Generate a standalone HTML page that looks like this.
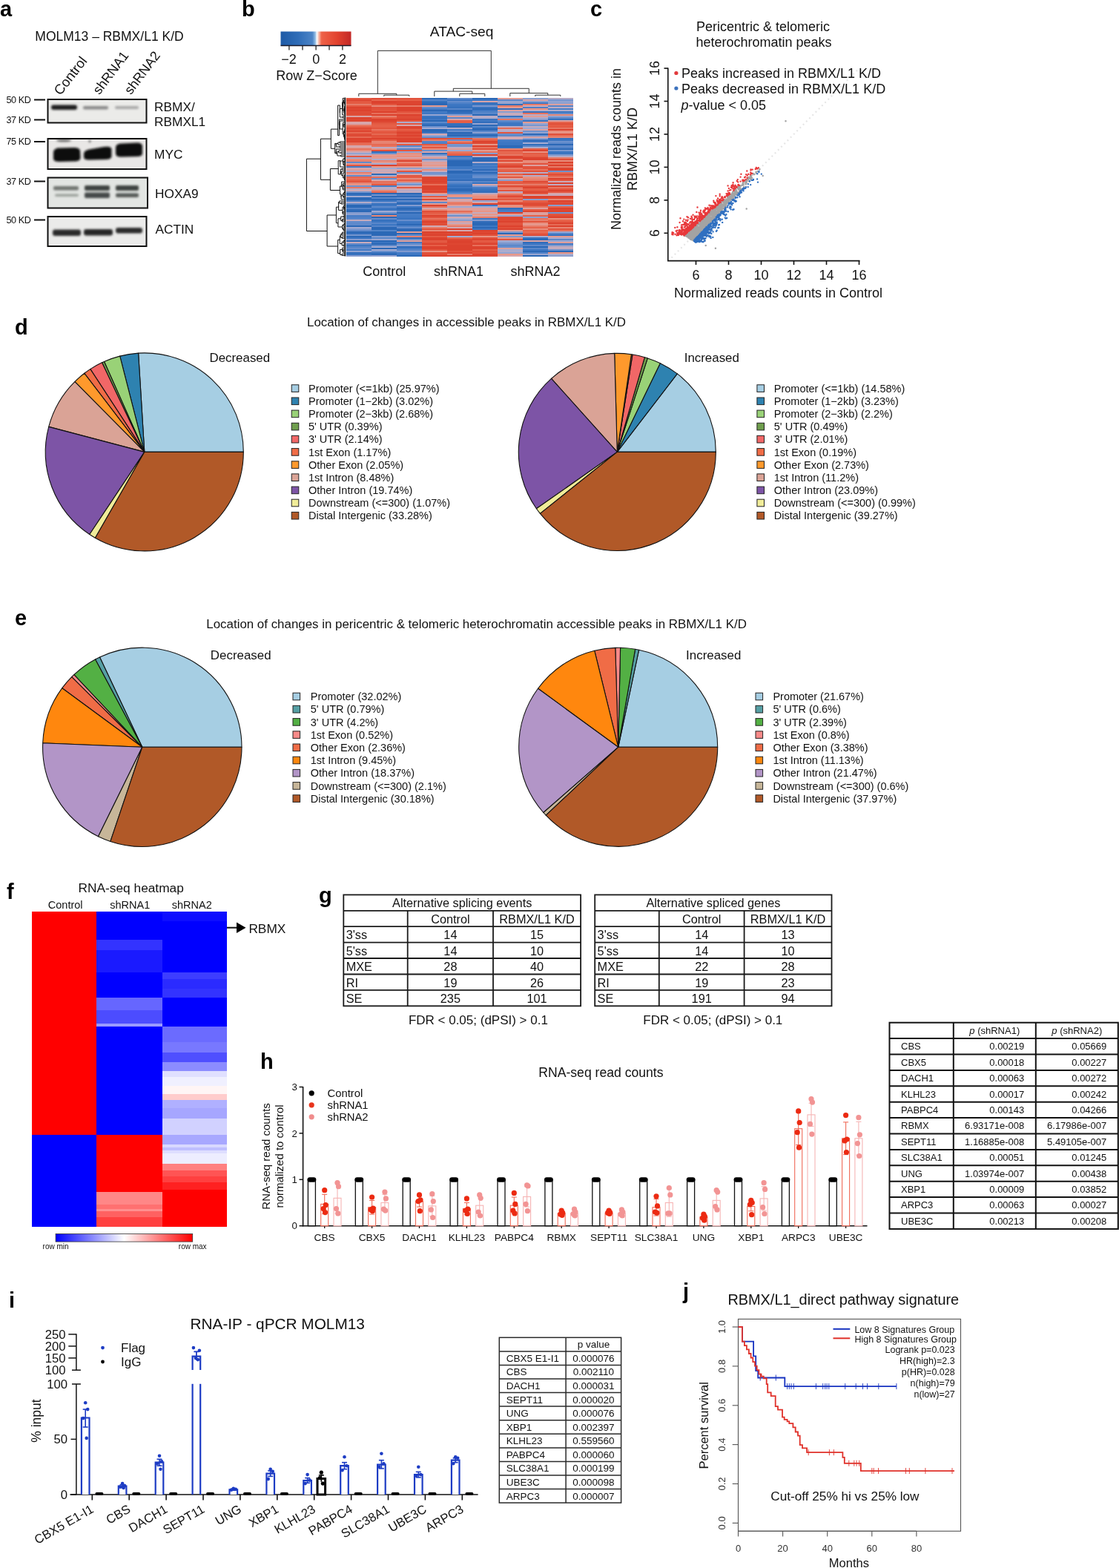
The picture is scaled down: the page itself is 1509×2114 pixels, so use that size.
<!DOCTYPE html>
<html><head><meta charset="utf-8"><title>Figure</title>
<style>
html,body{margin:0;padding:0;background:#fff;overflow:hidden;width:1509px;height:2114px;}
svg{display:block;font-family:"Liberation Sans",Arial,Helvetica,sans-serif;}
</style></head><body>
<svg width="1509" height="2114" viewBox="0 0 1509 2114">
<defs><filter id="blur1" x="-30%" y="-80%" width="160%" height="260%"><feGaussianBlur stdDeviation="1.6"/></filter>
<filter id="blur2" x="-30%" y="-80%" width="160%" height="260%"><feGaussianBlur stdDeviation="2.4"/></filter>
<filter id="blur3" x="-30%" y="-80%" width="160%" height="260%"><feGaussianBlur stdDeviation="1.0"/></filter>
<linearGradient id="zkey" x1="0" x2="1" y1="0" y2="0">
<stop offset="0" stop-color="#1d5aa6"/><stop offset="0.25" stop-color="#2f6db8"/>
<stop offset="0.45" stop-color="#4c84c6"/><stop offset="0.49" stop-color="#8ebbe4"/>
<stop offset="0.515" stop-color="#fbfbfb"/><stop offset="0.545" stop-color="#f8b4a2"/>
<stop offset="0.58" stop-color="#ee6248"/><stop offset="0.8" stop-color="#e2432f"/>
<stop offset="1" stop-color="#c22826"/></linearGradient>
<linearGradient id="fbar" x1="0" x2="1" y1="0" y2="0"><stop offset="0" stop-color="#0000ff"/><stop offset="0.5" stop-color="#ffffff"/><stop offset="1" stop-color="#ff0000"/></linearGradient></defs>
<rect x="0" y="0" width="1509" height="2114" fill="#fff"/>
<text x="0" y="22" font-size="29" font-weight="bold" fill="#000" >a</text>
<text x="147.5" y="54.5" font-size="17.5" text-anchor="middle" fill="#111" >MOLM13 – RBMX/L1 K/D</text>
<text transform="translate(81.5 129.5) rotate(-52)" font-size="18.5" fill="#111">Control</text>
<text transform="translate(134 128.5) rotate(-53)" font-size="18" fill="#111">shRNA1</text>
<text transform="translate(176.5 128.5) rotate(-53)" font-size="18" fill="#111">shRNA2</text>
<rect x="64.5" y="134" width="133" height="31.5" fill="#ebebe9"/>
<g clip-path="none" filter="url(#blur1)">
<rect x="69" y="141.5" width="35" height="6.5" rx="3" fill="#1a1a1a"/>
<rect x="112" y="143" width="34" height="4.5" rx="2" fill="#8a8a8a"/>
<rect x="155" y="143" width="32" height="4" rx="2" fill="#a8a8a8"/>
</g>
<rect x="64.5" y="134" width="133" height="31.5" fill="none" stroke="#111" stroke-width="2"/>
<rect x="64.5" y="187" width="133" height="41" fill="#e9e7e6"/>
<g filter="url(#blur1)" fill="#0e0e0e">
<path d="M72 205 Q73 199.5 80 199.5 L100 199 Q107 199 108 203 L108.5 213 Q108 217.5 100 217.5 L80 218 Q72 218 72 214 Z"/>
<path d="M113 207 Q113 203 120 201.5 L140 198 Q150 196.5 150.5 201 L150.5 211 Q150 215 142 215 L120 215.5 Q113 215.5 113 212 Z"/>
<path d="M156 199 Q156 194 163 193.5 L185 192.5 Q192 192.5 192 197 L192 207 Q192 211 185 211 L163 211.5 Q156 211.5 156 207 Z"/>
<ellipse cx="86" cy="189.5" rx="10" ry="1.8" fill="#6a6a6a"/>
<ellipse cx="121" cy="190.5" rx="1.5" ry="1.5" fill="#555"/>
</g>
<rect x="64.5" y="187" width="133" height="41" fill="none" stroke="#111" stroke-width="2"/>
<rect x="64.5" y="239.5" width="134.5" height="41" fill="#e2e5e2"/>
<g clip-path="none" filter="url(#blur1)">
<rect x="72" y="251" width="34" height="5.5" rx="2" fill="#707570"/>
<rect x="74" y="261.5" width="32" height="3.5" rx="2" fill="#9aa09a"/>
<rect x="114" y="250" width="34" height="7" rx="2" fill="#3e423f"/>
<rect x="114" y="259.5" width="34" height="7.5" rx="2" fill="#454a48"/>
<rect x="156" y="250" width="31" height="7" rx="2" fill="#3e423f"/>
<rect x="156" y="260.5" width="31" height="5.5" rx="2" fill="#555a57"/>
</g>
<rect x="64.5" y="239.5" width="134.5" height="41" fill="none" stroke="#111" stroke-width="2"/>
<rect x="64.5" y="292" width="133" height="40" fill="#ebebea"/>
<g clip-path="none" filter="url(#blur1)">
<rect x="71" y="309.5" width="38" height="8.5" rx="3" fill="#2a2a2a"/>
<rect x="113" y="309" width="39" height="8.5" rx="3" fill="#262626"/>
<rect x="156" y="307" width="36" height="7.5" rx="3" fill="#2a2a2a"/>
</g>
<rect x="64.5" y="292" width="133" height="40" fill="none" stroke="#111" stroke-width="2"/>
<text x="8.5" y="138.8" font-size="12.6" fill="#111" letter-spacing="-0.4">50 KD</text>
<line x1="46" y1="134.5" x2="61" y2="134.5" stroke="#111" stroke-width="2" />
<text x="8.5" y="165.8" font-size="12.6" fill="#111" letter-spacing="-0.4">37 KD</text>
<line x1="46" y1="161.5" x2="61" y2="161.5" stroke="#111" stroke-width="2" />
<text x="8.5" y="195.3" font-size="12.6" fill="#111" letter-spacing="-0.4">75 KD</text>
<line x1="46" y1="191" x2="61" y2="191" stroke="#111" stroke-width="2" />
<text x="8.5" y="248.8" font-size="12.6" fill="#111" letter-spacing="-0.4">37 KD</text>
<line x1="46" y1="244.5" x2="61" y2="244.5" stroke="#111" stroke-width="2" />
<text x="8.5" y="300.8" font-size="12.6" fill="#111" letter-spacing="-0.4">50 KD</text>
<line x1="46" y1="296.5" x2="61" y2="296.5" stroke="#111" stroke-width="2" />
<text x="208" y="150" font-size="17.3" fill="#111" >RBMX/</text>
<text x="208" y="170" font-size="17.3" fill="#111" >RBMXL1</text>
<text x="208" y="213.5" font-size="17.3" fill="#111" >MYC</text>
<text x="209" y="267" font-size="17.3" fill="#111" >HOXA9</text>
<text x="209.5" y="314.5" font-size="17.3" fill="#111" >ACTIN</text>
<text x="326" y="22" font-size="29" font-weight="bold" fill="#000" >b</text>
<text x="622.6" y="49.2" font-size="19.2" text-anchor="middle" fill="#111" >ATAC-seq</text>
<rect x="378.5" y="42.5" width="95" height="19" fill="url(#zkey)" />
<line x1="378.5" y1="61.5" x2="473.5" y2="61.5" stroke="#1a1a2a" stroke-width="1.5" />
<line x1="389.9" y1="61.5" x2="389.9" y2="67.5" stroke="#222" stroke-width="1.3" />
<line x1="408" y1="61.5" x2="408" y2="67.5" stroke="#222" stroke-width="1.3" />
<line x1="426.1" y1="61.5" x2="426.1" y2="67.5" stroke="#222" stroke-width="1.3" />
<line x1="444" y1="61.5" x2="444" y2="67.5" stroke="#222" stroke-width="1.3" />
<line x1="461.9" y1="61.5" x2="461.9" y2="67.5" stroke="#222" stroke-width="1.3" />
<text x="389.5" y="85.5" font-size="18" text-anchor="middle" fill="#111" >−2</text>
<text x="426.3" y="85.5" font-size="18" text-anchor="middle" fill="#111" >0</text>
<text x="462" y="85.5" font-size="18" text-anchor="middle" fill="#111" >2</text>
<text x="427" y="108" font-size="18" text-anchor="middle" fill="#111" >Row Z−Score</text>
<g shape-rendering="crispEdges">
<rect x="466.8" y="131.5" width="34.3" height="2.3" fill="#e45942"/>
<rect x="466.8" y="133.5" width="34.3" height="2.3" fill="#dd4631"/>
<rect x="466.8" y="135.5" width="34.3" height="2.3" fill="#e35841"/>
<rect x="466.8" y="137.5" width="34.3" height="2.3" fill="#e45b43"/>
<rect x="466.8" y="139.5" width="34.3" height="2.3" fill="#e77c68"/>
<rect x="466.8" y="141.5" width="34.3" height="2.3" fill="#e35841"/>
<rect x="466.8" y="143.5" width="34.3" height="2.3" fill="#dc422e"/>
<rect x="466.8" y="145.5" width="34.3" height="2.3" fill="#de4833"/>
<rect x="466.8" y="147.5" width="34.3" height="2.3" fill="#dc422e"/>
<rect x="466.8" y="149.5" width="34.3" height="2.3" fill="#df4c37"/>
<rect x="466.8" y="151.5" width="34.3" height="2.3" fill="#de4934"/>
<rect x="466.8" y="153.5" width="34.3" height="2.3" fill="#e04e38"/>
<rect x="466.8" y="155.5" width="34.3" height="2.3" fill="#d9a3a5"/>
<rect x="466.8" y="157.5" width="34.3" height="2.3" fill="#dc422e"/>
<rect x="466.8" y="159.5" width="34.3" height="4.3" fill="#dd4631"/>
<rect x="466.8" y="163.5" width="34.3" height="2.3" fill="#d8a4a7"/>
<rect x="466.8" y="165.5" width="34.3" height="2.3" fill="#d6a6ac"/>
<rect x="466.8" y="167.5" width="34.3" height="2.3" fill="#e77965"/>
<rect x="466.8" y="169.5" width="34.3" height="2.3" fill="#e65f47"/>
<rect x="466.8" y="171.5" width="34.3" height="2.3" fill="#df4b36"/>
<rect x="466.8" y="173.5" width="34.3" height="2.3" fill="#e2543d"/>
<rect x="466.8" y="175.5" width="34.3" height="2.3" fill="#dd4531"/>
<rect x="466.8" y="177.5" width="34.3" height="2.3" fill="#e66851"/>
<rect x="466.8" y="179.5" width="34.3" height="2.3" fill="#df4b36"/>
<rect x="466.8" y="181.5" width="34.3" height="2.3" fill="#de4934"/>
<rect x="466.8" y="183.5" width="34.3" height="2.3" fill="#e66953"/>
<rect x="466.8" y="185.5" width="34.3" height="2.3" fill="#dc422e"/>
<rect x="466.8" y="187.5" width="34.3" height="2.3" fill="#dd4530"/>
<rect x="466.8" y="189.5" width="34.3" height="2.3" fill="#dc422e"/>
<rect x="466.8" y="191.5" width="34.3" height="2.3" fill="#e66650"/>
<rect x="466.8" y="193.5" width="34.3" height="2.3" fill="#e76f59"/>
<rect x="466.8" y="195.5" width="34.3" height="2.3" fill="#d4a8b0"/>
<rect x="466.8" y="197.5" width="34.3" height="2.3" fill="#de9f9b"/>
<rect x="466.8" y="199.5" width="34.3" height="2.3" fill="#e7745f"/>
<rect x="466.8" y="201.5" width="34.3" height="2.3" fill="#e88e7e"/>
<rect x="466.8" y="203.5" width="34.3" height="2.3" fill="#ccaab8"/>
<rect x="466.8" y="205.5" width="34.3" height="2.3" fill="#94a4d1"/>
<rect x="466.8" y="207.5" width="34.3" height="2.3" fill="#c4abbe"/>
<rect x="466.8" y="209.5" width="34.3" height="2.3" fill="#e35841"/>
<rect x="466.8" y="211.5" width="34.3" height="2.3" fill="#a3abd2"/>
<rect x="466.8" y="213.5" width="34.3" height="2.3" fill="#e88e7e"/>
<rect x="466.8" y="215.5" width="34.3" height="2.3" fill="#e7826f"/>
<rect x="466.8" y="217.5" width="34.3" height="2.3" fill="#638ccc"/>
<rect x="466.8" y="219.5" width="34.3" height="2.3" fill="#e5998e"/>
<rect x="466.8" y="221.5" width="34.3" height="2.3" fill="#e35640"/>
<rect x="466.8" y="223.5" width="34.3" height="2.3" fill="#447bc5"/>
<rect x="466.8" y="225.5" width="34.3" height="2.3" fill="#d5a7ae"/>
<rect x="466.8" y="227.5" width="34.3" height="2.3" fill="#de9f9b"/>
<rect x="466.8" y="229.5" width="34.3" height="2.3" fill="#a2abd2"/>
<rect x="466.8" y="231.5" width="34.3" height="2.3" fill="#e77d6a"/>
<rect x="466.8" y="233.5" width="34.3" height="2.3" fill="#e09d98"/>
<rect x="466.8" y="235.5" width="34.3" height="2.3" fill="#658dcc"/>
<rect x="466.8" y="237.5" width="34.3" height="2.3" fill="#e6664f"/>
<rect x="466.8" y="239.5" width="34.3" height="2.3" fill="#e7715c"/>
<rect x="466.8" y="241.5" width="34.3" height="2.3" fill="#e65f47"/>
<rect x="466.8" y="243.5" width="34.3" height="2.3" fill="#e2533d"/>
<rect x="466.8" y="245.5" width="34.3" height="2.3" fill="#e78675"/>
<rect x="466.8" y="247.5" width="34.3" height="2.3" fill="#e79688"/>
<rect x="466.8" y="249.5" width="34.3" height="2.3" fill="#7093ce"/>
<rect x="466.8" y="251.5" width="34.3" height="2.3" fill="#e77560"/>
<rect x="466.8" y="253.5" width="34.3" height="2.3" fill="#b9abc4"/>
<rect x="466.8" y="255.5" width="34.3" height="2.3" fill="#cbaab8"/>
<rect x="466.8" y="257.5" width="34.3" height="2.3" fill="#7395ce"/>
<rect x="466.8" y="259.5" width="34.3" height="2.3" fill="#2d69b7"/>
<rect x="466.8" y="261.5" width="34.3" height="2.3" fill="#3470bd"/>
<rect x="466.8" y="263.5" width="34.3" height="2.3" fill="#a2abd2"/>
<rect x="466.8" y="265.5" width="34.3" height="4.3" fill="#2b68b6"/>
<rect x="466.8" y="269.5" width="34.3" height="2.3" fill="#4d80c7"/>
<rect x="466.8" y="271.5" width="34.3" height="2.3" fill="#b4abc8"/>
<rect x="466.8" y="273.5" width="34.3" height="2.3" fill="#618bcb"/>
<rect x="466.8" y="275.5" width="34.3" height="4.3" fill="#2b68b6"/>
<rect x="466.8" y="279.5" width="34.3" height="2.3" fill="#5484c9"/>
<rect x="466.8" y="281.5" width="34.3" height="2.3" fill="#316dba"/>
<rect x="466.8" y="283.5" width="34.3" height="2.3" fill="#2b68b6"/>
<rect x="466.8" y="285.5" width="34.3" height="2.3" fill="#829bcf"/>
<rect x="466.8" y="287.5" width="34.3" height="2.3" fill="#8fa1d0"/>
<rect x="466.8" y="289.5" width="34.3" height="2.3" fill="#487dc6"/>
<rect x="466.8" y="291.5" width="34.3" height="2.3" fill="#4d80c7"/>
<rect x="466.8" y="293.5" width="34.3" height="2.3" fill="#5886ca"/>
<rect x="466.8" y="295.5" width="34.3" height="2.3" fill="#c5abbd"/>
<rect x="466.8" y="297.5" width="34.3" height="2.3" fill="#648ccc"/>
<rect x="466.8" y="299.5" width="34.3" height="2.3" fill="#5e89cb"/>
<rect x="466.8" y="301.5" width="34.3" height="2.3" fill="#5f8acb"/>
<rect x="466.8" y="303.5" width="34.3" height="2.3" fill="#2b68b6"/>
<rect x="466.8" y="305.5" width="34.3" height="2.3" fill="#a1aad2"/>
<rect x="466.8" y="307.5" width="34.3" height="2.3" fill="#7f9acf"/>
<rect x="466.8" y="309.5" width="34.3" height="2.3" fill="#5e89cb"/>
<rect x="466.8" y="311.5" width="34.3" height="2.3" fill="#2b68b6"/>
<rect x="466.8" y="313.5" width="34.3" height="2.3" fill="#336ebc"/>
<rect x="466.8" y="315.5" width="34.3" height="2.3" fill="#7495ce"/>
<rect x="466.8" y="317.5" width="34.3" height="2.3" fill="#2b68b6"/>
<rect x="466.8" y="319.5" width="34.3" height="2.3" fill="#3b75c2"/>
<rect x="466.8" y="321.5" width="34.3" height="2.3" fill="#869dd0"/>
<rect x="466.8" y="323.5" width="34.3" height="2.3" fill="#2b68b6"/>
<rect x="466.8" y="325.5" width="34.3" height="2.3" fill="#c7abbc"/>
<rect x="466.8" y="327.5" width="34.3" height="2.3" fill="#608acb"/>
<rect x="466.8" y="329.5" width="34.3" height="2.3" fill="#3b76c2"/>
<rect x="466.8" y="331.5" width="34.3" height="2.3" fill="#5283c8"/>
<rect x="466.8" y="333.5" width="34.3" height="2.3" fill="#668dcc"/>
<rect x="466.8" y="335.5" width="34.3" height="2.3" fill="#457cc6"/>
<rect x="466.8" y="337.5" width="34.3" height="2.3" fill="#93a4d1"/>
<rect x="466.8" y="339.5" width="34.3" height="2.3" fill="#326ebb"/>
<rect x="466.8" y="341.5" width="34.3" height="2.3" fill="#3772be"/>
<rect x="466.8" y="343.5" width="34.3" height="2.3" fill="#889ed0"/>
<rect x="500.8" y="131.5" width="34.3" height="2.3" fill="#df4b36"/>
<rect x="500.8" y="133.5" width="34.3" height="2.3" fill="#e6664f"/>
<rect x="500.8" y="135.5" width="34.3" height="4.3" fill="#dc422e"/>
<rect x="500.8" y="139.5" width="34.3" height="2.3" fill="#e35740"/>
<rect x="500.8" y="141.5" width="34.3" height="2.3" fill="#e78877"/>
<rect x="500.8" y="143.5" width="34.3" height="2.3" fill="#e04f3a"/>
<rect x="500.8" y="145.5" width="34.3" height="2.3" fill="#e1503a"/>
<rect x="500.8" y="147.5" width="34.3" height="2.3" fill="#e2543d"/>
<rect x="500.8" y="149.5" width="34.3" height="2.3" fill="#dc422e"/>
<rect x="500.8" y="151.5" width="34.3" height="2.3" fill="#e7705b"/>
<rect x="500.8" y="153.5" width="34.3" height="2.3" fill="#dc422e"/>
<rect x="500.8" y="155.5" width="34.3" height="2.3" fill="#e7816e"/>
<rect x="500.8" y="157.5" width="34.3" height="2.3" fill="#e66048"/>
<rect x="500.8" y="159.5" width="34.3" height="4.3" fill="#dc422e"/>
<rect x="500.8" y="163.5" width="34.3" height="2.3" fill="#e04e38"/>
<rect x="500.8" y="165.5" width="34.3" height="2.3" fill="#e45b43"/>
<rect x="500.8" y="167.5" width="34.3" height="2.3" fill="#e66048"/>
<rect x="500.8" y="169.5" width="34.3" height="2.3" fill="#e65f48"/>
<rect x="500.8" y="171.5" width="34.3" height="2.3" fill="#e2553e"/>
<rect x="500.8" y="173.5" width="34.3" height="2.3" fill="#e77561"/>
<rect x="500.8" y="175.5" width="34.3" height="2.3" fill="#e55c45"/>
<rect x="500.8" y="177.5" width="34.3" height="2.3" fill="#e2553e"/>
<rect x="500.8" y="179.5" width="34.3" height="2.3" fill="#e66952"/>
<rect x="500.8" y="181.5" width="34.3" height="2.3" fill="#e1503a"/>
<rect x="500.8" y="183.5" width="34.3" height="2.3" fill="#e2553e"/>
<rect x="500.8" y="185.5" width="34.3" height="2.3" fill="#dc422e"/>
<rect x="500.8" y="187.5" width="34.3" height="2.3" fill="#e45b44"/>
<rect x="500.8" y="189.5" width="34.3" height="2.3" fill="#e78675"/>
<rect x="500.8" y="191.5" width="34.3" height="2.3" fill="#e78270"/>
<rect x="500.8" y="193.5" width="34.3" height="2.3" fill="#e66a54"/>
<rect x="500.8" y="195.5" width="34.3" height="2.3" fill="#e7725d"/>
<rect x="500.8" y="197.5" width="34.3" height="2.3" fill="#bbabc4"/>
<rect x="500.8" y="199.5" width="34.3" height="2.3" fill="#e89688"/>
<rect x="500.8" y="201.5" width="34.3" height="2.3" fill="#e04f3a"/>
<rect x="500.8" y="203.5" width="34.3" height="2.3" fill="#316dba"/>
<rect x="500.8" y="205.5" width="34.3" height="2.3" fill="#6a90cd"/>
<rect x="500.8" y="207.5" width="34.3" height="2.3" fill="#e29c94"/>
<rect x="500.8" y="209.5" width="34.3" height="2.3" fill="#e89687"/>
<rect x="500.8" y="211.5" width="34.3" height="2.3" fill="#e19c94"/>
<rect x="500.8" y="213.5" width="34.3" height="2.3" fill="#b0accb"/>
<rect x="500.8" y="215.5" width="34.3" height="2.3" fill="#e78472"/>
<rect x="500.8" y="217.5" width="34.3" height="2.3" fill="#e39a91"/>
<rect x="500.8" y="219.5" width="34.3" height="2.3" fill="#a5acd2"/>
<rect x="500.8" y="221.5" width="34.3" height="2.3" fill="#dc422e"/>
<rect x="500.8" y="223.5" width="34.3" height="2.3" fill="#e6988a"/>
<rect x="500.8" y="225.5" width="34.3" height="2.3" fill="#a2abd2"/>
<rect x="500.8" y="227.5" width="34.3" height="2.3" fill="#d3a9b1"/>
<rect x="500.8" y="229.5" width="34.3" height="2.3" fill="#c7aabb"/>
<rect x="500.8" y="231.5" width="34.3" height="2.3" fill="#d5a7ae"/>
<rect x="500.8" y="233.5" width="34.3" height="2.3" fill="#2e6bb8"/>
<rect x="500.8" y="235.5" width="34.3" height="2.3" fill="#a9accf"/>
<rect x="500.8" y="237.5" width="34.3" height="2.3" fill="#e66c56"/>
<rect x="500.8" y="239.5" width="34.3" height="2.3" fill="#678ecd"/>
<rect x="500.8" y="241.5" width="34.3" height="2.3" fill="#d5a8ae"/>
<rect x="500.8" y="243.5" width="34.3" height="2.3" fill="#e7705a"/>
<rect x="500.8" y="245.5" width="34.3" height="2.3" fill="#e77662"/>
<rect x="500.8" y="247.5" width="34.3" height="2.3" fill="#e35841"/>
<rect x="500.8" y="249.5" width="34.3" height="2.3" fill="#477dc6"/>
<rect x="500.8" y="251.5" width="34.3" height="2.3" fill="#b9abc5"/>
<rect x="500.8" y="253.5" width="34.3" height="2.3" fill="#baabc4"/>
<rect x="500.8" y="255.5" width="34.3" height="2.3" fill="#e78675"/>
<rect x="500.8" y="257.5" width="34.3" height="2.3" fill="#e6664f"/>
<rect x="500.8" y="259.5" width="34.3" height="2.3" fill="#2b68b6"/>
<rect x="500.8" y="261.5" width="34.3" height="2.3" fill="#7294ce"/>
<rect x="500.8" y="263.5" width="34.3" height="2.3" fill="#2b68b6"/>
<rect x="500.8" y="265.5" width="34.3" height="2.3" fill="#5886c9"/>
<rect x="500.8" y="267.5" width="34.3" height="2.3" fill="#2b68b6"/>
<rect x="500.8" y="269.5" width="34.3" height="2.3" fill="#3c77c3"/>
<rect x="500.8" y="271.5" width="34.3" height="2.3" fill="#7d99cf"/>
<rect x="500.8" y="273.5" width="34.3" height="2.3" fill="#3772bf"/>
<rect x="500.8" y="275.5" width="34.3" height="2.3" fill="#3d77c3"/>
<rect x="500.8" y="277.5" width="34.3" height="2.3" fill="#5e8acb"/>
<rect x="500.8" y="279.5" width="34.3" height="2.3" fill="#3c76c2"/>
<rect x="500.8" y="281.5" width="34.3" height="2.3" fill="#3873bf"/>
<rect x="500.8" y="283.5" width="34.3" height="2.3" fill="#a0aad2"/>
<rect x="500.8" y="285.5" width="34.3" height="2.3" fill="#6e92ce"/>
<rect x="500.8" y="287.5" width="34.3" height="2.3" fill="#3470bd"/>
<rect x="500.8" y="289.5" width="34.3" height="2.3" fill="#e78573"/>
<rect x="500.8" y="291.5" width="34.3" height="2.3" fill="#2b68b6"/>
<rect x="500.8" y="293.5" width="34.3" height="2.3" fill="#668dcc"/>
<rect x="500.8" y="295.5" width="34.3" height="2.3" fill="#3470bd"/>
<rect x="500.8" y="297.5" width="34.3" height="2.3" fill="#3c76c2"/>
<rect x="500.8" y="299.5" width="34.3" height="2.3" fill="#5987ca"/>
<rect x="500.8" y="301.5" width="34.3" height="2.3" fill="#3d77c3"/>
<rect x="500.8" y="303.5" width="34.3" height="2.3" fill="#5584c9"/>
<rect x="500.8" y="305.5" width="34.3" height="4.3" fill="#2b68b6"/>
<rect x="500.8" y="309.5" width="34.3" height="2.3" fill="#5384c8"/>
<rect x="500.8" y="311.5" width="34.3" height="6.3" fill="#2b68b6"/>
<rect x="500.8" y="317.5" width="34.3" height="2.3" fill="#849dd0"/>
<rect x="500.8" y="319.5" width="34.3" height="2.3" fill="#5b88ca"/>
<rect x="500.8" y="321.5" width="34.3" height="2.3" fill="#9aa7d1"/>
<rect x="500.8" y="323.5" width="34.3" height="2.3" fill="#2b68b6"/>
<rect x="500.8" y="325.5" width="34.3" height="2.3" fill="#3974c1"/>
<rect x="500.8" y="327.5" width="34.3" height="2.3" fill="#2b68b6"/>
<rect x="500.8" y="329.5" width="34.3" height="2.3" fill="#5d89ca"/>
<rect x="500.8" y="331.5" width="34.3" height="2.3" fill="#a6acd1"/>
<rect x="500.8" y="333.5" width="34.3" height="2.3" fill="#2b68b6"/>
<rect x="500.8" y="335.5" width="34.3" height="2.3" fill="#a3abd2"/>
<rect x="500.8" y="337.5" width="34.3" height="2.3" fill="#6a90cd"/>
<rect x="500.8" y="339.5" width="34.3" height="2.3" fill="#3671be"/>
<rect x="500.8" y="341.5" width="34.3" height="2.3" fill="#2b68b6"/>
<rect x="500.8" y="343.5" width="34.3" height="2.3" fill="#93a3d1"/>
<rect x="534.8" y="131.5" width="34.3" height="2.3" fill="#e1523c"/>
<rect x="534.8" y="133.5" width="34.3" height="2.3" fill="#e65f47"/>
<rect x="534.8" y="135.5" width="34.3" height="4.3" fill="#dd4531"/>
<rect x="534.8" y="139.5" width="34.3" height="2.3" fill="#dc422e"/>
<rect x="534.8" y="141.5" width="34.3" height="2.3" fill="#e77965"/>
<rect x="534.8" y="143.5" width="34.3" height="6.3" fill="#dc422e"/>
<rect x="534.8" y="149.5" width="34.3" height="2.3" fill="#e2543e"/>
<rect x="534.8" y="151.5" width="34.3" height="2.3" fill="#e6664f"/>
<rect x="534.8" y="153.5" width="34.3" height="2.3" fill="#dc422e"/>
<rect x="534.8" y="155.5" width="34.3" height="4.3" fill="#df4c37"/>
<rect x="534.8" y="159.5" width="34.3" height="2.3" fill="#dc422e"/>
<rect x="534.8" y="161.5" width="34.3" height="2.3" fill="#e3563f"/>
<rect x="534.8" y="163.5" width="34.3" height="2.3" fill="#adaccd"/>
<rect x="534.8" y="165.5" width="34.3" height="2.3" fill="#e45942"/>
<rect x="534.8" y="167.5" width="34.3" height="2.3" fill="#d7a5aa"/>
<rect x="534.8" y="169.5" width="34.3" height="2.3" fill="#dc422e"/>
<rect x="534.8" y="171.5" width="34.3" height="2.3" fill="#de4733"/>
<rect x="534.8" y="173.5" width="34.3" height="2.3" fill="#e65f47"/>
<rect x="534.8" y="175.5" width="34.3" height="2.3" fill="#e1503a"/>
<rect x="534.8" y="177.5" width="34.3" height="2.3" fill="#dc422e"/>
<rect x="534.8" y="179.5" width="34.3" height="2.3" fill="#e04d38"/>
<rect x="534.8" y="181.5" width="34.3" height="2.3" fill="#dc422e"/>
<rect x="534.8" y="183.5" width="34.3" height="2.3" fill="#e1513b"/>
<rect x="534.8" y="185.5" width="34.3" height="6.3" fill="#dc422e"/>
<rect x="534.8" y="191.5" width="34.3" height="2.3" fill="#d0aab5"/>
<rect x="534.8" y="193.5" width="34.3" height="2.3" fill="#e45a43"/>
<rect x="534.8" y="195.5" width="34.3" height="2.3" fill="#5c88ca"/>
<rect x="534.8" y="197.5" width="34.3" height="2.3" fill="#a2aad2"/>
<rect x="534.8" y="199.5" width="34.3" height="2.3" fill="#5785c9"/>
<rect x="534.8" y="201.5" width="34.3" height="2.3" fill="#e3563f"/>
<rect x="534.8" y="203.5" width="34.3" height="2.3" fill="#92a3d1"/>
<rect x="534.8" y="205.5" width="34.3" height="2.3" fill="#e88e7e"/>
<rect x="534.8" y="207.5" width="34.3" height="2.3" fill="#e5988c"/>
<rect x="534.8" y="209.5" width="34.3" height="2.3" fill="#e88f7f"/>
<rect x="534.8" y="211.5" width="34.3" height="2.3" fill="#d5a7ae"/>
<rect x="534.8" y="213.5" width="34.3" height="2.3" fill="#e77d6a"/>
<rect x="534.8" y="215.5" width="34.3" height="2.3" fill="#dc432f"/>
<rect x="534.8" y="217.5" width="34.3" height="2.3" fill="#e88a79"/>
<rect x="534.8" y="219.5" width="34.3" height="2.3" fill="#e66952"/>
<rect x="534.8" y="221.5" width="34.3" height="2.3" fill="#e35740"/>
<rect x="534.8" y="223.5" width="34.3" height="2.3" fill="#e5998d"/>
<rect x="534.8" y="225.5" width="34.3" height="2.3" fill="#8fa2d0"/>
<rect x="534.8" y="227.5" width="34.3" height="2.3" fill="#d6a6ab"/>
<rect x="534.8" y="229.5" width="34.3" height="2.3" fill="#e2553f"/>
<rect x="534.8" y="231.5" width="34.3" height="2.3" fill="#6a90cd"/>
<rect x="534.8" y="233.5" width="34.3" height="2.3" fill="#d5a8af"/>
<rect x="534.8" y="235.5" width="34.3" height="2.3" fill="#e35740"/>
<rect x="534.8" y="237.5" width="34.3" height="2.3" fill="#e55d45"/>
<rect x="534.8" y="239.5" width="34.3" height="2.3" fill="#e88c7c"/>
<rect x="534.8" y="241.5" width="34.3" height="2.3" fill="#e55c45"/>
<rect x="534.8" y="243.5" width="34.3" height="2.3" fill="#e7826f"/>
<rect x="534.8" y="245.5" width="34.3" height="2.3" fill="#98a6d1"/>
<rect x="534.8" y="247.5" width="34.3" height="2.3" fill="#7093ce"/>
<rect x="534.8" y="249.5" width="34.3" height="2.3" fill="#d3a9b2"/>
<rect x="534.8" y="251.5" width="34.3" height="2.3" fill="#e45942"/>
<rect x="534.8" y="253.5" width="34.3" height="2.3" fill="#d6a6ac"/>
<rect x="534.8" y="255.5" width="34.3" height="2.3" fill="#b6abc7"/>
<rect x="534.8" y="257.5" width="34.3" height="2.3" fill="#c5abbd"/>
<rect x="534.8" y="259.5" width="34.3" height="2.3" fill="#2b68b6"/>
<rect x="534.8" y="261.5" width="34.3" height="2.3" fill="#477dc6"/>
<rect x="534.8" y="263.5" width="34.3" height="2.3" fill="#2d6ab8"/>
<rect x="534.8" y="265.5" width="34.3" height="2.3" fill="#648dcc"/>
<rect x="534.8" y="267.5" width="34.3" height="2.3" fill="#2b68b6"/>
<rect x="534.8" y="269.5" width="34.3" height="2.3" fill="#628bcb"/>
<rect x="534.8" y="271.5" width="34.3" height="2.3" fill="#3772bf"/>
<rect x="534.8" y="273.5" width="34.3" height="2.3" fill="#2b68b6"/>
<rect x="534.8" y="275.5" width="34.3" height="2.3" fill="#839cd0"/>
<rect x="534.8" y="277.5" width="34.3" height="2.3" fill="#3e78c4"/>
<rect x="534.8" y="279.5" width="34.3" height="2.3" fill="#2b68b6"/>
<rect x="534.8" y="281.5" width="34.3" height="2.3" fill="#336fbc"/>
<rect x="534.8" y="283.5" width="34.3" height="2.3" fill="#608acb"/>
<rect x="534.8" y="285.5" width="34.3" height="2.3" fill="#2b68b6"/>
<rect x="534.8" y="287.5" width="34.3" height="2.3" fill="#457cc6"/>
<rect x="534.8" y="289.5" width="34.3" height="2.3" fill="#437bc5"/>
<rect x="534.8" y="291.5" width="34.3" height="2.3" fill="#3f78c4"/>
<rect x="534.8" y="293.5" width="34.3" height="2.3" fill="#3873c0"/>
<rect x="534.8" y="295.5" width="34.3" height="2.3" fill="#678ecd"/>
<rect x="534.8" y="297.5" width="34.3" height="2.3" fill="#3e78c4"/>
<rect x="534.8" y="299.5" width="34.3" height="2.3" fill="#3a75c1"/>
<rect x="534.8" y="301.5" width="34.3" height="2.3" fill="#2b68b6"/>
<rect x="534.8" y="303.5" width="34.3" height="2.3" fill="#4d80c7"/>
<rect x="534.8" y="305.5" width="34.3" height="2.3" fill="#668dcc"/>
<rect x="534.8" y="307.5" width="34.3" height="2.3" fill="#2d69b7"/>
<rect x="534.8" y="309.5" width="34.3" height="2.3" fill="#2b68b6"/>
<rect x="534.8" y="311.5" width="34.3" height="2.3" fill="#e19c95"/>
<rect x="534.8" y="313.5" width="34.3" height="2.3" fill="#2b68b6"/>
<rect x="534.8" y="315.5" width="34.3" height="2.3" fill="#638ccc"/>
<rect x="534.8" y="317.5" width="34.3" height="2.3" fill="#e7806e"/>
<rect x="534.8" y="319.5" width="34.3" height="2.3" fill="#306cb9"/>
<rect x="534.8" y="321.5" width="34.3" height="2.3" fill="#7194ce"/>
<rect x="534.8" y="323.5" width="34.3" height="2.3" fill="#df9e9a"/>
<rect x="534.8" y="325.5" width="34.3" height="2.3" fill="#3f78c4"/>
<rect x="534.8" y="327.5" width="34.3" height="2.3" fill="#688fcd"/>
<rect x="534.8" y="329.5" width="34.3" height="2.3" fill="#889ed0"/>
<rect x="534.8" y="331.5" width="34.3" height="2.3" fill="#306cba"/>
<rect x="534.8" y="333.5" width="34.3" height="2.3" fill="#4179c5"/>
<rect x="534.8" y="335.5" width="34.3" height="2.3" fill="#5886c9"/>
<rect x="534.8" y="337.5" width="34.3" height="2.3" fill="#809acf"/>
<rect x="534.8" y="339.5" width="34.3" height="2.3" fill="#447bc5"/>
<rect x="534.8" y="341.5" width="34.3" height="2.3" fill="#3d77c3"/>
<rect x="534.8" y="343.5" width="34.3" height="2.3" fill="#2e6bb8"/>
<rect x="568.8" y="131.5" width="34.3" height="2.3" fill="#2e6bb8"/>
<rect x="568.8" y="133.5" width="34.3" height="2.3" fill="#5484c9"/>
<rect x="568.8" y="135.5" width="34.3" height="2.3" fill="#3672be"/>
<rect x="568.8" y="137.5" width="34.3" height="4.3" fill="#2b68b6"/>
<rect x="568.8" y="141.5" width="34.3" height="2.3" fill="#e49a8f"/>
<rect x="568.8" y="143.5" width="34.3" height="2.3" fill="#638ccc"/>
<rect x="568.8" y="145.5" width="34.3" height="2.3" fill="#457cc5"/>
<rect x="568.8" y="147.5" width="34.3" height="2.3" fill="#2b68b6"/>
<rect x="568.8" y="149.5" width="34.3" height="2.3" fill="#447bc5"/>
<rect x="568.8" y="151.5" width="34.3" height="2.3" fill="#3d77c3"/>
<rect x="568.8" y="153.5" width="34.3" height="2.3" fill="#94a4d1"/>
<rect x="568.8" y="155.5" width="34.3" height="2.3" fill="#3c77c3"/>
<rect x="568.8" y="157.5" width="34.3" height="2.3" fill="#336fbc"/>
<rect x="568.8" y="159.5" width="34.3" height="2.3" fill="#3e78c4"/>
<rect x="568.8" y="161.5" width="34.3" height="2.3" fill="#2b68b6"/>
<rect x="568.8" y="163.5" width="34.3" height="2.3" fill="#5d89ca"/>
<rect x="568.8" y="165.5" width="34.3" height="2.3" fill="#3a75c1"/>
<rect x="568.8" y="167.5" width="34.3" height="2.3" fill="#2b68b6"/>
<rect x="568.8" y="169.5" width="34.3" height="2.3" fill="#6f92ce"/>
<rect x="568.8" y="171.5" width="34.3" height="2.3" fill="#a2aad2"/>
<rect x="568.8" y="173.5" width="34.3" height="4.3" fill="#2b68b6"/>
<rect x="568.8" y="177.5" width="34.3" height="2.3" fill="#3a74c1"/>
<rect x="568.8" y="179.5" width="34.3" height="2.3" fill="#d4a8b0"/>
<rect x="568.8" y="181.5" width="34.3" height="2.3" fill="#97a5d1"/>
<rect x="568.8" y="183.5" width="34.3" height="2.3" fill="#638ccc"/>
<rect x="568.8" y="185.5" width="34.3" height="2.3" fill="#e04f39"/>
<rect x="568.8" y="187.5" width="34.3" height="2.3" fill="#e77c69"/>
<rect x="568.8" y="189.5" width="34.3" height="2.3" fill="#5585c9"/>
<rect x="568.8" y="191.5" width="34.3" height="2.3" fill="#4c80c7"/>
<rect x="568.8" y="193.5" width="34.3" height="2.3" fill="#e45a42"/>
<rect x="568.8" y="195.5" width="34.3" height="2.3" fill="#e77f6d"/>
<rect x="568.8" y="197.5" width="34.3" height="2.3" fill="#e35740"/>
<rect x="568.8" y="199.5" width="34.3" height="2.3" fill="#e88c7b"/>
<rect x="568.8" y="201.5" width="34.3" height="2.3" fill="#698fcd"/>
<rect x="568.8" y="203.5" width="34.3" height="2.3" fill="#d7a5a9"/>
<rect x="568.8" y="205.5" width="34.3" height="2.3" fill="#346fbc"/>
<rect x="568.8" y="207.5" width="34.3" height="2.3" fill="#7294ce"/>
<rect x="568.8" y="209.5" width="34.3" height="2.3" fill="#bcabc2"/>
<rect x="568.8" y="211.5" width="34.3" height="2.3" fill="#e29b93"/>
<rect x="568.8" y="213.5" width="34.3" height="2.3" fill="#7495ce"/>
<rect x="568.8" y="215.5" width="34.3" height="2.3" fill="#b5abc7"/>
<rect x="568.8" y="217.5" width="34.3" height="2.3" fill="#e09e98"/>
<rect x="568.8" y="219.5" width="34.3" height="2.3" fill="#dca19f"/>
<rect x="568.8" y="221.5" width="34.3" height="2.3" fill="#e79789"/>
<rect x="568.8" y="223.5" width="34.3" height="2.3" fill="#d5a7ad"/>
<rect x="568.8" y="225.5" width="34.3" height="2.3" fill="#9fa9d2"/>
<rect x="568.8" y="227.5" width="34.3" height="2.3" fill="#e88d7d"/>
<rect x="568.8" y="229.5" width="34.3" height="2.3" fill="#c9aaba"/>
<rect x="568.8" y="231.5" width="34.3" height="2.3" fill="#6c91ce"/>
<rect x="568.8" y="233.5" width="34.3" height="2.3" fill="#7f9acf"/>
<rect x="568.8" y="235.5" width="34.3" height="2.3" fill="#c3abbe"/>
<rect x="568.8" y="237.5" width="34.3" height="2.3" fill="#de4833"/>
<rect x="568.8" y="239.5" width="34.3" height="2.3" fill="#dc422e"/>
<rect x="568.8" y="241.5" width="34.3" height="2.3" fill="#dd4531"/>
<rect x="568.8" y="243.5" width="34.3" height="2.3" fill="#dc422e"/>
<rect x="568.8" y="245.5" width="34.3" height="2.3" fill="#de4934"/>
<rect x="568.8" y="247.5" width="34.3" height="2.3" fill="#e76e58"/>
<rect x="568.8" y="249.5" width="34.3" height="6.3" fill="#dc422e"/>
<rect x="568.8" y="255.5" width="34.3" height="2.3" fill="#df4a35"/>
<rect x="568.8" y="257.5" width="34.3" height="2.3" fill="#dc422e"/>
<rect x="568.8" y="259.5" width="34.3" height="2.3" fill="#e6988b"/>
<rect x="568.8" y="261.5" width="34.3" height="2.3" fill="#9fa9d2"/>
<rect x="568.8" y="263.5" width="34.3" height="2.3" fill="#e45b44"/>
<rect x="568.8" y="265.5" width="34.3" height="2.3" fill="#e89688"/>
<rect x="568.8" y="267.5" width="34.3" height="2.3" fill="#df4a35"/>
<rect x="568.8" y="269.5" width="34.3" height="2.3" fill="#e19c95"/>
<rect x="568.8" y="271.5" width="34.3" height="2.3" fill="#5e89cb"/>
<rect x="568.8" y="273.5" width="34.3" height="2.3" fill="#e39b91"/>
<rect x="568.8" y="275.5" width="34.3" height="2.3" fill="#dc422e"/>
<rect x="568.8" y="277.5" width="34.3" height="2.3" fill="#e7715c"/>
<rect x="568.8" y="279.5" width="34.3" height="2.3" fill="#d5a7ad"/>
<rect x="568.8" y="281.5" width="34.3" height="2.3" fill="#e88b7a"/>
<rect x="568.8" y="283.5" width="34.3" height="2.3" fill="#e04f3a"/>
<rect x="568.8" y="285.5" width="34.3" height="2.3" fill="#e45a43"/>
<rect x="568.8" y="287.5" width="34.3" height="2.3" fill="#e6664f"/>
<rect x="568.8" y="289.5" width="34.3" height="2.3" fill="#dc422e"/>
<rect x="568.8" y="291.5" width="34.3" height="2.3" fill="#e2553e"/>
<rect x="568.8" y="293.5" width="34.3" height="2.3" fill="#e7735f"/>
<rect x="568.8" y="295.5" width="34.3" height="2.3" fill="#e35841"/>
<rect x="568.8" y="297.5" width="34.3" height="2.3" fill="#dc422e"/>
<rect x="568.8" y="299.5" width="34.3" height="2.3" fill="#e04e38"/>
<rect x="568.8" y="301.5" width="34.3" height="2.3" fill="#e04d37"/>
<rect x="568.8" y="303.5" width="34.3" height="2.3" fill="#cfaab6"/>
<rect x="568.8" y="305.5" width="34.3" height="2.3" fill="#e77c69"/>
<rect x="568.8" y="307.5" width="34.3" height="2.3" fill="#e2543e"/>
<rect x="568.8" y="309.5" width="34.3" height="2.3" fill="#e78675"/>
<rect x="568.8" y="311.5" width="34.3" height="2.3" fill="#dc422e"/>
<rect x="568.8" y="313.5" width="34.3" height="2.3" fill="#de4732"/>
<rect x="568.8" y="315.5" width="34.3" height="2.3" fill="#dc422e"/>
<rect x="568.8" y="317.5" width="34.3" height="2.3" fill="#e45b44"/>
<rect x="568.8" y="319.5" width="34.3" height="4.3" fill="#dc422e"/>
<rect x="568.8" y="323.5" width="34.3" height="2.3" fill="#e45b44"/>
<rect x="568.8" y="325.5" width="34.3" height="2.3" fill="#e2543d"/>
<rect x="568.8" y="327.5" width="34.3" height="2.3" fill="#dc422e"/>
<rect x="568.8" y="329.5" width="34.3" height="2.3" fill="#e65f47"/>
<rect x="568.8" y="331.5" width="34.3" height="4.3" fill="#dc422e"/>
<rect x="568.8" y="335.5" width="34.3" height="2.3" fill="#e3563f"/>
<rect x="568.8" y="337.5" width="34.3" height="2.3" fill="#e89586"/>
<rect x="568.8" y="339.5" width="34.3" height="2.3" fill="#e1513b"/>
<rect x="568.8" y="341.5" width="34.3" height="2.3" fill="#e04d37"/>
<rect x="568.8" y="343.5" width="34.3" height="2.3" fill="#dc422e"/>
<rect x="602.8" y="131.5" width="34.3" height="2.3" fill="#5e89cb"/>
<rect x="602.8" y="133.5" width="34.3" height="2.3" fill="#3a74c1"/>
<rect x="602.8" y="135.5" width="34.3" height="2.3" fill="#628bcb"/>
<rect x="602.8" y="137.5" width="34.3" height="2.3" fill="#4f81c8"/>
<rect x="602.8" y="139.5" width="34.3" height="2.3" fill="#3d77c3"/>
<rect x="602.8" y="141.5" width="34.3" height="2.3" fill="#3a75c1"/>
<rect x="602.8" y="143.5" width="34.3" height="2.3" fill="#3570bd"/>
<rect x="602.8" y="145.5" width="34.3" height="2.3" fill="#5886c9"/>
<rect x="602.8" y="147.5" width="34.3" height="2.3" fill="#2b68b6"/>
<rect x="602.8" y="149.5" width="34.3" height="2.3" fill="#2e6ab8"/>
<rect x="602.8" y="151.5" width="34.3" height="2.3" fill="#3974c1"/>
<rect x="602.8" y="153.5" width="34.3" height="2.3" fill="#889ed0"/>
<rect x="602.8" y="155.5" width="34.3" height="2.3" fill="#e19d96"/>
<rect x="602.8" y="157.5" width="34.3" height="2.3" fill="#5c88ca"/>
<rect x="602.8" y="159.5" width="34.3" height="2.3" fill="#d6a6ab"/>
<rect x="602.8" y="161.5" width="34.3" height="4.3" fill="#e65f47"/>
<rect x="602.8" y="165.5" width="34.3" height="2.3" fill="#3671be"/>
<rect x="602.8" y="167.5" width="34.3" height="2.3" fill="#336ebc"/>
<rect x="602.8" y="169.5" width="34.3" height="2.3" fill="#2b68b6"/>
<rect x="602.8" y="171.5" width="34.3" height="2.3" fill="#b2abc9"/>
<rect x="602.8" y="173.5" width="34.3" height="2.3" fill="#457cc6"/>
<rect x="602.8" y="175.5" width="34.3" height="2.3" fill="#688fcd"/>
<rect x="602.8" y="177.5" width="34.3" height="2.3" fill="#2b68b6"/>
<rect x="602.8" y="179.5" width="34.3" height="2.3" fill="#346fbc"/>
<rect x="602.8" y="181.5" width="34.3" height="2.3" fill="#2b68b6"/>
<rect x="602.8" y="183.5" width="34.3" height="2.3" fill="#5585c9"/>
<rect x="602.8" y="185.5" width="34.3" height="2.3" fill="#e1523c"/>
<rect x="602.8" y="187.5" width="34.3" height="2.3" fill="#6b90cd"/>
<rect x="602.8" y="189.5" width="34.3" height="2.3" fill="#e77f6c"/>
<rect x="602.8" y="191.5" width="34.3" height="2.3" fill="#e45a43"/>
<rect x="602.8" y="193.5" width="34.3" height="2.3" fill="#7696cf"/>
<rect x="602.8" y="195.5" width="34.3" height="2.3" fill="#7093ce"/>
<rect x="602.8" y="197.5" width="34.3" height="2.3" fill="#c2abbf"/>
<rect x="602.8" y="199.5" width="34.3" height="2.3" fill="#de9f9b"/>
<rect x="602.8" y="201.5" width="34.3" height="2.3" fill="#9ca8d1"/>
<rect x="602.8" y="203.5" width="34.3" height="2.3" fill="#e77965"/>
<rect x="602.8" y="205.5" width="34.3" height="2.3" fill="#e66a54"/>
<rect x="602.8" y="207.5" width="34.3" height="2.3" fill="#e45a43"/>
<rect x="602.8" y="209.5" width="34.3" height="2.3" fill="#3873bf"/>
<rect x="602.8" y="211.5" width="34.3" height="2.3" fill="#5987ca"/>
<rect x="602.8" y="213.5" width="34.3" height="2.3" fill="#457cc5"/>
<rect x="602.8" y="215.5" width="34.3" height="8.3" fill="#2b68b6"/>
<rect x="602.8" y="223.5" width="34.3" height="2.3" fill="#3d77c3"/>
<rect x="602.8" y="225.5" width="34.3" height="2.3" fill="#3e78c4"/>
<rect x="602.8" y="227.5" width="34.3" height="2.3" fill="#5c88ca"/>
<rect x="602.8" y="229.5" width="34.3" height="4.3" fill="#2b68b6"/>
<rect x="602.8" y="233.5" width="34.3" height="2.3" fill="#3e78c4"/>
<rect x="602.8" y="235.5" width="34.3" height="2.3" fill="#3a75c1"/>
<rect x="602.8" y="237.5" width="34.3" height="2.3" fill="#3873c0"/>
<rect x="602.8" y="239.5" width="34.3" height="2.3" fill="#3d77c3"/>
<rect x="602.8" y="241.5" width="34.3" height="2.3" fill="#306cba"/>
<rect x="602.8" y="243.5" width="34.3" height="2.3" fill="#698fcd"/>
<rect x="602.8" y="245.5" width="34.3" height="2.3" fill="#5484c8"/>
<rect x="602.8" y="247.5" width="34.3" height="2.3" fill="#3c77c3"/>
<rect x="602.8" y="249.5" width="34.3" height="2.3" fill="#326ebb"/>
<rect x="602.8" y="251.5" width="34.3" height="2.3" fill="#3b75c2"/>
<rect x="602.8" y="253.5" width="34.3" height="2.3" fill="#2b68b6"/>
<rect x="602.8" y="255.5" width="34.3" height="2.3" fill="#2c69b7"/>
<rect x="602.8" y="257.5" width="34.3" height="2.3" fill="#4079c4"/>
<rect x="602.8" y="259.5" width="34.3" height="2.3" fill="#638ccc"/>
<rect x="602.8" y="261.5" width="34.3" height="2.3" fill="#e89182"/>
<rect x="602.8" y="263.5" width="34.3" height="2.3" fill="#e89586"/>
<rect x="602.8" y="265.5" width="34.3" height="2.3" fill="#6a90cd"/>
<rect x="602.8" y="267.5" width="34.3" height="2.3" fill="#d8a5a8"/>
<rect x="602.8" y="269.5" width="34.3" height="2.3" fill="#d5a7ad"/>
<rect x="602.8" y="271.5" width="34.3" height="2.3" fill="#e7806d"/>
<rect x="602.8" y="273.5" width="34.3" height="2.3" fill="#e77561"/>
<rect x="602.8" y="275.5" width="34.3" height="2.3" fill="#e19c95"/>
<rect x="602.8" y="277.5" width="34.3" height="2.3" fill="#9fa9d2"/>
<rect x="602.8" y="279.5" width="34.3" height="2.3" fill="#dca09f"/>
<rect x="602.8" y="281.5" width="34.3" height="2.3" fill="#e09d98"/>
<rect x="602.8" y="283.5" width="34.3" height="2.3" fill="#e66d57"/>
<rect x="602.8" y="285.5" width="34.3" height="2.3" fill="#e88b7a"/>
<rect x="602.8" y="287.5" width="34.3" height="2.3" fill="#adaccd"/>
<rect x="602.8" y="289.5" width="34.3" height="2.3" fill="#6c91ce"/>
<rect x="602.8" y="291.5" width="34.3" height="2.3" fill="#d3a9b2"/>
<rect x="602.8" y="293.5" width="34.3" height="2.3" fill="#abacce"/>
<rect x="602.8" y="295.5" width="34.3" height="2.3" fill="#839cd0"/>
<rect x="602.8" y="297.5" width="34.3" height="2.3" fill="#de9f9c"/>
<rect x="602.8" y="299.5" width="34.3" height="2.3" fill="#c7aabb"/>
<rect x="602.8" y="301.5" width="34.3" height="2.3" fill="#e79789"/>
<rect x="602.8" y="303.5" width="34.3" height="2.3" fill="#e77b68"/>
<rect x="602.8" y="305.5" width="34.3" height="2.3" fill="#d0aab5"/>
<rect x="602.8" y="307.5" width="34.3" height="2.3" fill="#dc422e"/>
<rect x="602.8" y="309.5" width="34.3" height="2.3" fill="#d5a7ae"/>
<rect x="602.8" y="311.5" width="34.3" height="2.3" fill="#dc422e"/>
<rect x="602.8" y="313.5" width="34.3" height="2.3" fill="#df4c37"/>
<rect x="602.8" y="315.5" width="34.3" height="2.3" fill="#dc422e"/>
<rect x="602.8" y="317.5" width="34.3" height="2.3" fill="#a4acd2"/>
<rect x="602.8" y="319.5" width="34.3" height="2.3" fill="#e6664f"/>
<rect x="602.8" y="321.5" width="34.3" height="2.3" fill="#de4934"/>
<rect x="602.8" y="323.5" width="34.3" height="4.3" fill="#dc422e"/>
<rect x="602.8" y="327.5" width="34.3" height="2.3" fill="#de4732"/>
<rect x="602.8" y="329.5" width="34.3" height="8.3" fill="#dc422e"/>
<rect x="602.8" y="337.5" width="34.3" height="2.3" fill="#e2533d"/>
<rect x="602.8" y="339.5" width="34.3" height="2.3" fill="#dc422e"/>
<rect x="602.8" y="341.5" width="34.3" height="2.3" fill="#e77d6a"/>
<rect x="602.8" y="343.5" width="34.3" height="2.3" fill="#dc422e"/>
<rect x="636.8" y="131.5" width="34.3" height="2.3" fill="#2b68b6"/>
<rect x="636.8" y="133.5" width="34.3" height="2.3" fill="#3e78c4"/>
<rect x="636.8" y="135.5" width="34.3" height="2.3" fill="#d8a4a7"/>
<rect x="636.8" y="137.5" width="34.3" height="2.3" fill="#3571be"/>
<rect x="636.8" y="139.5" width="34.3" height="2.3" fill="#3a74c1"/>
<rect x="636.8" y="141.5" width="34.3" height="2.3" fill="#7a97cf"/>
<rect x="636.8" y="143.5" width="34.3" height="2.3" fill="#3a74c1"/>
<rect x="636.8" y="145.5" width="34.3" height="2.3" fill="#2b68b6"/>
<rect x="636.8" y="147.5" width="34.3" height="2.3" fill="#3e78c4"/>
<rect x="636.8" y="149.5" width="34.3" height="2.3" fill="#5183c8"/>
<rect x="636.8" y="151.5" width="34.3" height="2.3" fill="#5987ca"/>
<rect x="636.8" y="153.5" width="34.3" height="2.3" fill="#2b68b6"/>
<rect x="636.8" y="155.5" width="34.3" height="2.3" fill="#b9abc5"/>
<rect x="636.8" y="157.5" width="34.3" height="2.3" fill="#afaccb"/>
<rect x="636.8" y="159.5" width="34.3" height="2.3" fill="#3a74c1"/>
<rect x="636.8" y="161.5" width="34.3" height="2.3" fill="#3e78c4"/>
<rect x="636.8" y="163.5" width="34.3" height="2.3" fill="#326dbb"/>
<rect x="636.8" y="165.5" width="34.3" height="2.3" fill="#94a4d1"/>
<rect x="636.8" y="167.5" width="34.3" height="2.3" fill="#2d69b7"/>
<rect x="636.8" y="169.5" width="34.3" height="2.3" fill="#5786c9"/>
<rect x="636.8" y="171.5" width="34.3" height="2.3" fill="#316dba"/>
<rect x="636.8" y="173.5" width="34.3" height="2.3" fill="#2d69b7"/>
<rect x="636.8" y="175.5" width="34.3" height="2.3" fill="#5a87ca"/>
<rect x="636.8" y="177.5" width="34.3" height="2.3" fill="#8ba0d0"/>
<rect x="636.8" y="179.5" width="34.3" height="2.3" fill="#3974c0"/>
<rect x="636.8" y="181.5" width="34.3" height="2.3" fill="#2d6ab7"/>
<rect x="636.8" y="183.5" width="34.3" height="2.3" fill="#5f8acb"/>
<rect x="636.8" y="185.5" width="34.3" height="2.3" fill="#e77561"/>
<rect x="636.8" y="187.5" width="34.3" height="2.3" fill="#e65f47"/>
<rect x="636.8" y="189.5" width="34.3" height="2.3" fill="#dc422e"/>
<rect x="636.8" y="191.5" width="34.3" height="2.3" fill="#df4a35"/>
<rect x="636.8" y="193.5" width="34.3" height="2.3" fill="#e89686"/>
<rect x="636.8" y="195.5" width="34.3" height="2.3" fill="#dc422e"/>
<rect x="636.8" y="197.5" width="34.3" height="2.3" fill="#e7725d"/>
<rect x="636.8" y="199.5" width="34.3" height="2.3" fill="#e2533d"/>
<rect x="636.8" y="201.5" width="34.3" height="2.3" fill="#e39b91"/>
<rect x="636.8" y="203.5" width="34.3" height="2.3" fill="#e77561"/>
<rect x="636.8" y="205.5" width="34.3" height="2.3" fill="#859dd0"/>
<rect x="636.8" y="207.5" width="34.3" height="2.3" fill="#dc422e"/>
<rect x="636.8" y="209.5" width="34.3" height="2.3" fill="#c9aaba"/>
<rect x="636.8" y="211.5" width="34.3" height="2.3" fill="#2d6ab7"/>
<rect x="636.8" y="213.5" width="34.3" height="4.3" fill="#2b68b6"/>
<rect x="636.8" y="217.5" width="34.3" height="2.3" fill="#b3abc9"/>
<rect x="636.8" y="219.5" width="34.3" height="2.3" fill="#3a75c1"/>
<rect x="636.8" y="221.5" width="34.3" height="2.3" fill="#4a7fc7"/>
<rect x="636.8" y="223.5" width="34.3" height="2.3" fill="#3d77c3"/>
<rect x="636.8" y="225.5" width="34.3" height="2.3" fill="#477dc6"/>
<rect x="636.8" y="227.5" width="34.3" height="2.3" fill="#2f6bb9"/>
<rect x="636.8" y="229.5" width="34.3" height="2.3" fill="#4f81c8"/>
<rect x="636.8" y="231.5" width="34.3" height="2.3" fill="#2b68b6"/>
<rect x="636.8" y="233.5" width="34.3" height="2.3" fill="#4a7ec6"/>
<rect x="636.8" y="235.5" width="34.3" height="2.3" fill="#618bcb"/>
<rect x="636.8" y="237.5" width="34.3" height="2.3" fill="#6a90cd"/>
<rect x="636.8" y="239.5" width="34.3" height="2.3" fill="#4079c4"/>
<rect x="636.8" y="241.5" width="34.3" height="2.3" fill="#326ebb"/>
<rect x="636.8" y="243.5" width="34.3" height="2.3" fill="#5886c9"/>
<rect x="636.8" y="245.5" width="34.3" height="2.3" fill="#3a75c1"/>
<rect x="636.8" y="247.5" width="34.3" height="2.3" fill="#d7a5aa"/>
<rect x="636.8" y="249.5" width="34.3" height="2.3" fill="#879ed0"/>
<rect x="636.8" y="251.5" width="34.3" height="2.3" fill="#477dc6"/>
<rect x="636.8" y="253.5" width="34.3" height="2.3" fill="#3a75c1"/>
<rect x="636.8" y="255.5" width="34.3" height="2.3" fill="#3671be"/>
<rect x="636.8" y="257.5" width="34.3" height="2.3" fill="#326ebb"/>
<rect x="636.8" y="259.5" width="34.3" height="2.3" fill="#b9abc5"/>
<rect x="636.8" y="261.5" width="34.3" height="2.3" fill="#e49a90"/>
<rect x="636.8" y="263.5" width="34.3" height="2.3" fill="#e88e7d"/>
<rect x="636.8" y="265.5" width="34.3" height="2.3" fill="#e88a79"/>
<rect x="636.8" y="267.5" width="34.3" height="2.3" fill="#de4934"/>
<rect x="636.8" y="269.5" width="34.3" height="2.3" fill="#92a3d1"/>
<rect x="636.8" y="271.5" width="34.3" height="2.3" fill="#d8a5a8"/>
<rect x="636.8" y="273.5" width="34.3" height="2.3" fill="#dc422e"/>
<rect x="636.8" y="275.5" width="34.3" height="2.3" fill="#3e78c4"/>
<rect x="636.8" y="277.5" width="34.3" height="2.3" fill="#a6acd2"/>
<rect x="636.8" y="279.5" width="34.3" height="2.3" fill="#df9f9a"/>
<rect x="636.8" y="281.5" width="34.3" height="2.3" fill="#de9f9c"/>
<rect x="636.8" y="283.5" width="34.3" height="2.3" fill="#e89586"/>
<rect x="636.8" y="285.5" width="34.3" height="2.3" fill="#c6abbc"/>
<rect x="636.8" y="287.5" width="34.3" height="2.3" fill="#e79789"/>
<rect x="636.8" y="289.5" width="34.3" height="2.3" fill="#daa3a4"/>
<rect x="636.8" y="291.5" width="34.3" height="2.3" fill="#e77c69"/>
<rect x="636.8" y="293.5" width="34.3" height="2.3" fill="#3d77c3"/>
<rect x="636.8" y="295.5" width="34.3" height="2.3" fill="#809acf"/>
<rect x="636.8" y="297.5" width="34.3" height="2.3" fill="#326ebb"/>
<rect x="636.8" y="299.5" width="34.3" height="4.3" fill="#2b68b6"/>
<rect x="636.8" y="303.5" width="34.3" height="2.3" fill="#3d78c4"/>
<rect x="636.8" y="305.5" width="34.3" height="2.3" fill="#2b68b6"/>
<rect x="636.8" y="307.5" width="34.3" height="2.3" fill="#3e78c4"/>
<rect x="636.8" y="309.5" width="34.3" height="2.3" fill="#dc422e"/>
<rect x="636.8" y="311.5" width="34.3" height="2.3" fill="#de4833"/>
<rect x="636.8" y="313.5" width="34.3" height="2.3" fill="#dc422e"/>
<rect x="636.8" y="315.5" width="34.3" height="2.3" fill="#e1523c"/>
<rect x="636.8" y="317.5" width="34.3" height="2.3" fill="#e89384"/>
<rect x="636.8" y="319.5" width="34.3" height="2.3" fill="#e1503a"/>
<rect x="636.8" y="321.5" width="34.3" height="2.3" fill="#dd4430"/>
<rect x="636.8" y="323.5" width="34.3" height="2.3" fill="#e55d45"/>
<rect x="636.8" y="325.5" width="34.3" height="2.3" fill="#e1523c"/>
<rect x="636.8" y="327.5" width="34.3" height="2.3" fill="#dc422e"/>
<rect x="636.8" y="329.5" width="34.3" height="2.3" fill="#e76f5a"/>
<rect x="636.8" y="331.5" width="34.3" height="4.3" fill="#dc422e"/>
<rect x="636.8" y="335.5" width="34.3" height="2.3" fill="#e55d46"/>
<rect x="636.8" y="337.5" width="34.3" height="2.3" fill="#df4c36"/>
<rect x="636.8" y="339.5" width="34.3" height="2.3" fill="#e2533d"/>
<rect x="636.8" y="341.5" width="34.3" height="2.3" fill="#dc422e"/>
<rect x="636.8" y="343.5" width="34.3" height="2.3" fill="#de4733"/>
<rect x="670.8" y="131.5" width="34.3" height="2.3" fill="#e29c94"/>
<rect x="670.8" y="133.5" width="34.3" height="2.3" fill="#5c88ca"/>
<rect x="670.8" y="135.5" width="34.3" height="4.3" fill="#96a5d1"/>
<rect x="670.8" y="139.5" width="34.3" height="2.3" fill="#336fbc"/>
<rect x="670.8" y="141.5" width="34.3" height="2.3" fill="#e77b68"/>
<rect x="670.8" y="143.5" width="34.3" height="2.3" fill="#e29c94"/>
<rect x="670.8" y="145.5" width="34.3" height="2.3" fill="#346fbc"/>
<rect x="670.8" y="147.5" width="34.3" height="2.3" fill="#dba2a1"/>
<rect x="670.8" y="149.5" width="34.3" height="2.3" fill="#8a9fd0"/>
<rect x="670.8" y="151.5" width="34.3" height="2.3" fill="#c9aaba"/>
<rect x="670.8" y="153.5" width="34.3" height="2.3" fill="#c0abc0"/>
<rect x="670.8" y="155.5" width="34.3" height="2.3" fill="#3873c0"/>
<rect x="670.8" y="157.5" width="34.3" height="2.3" fill="#819bcf"/>
<rect x="670.8" y="159.5" width="34.3" height="2.3" fill="#e77864"/>
<rect x="670.8" y="161.5" width="34.3" height="2.3" fill="#638ccc"/>
<rect x="670.8" y="163.5" width="34.3" height="2.3" fill="#487dc6"/>
<rect x="670.8" y="165.5" width="34.3" height="2.3" fill="#3b75c2"/>
<rect x="670.8" y="167.5" width="34.3" height="2.3" fill="#3d77c4"/>
<rect x="670.8" y="169.5" width="34.3" height="2.3" fill="#bcabc3"/>
<rect x="670.8" y="171.5" width="34.3" height="2.3" fill="#e66a54"/>
<rect x="670.8" y="173.5" width="34.3" height="2.3" fill="#c7aabb"/>
<rect x="670.8" y="175.5" width="34.3" height="2.3" fill="#b2abc9"/>
<rect x="670.8" y="177.5" width="34.3" height="2.3" fill="#e3563f"/>
<rect x="670.8" y="179.5" width="34.3" height="2.3" fill="#668ecc"/>
<rect x="670.8" y="181.5" width="34.3" height="2.3" fill="#5d89ca"/>
<rect x="670.8" y="183.5" width="34.3" height="2.3" fill="#d2aab4"/>
<rect x="670.8" y="185.5" width="34.3" height="2.3" fill="#d3a9b2"/>
<rect x="670.8" y="187.5" width="34.3" height="2.3" fill="#487ec6"/>
<rect x="670.8" y="189.5" width="34.3" height="2.3" fill="#3f78c4"/>
<rect x="670.8" y="191.5" width="34.3" height="2.3" fill="#3c76c3"/>
<rect x="670.8" y="193.5" width="34.3" height="2.3" fill="#3b76c2"/>
<rect x="670.8" y="195.5" width="34.3" height="2.3" fill="#2b68b6"/>
<rect x="670.8" y="197.5" width="34.3" height="2.3" fill="#336fbc"/>
<rect x="670.8" y="199.5" width="34.3" height="2.3" fill="#e78573"/>
<rect x="670.8" y="201.5" width="34.3" height="2.3" fill="#e2543e"/>
<rect x="670.8" y="203.5" width="34.3" height="2.3" fill="#e66851"/>
<rect x="670.8" y="205.5" width="34.3" height="2.3" fill="#e6664f"/>
<rect x="670.8" y="207.5" width="34.3" height="2.3" fill="#e77864"/>
<rect x="670.8" y="209.5" width="34.3" height="2.3" fill="#dd4531"/>
<rect x="670.8" y="211.5" width="34.3" height="2.3" fill="#dc422e"/>
<rect x="670.8" y="213.5" width="34.3" height="2.3" fill="#e77965"/>
<rect x="670.8" y="215.5" width="34.3" height="2.3" fill="#df4b35"/>
<rect x="670.8" y="217.5" width="34.3" height="2.3" fill="#e89484"/>
<rect x="670.8" y="219.5" width="34.3" height="2.3" fill="#e55e46"/>
<rect x="670.8" y="221.5" width="34.3" height="2.3" fill="#e04d38"/>
<rect x="670.8" y="223.5" width="34.3" height="2.3" fill="#dc422e"/>
<rect x="670.8" y="225.5" width="34.3" height="2.3" fill="#e77a67"/>
<rect x="670.8" y="227.5" width="34.3" height="2.3" fill="#e6654e"/>
<rect x="670.8" y="229.5" width="34.3" height="2.3" fill="#e45b44"/>
<rect x="670.8" y="231.5" width="34.3" height="2.3" fill="#bdabc2"/>
<rect x="670.8" y="233.5" width="34.3" height="2.3" fill="#e66048"/>
<rect x="670.8" y="235.5" width="34.3" height="2.3" fill="#e88e7e"/>
<rect x="670.8" y="237.5" width="34.3" height="2.3" fill="#e35740"/>
<rect x="670.8" y="239.5" width="34.3" height="2.3" fill="#daa3a4"/>
<rect x="670.8" y="241.5" width="34.3" height="2.3" fill="#899fd0"/>
<rect x="670.8" y="243.5" width="34.3" height="2.3" fill="#e65f47"/>
<rect x="670.8" y="245.5" width="34.3" height="2.3" fill="#e45942"/>
<rect x="670.8" y="247.5" width="34.3" height="2.3" fill="#e78674"/>
<rect x="670.8" y="249.5" width="34.3" height="2.3" fill="#de4934"/>
<rect x="670.8" y="251.5" width="34.3" height="2.3" fill="#e7735e"/>
<rect x="670.8" y="253.5" width="34.3" height="2.3" fill="#e88978"/>
<rect x="670.8" y="255.5" width="34.3" height="2.3" fill="#e2543e"/>
<rect x="670.8" y="257.5" width="34.3" height="2.3" fill="#b5abc7"/>
<rect x="670.8" y="259.5" width="34.3" height="2.3" fill="#e88e7e"/>
<rect x="670.8" y="261.5" width="34.3" height="2.3" fill="#e6614a"/>
<rect x="670.8" y="263.5" width="34.3" height="2.3" fill="#df4a35"/>
<rect x="670.8" y="265.5" width="34.3" height="2.3" fill="#e66b55"/>
<rect x="670.8" y="267.5" width="34.3" height="2.3" fill="#e35841"/>
<rect x="670.8" y="269.5" width="34.3" height="2.3" fill="#e88d7c"/>
<rect x="670.8" y="271.5" width="34.3" height="2.3" fill="#e35841"/>
<rect x="670.8" y="273.5" width="34.3" height="2.3" fill="#dc422e"/>
<rect x="670.8" y="275.5" width="34.3" height="2.3" fill="#e88f7f"/>
<rect x="670.8" y="277.5" width="34.3" height="2.3" fill="#e88d7d"/>
<rect x="670.8" y="279.5" width="34.3" height="2.3" fill="#326ebb"/>
<rect x="670.8" y="281.5" width="34.3" height="2.3" fill="#3f79c4"/>
<rect x="670.8" y="283.5" width="34.3" height="2.3" fill="#497ec6"/>
<rect x="670.8" y="285.5" width="34.3" height="2.3" fill="#dc422e"/>
<rect x="670.8" y="287.5" width="34.3" height="2.3" fill="#e09d97"/>
<rect x="670.8" y="289.5" width="34.3" height="2.3" fill="#98a6d1"/>
<rect x="670.8" y="291.5" width="34.3" height="2.3" fill="#df4a35"/>
<rect x="670.8" y="293.5" width="34.3" height="2.3" fill="#dd4531"/>
<rect x="670.8" y="295.5" width="34.3" height="2.3" fill="#df4a35"/>
<rect x="670.8" y="297.5" width="34.3" height="2.3" fill="#dc422e"/>
<rect x="670.8" y="299.5" width="34.3" height="2.3" fill="#e2543e"/>
<rect x="670.8" y="301.5" width="34.3" height="2.3" fill="#e2533d"/>
<rect x="670.8" y="303.5" width="34.3" height="2.3" fill="#dc422e"/>
<rect x="670.8" y="305.5" width="34.3" height="2.3" fill="#e1503a"/>
<rect x="670.8" y="307.5" width="34.3" height="2.3" fill="#dc422e"/>
<rect x="670.8" y="309.5" width="34.3" height="2.3" fill="#e09d97"/>
<rect x="670.8" y="311.5" width="34.3" height="2.3" fill="#7e99cf"/>
<rect x="670.8" y="313.5" width="34.3" height="2.3" fill="#2b68b6"/>
<rect x="670.8" y="315.5" width="34.3" height="2.3" fill="#e39a90"/>
<rect x="670.8" y="317.5" width="34.3" height="2.3" fill="#7e9acf"/>
<rect x="670.8" y="319.5" width="34.3" height="2.3" fill="#e89687"/>
<rect x="670.8" y="321.5" width="34.3" height="2.3" fill="#e2553e"/>
<rect x="670.8" y="323.5" width="34.3" height="2.3" fill="#a4acd2"/>
<rect x="670.8" y="325.5" width="34.3" height="2.3" fill="#8a9fd0"/>
<rect x="670.8" y="327.5" width="34.3" height="2.3" fill="#7193ce"/>
<rect x="670.8" y="329.5" width="34.3" height="2.3" fill="#5b88ca"/>
<rect x="670.8" y="331.5" width="34.3" height="2.3" fill="#688fcd"/>
<rect x="670.8" y="333.5" width="34.3" height="2.3" fill="#dca19f"/>
<rect x="670.8" y="335.5" width="34.3" height="2.3" fill="#a9accf"/>
<rect x="670.8" y="337.5" width="34.3" height="2.3" fill="#adaccd"/>
<rect x="670.8" y="339.5" width="34.3" height="2.3" fill="#93a3d1"/>
<rect x="670.8" y="341.5" width="34.3" height="2.3" fill="#e89688"/>
<rect x="670.8" y="343.5" width="34.3" height="2.3" fill="#d6a6ac"/>
<rect x="704.8" y="131.5" width="34.3" height="2.3" fill="#889ed0"/>
<rect x="704.8" y="133.5" width="34.3" height="2.3" fill="#d8a5a8"/>
<rect x="704.8" y="135.5" width="34.3" height="2.3" fill="#879ed0"/>
<rect x="704.8" y="137.5" width="34.3" height="2.3" fill="#4079c4"/>
<rect x="704.8" y="139.5" width="34.3" height="2.3" fill="#e77a67"/>
<rect x="704.8" y="141.5" width="34.3" height="2.3" fill="#cbaab9"/>
<rect x="704.8" y="143.5" width="34.3" height="2.3" fill="#4c7fc7"/>
<rect x="704.8" y="145.5" width="34.3" height="2.3" fill="#e89485"/>
<rect x="704.8" y="147.5" width="34.3" height="2.3" fill="#bdabc2"/>
<rect x="704.8" y="149.5" width="34.3" height="2.3" fill="#3772bf"/>
<rect x="704.8" y="151.5" width="34.3" height="2.3" fill="#e7705b"/>
<rect x="704.8" y="153.5" width="34.3" height="2.3" fill="#bcabc3"/>
<rect x="704.8" y="155.5" width="34.3" height="2.3" fill="#e19c95"/>
<rect x="704.8" y="157.5" width="34.3" height="2.3" fill="#adaccd"/>
<rect x="704.8" y="159.5" width="34.3" height="2.3" fill="#889ed0"/>
<rect x="704.8" y="161.5" width="34.3" height="2.3" fill="#3772bf"/>
<rect x="704.8" y="163.5" width="34.3" height="2.3" fill="#e5998e"/>
<rect x="704.8" y="165.5" width="34.3" height="2.3" fill="#9aa7d1"/>
<rect x="704.8" y="167.5" width="34.3" height="2.3" fill="#7997cf"/>
<rect x="704.8" y="169.5" width="34.3" height="2.3" fill="#beabc1"/>
<rect x="704.8" y="171.5" width="34.3" height="2.3" fill="#9fa9d2"/>
<rect x="704.8" y="173.5" width="34.3" height="2.3" fill="#d8a4a7"/>
<rect x="704.8" y="175.5" width="34.3" height="2.3" fill="#7093ce"/>
<rect x="704.8" y="177.5" width="34.3" height="2.3" fill="#93a4d1"/>
<rect x="704.8" y="179.5" width="34.3" height="2.3" fill="#2d69b7"/>
<rect x="704.8" y="181.5" width="34.3" height="2.3" fill="#6c91ce"/>
<rect x="704.8" y="183.5" width="34.3" height="2.3" fill="#d8a4a7"/>
<rect x="704.8" y="185.5" width="34.3" height="2.3" fill="#8ca0d0"/>
<rect x="704.8" y="187.5" width="34.3" height="2.3" fill="#336ebc"/>
<rect x="704.8" y="189.5" width="34.3" height="2.3" fill="#3772bf"/>
<rect x="704.8" y="191.5" width="34.3" height="2.3" fill="#a6acd2"/>
<rect x="704.8" y="193.5" width="34.3" height="2.3" fill="#336fbc"/>
<rect x="704.8" y="195.5" width="34.3" height="2.3" fill="#5b88ca"/>
<rect x="704.8" y="197.5" width="34.3" height="2.3" fill="#b0abca"/>
<rect x="704.8" y="199.5" width="34.3" height="2.3" fill="#e65f47"/>
<rect x="704.8" y="201.5" width="34.3" height="2.3" fill="#dc422e"/>
<rect x="704.8" y="203.5" width="34.3" height="2.3" fill="#e89181"/>
<rect x="704.8" y="205.5" width="34.3" height="2.3" fill="#e45b43"/>
<rect x="704.8" y="207.5" width="34.3" height="2.3" fill="#e6654e"/>
<rect x="704.8" y="209.5" width="34.3" height="2.3" fill="#e55d45"/>
<rect x="704.8" y="211.5" width="34.3" height="2.3" fill="#dc432f"/>
<rect x="704.8" y="213.5" width="34.3" height="2.3" fill="#dc422e"/>
<rect x="704.8" y="215.5" width="34.3" height="2.3" fill="#e88e7d"/>
<rect x="704.8" y="217.5" width="34.3" height="2.3" fill="#e78776"/>
<rect x="704.8" y="219.5" width="34.3" height="2.3" fill="#e2533d"/>
<rect x="704.8" y="221.5" width="34.3" height="2.3" fill="#dda09e"/>
<rect x="704.8" y="223.5" width="34.3" height="2.3" fill="#e2533d"/>
<rect x="704.8" y="225.5" width="34.3" height="2.3" fill="#e1523b"/>
<rect x="704.8" y="227.5" width="34.3" height="2.3" fill="#e7735e"/>
<rect x="704.8" y="229.5" width="34.3" height="2.3" fill="#e2533c"/>
<rect x="704.8" y="231.5" width="34.3" height="2.3" fill="#b7abc6"/>
<rect x="704.8" y="233.5" width="34.3" height="2.3" fill="#e04d37"/>
<rect x="704.8" y="235.5" width="34.3" height="2.3" fill="#b8abc5"/>
<rect x="704.8" y="237.5" width="34.3" height="2.3" fill="#e89080"/>
<rect x="704.8" y="239.5" width="34.3" height="2.3" fill="#e78674"/>
<rect x="704.8" y="241.5" width="34.3" height="2.3" fill="#e77b68"/>
<rect x="704.8" y="243.5" width="34.3" height="2.3" fill="#df4a35"/>
<rect x="704.8" y="245.5" width="34.3" height="2.3" fill="#e55e46"/>
<rect x="704.8" y="247.5" width="34.3" height="2.3" fill="#e77b68"/>
<rect x="704.8" y="249.5" width="34.3" height="2.3" fill="#e1523c"/>
<rect x="704.8" y="251.5" width="34.3" height="2.3" fill="#dc422e"/>
<rect x="704.8" y="253.5" width="34.3" height="2.3" fill="#e66048"/>
<rect x="704.8" y="255.5" width="34.3" height="2.3" fill="#e35740"/>
<rect x="704.8" y="257.5" width="34.3" height="2.3" fill="#dc422e"/>
<rect x="704.8" y="259.5" width="34.3" height="2.3" fill="#e45942"/>
<rect x="704.8" y="261.5" width="34.3" height="2.3" fill="#d3a9b1"/>
<rect x="704.8" y="263.5" width="34.3" height="4.3" fill="#dc422e"/>
<rect x="704.8" y="267.5" width="34.3" height="2.3" fill="#889ed0"/>
<rect x="704.8" y="269.5" width="34.3" height="2.3" fill="#e6634b"/>
<rect x="704.8" y="271.5" width="34.3" height="2.3" fill="#e2553f"/>
<rect x="704.8" y="273.5" width="34.3" height="2.3" fill="#de4833"/>
<rect x="704.8" y="275.5" width="34.3" height="2.3" fill="#e04f39"/>
<rect x="704.8" y="277.5" width="34.3" height="2.3" fill="#e7735e"/>
<rect x="704.8" y="279.5" width="34.3" height="2.3" fill="#dda09e"/>
<rect x="704.8" y="281.5" width="34.3" height="2.3" fill="#e55d46"/>
<rect x="704.8" y="283.5" width="34.3" height="2.3" fill="#dd4631"/>
<rect x="704.8" y="285.5" width="34.3" height="2.3" fill="#dba1a1"/>
<rect x="704.8" y="287.5" width="34.3" height="2.3" fill="#de9f9b"/>
<rect x="704.8" y="289.5" width="34.3" height="2.3" fill="#e6624a"/>
<rect x="704.8" y="291.5" width="34.3" height="2.3" fill="#8da1d0"/>
<rect x="704.8" y="293.5" width="34.3" height="2.3" fill="#e7725d"/>
<rect x="704.8" y="295.5" width="34.3" height="2.3" fill="#e77e6b"/>
<rect x="704.8" y="297.5" width="34.3" height="2.3" fill="#e2553e"/>
<rect x="704.8" y="299.5" width="34.3" height="2.3" fill="#e89080"/>
<rect x="704.8" y="301.5" width="34.3" height="2.3" fill="#e49a8f"/>
<rect x="704.8" y="303.5" width="34.3" height="2.3" fill="#e77b67"/>
<rect x="704.8" y="305.5" width="34.3" height="2.3" fill="#e6634c"/>
<rect x="704.8" y="307.5" width="34.3" height="2.3" fill="#e88d7d"/>
<rect x="704.8" y="309.5" width="34.3" height="2.3" fill="#e66048"/>
<rect x="704.8" y="311.5" width="34.3" height="2.3" fill="#e66c56"/>
<rect x="704.8" y="313.5" width="34.3" height="2.3" fill="#e45942"/>
<rect x="704.8" y="315.5" width="34.3" height="2.3" fill="#df4c37"/>
<rect x="704.8" y="317.5" width="34.3" height="2.3" fill="#a6acd2"/>
<rect x="704.8" y="319.5" width="34.3" height="2.3" fill="#3672be"/>
<rect x="704.8" y="321.5" width="34.3" height="2.3" fill="#2b68b6"/>
<rect x="704.8" y="323.5" width="34.3" height="2.3" fill="#daa3a4"/>
<rect x="704.8" y="325.5" width="34.3" height="2.3" fill="#316dba"/>
<rect x="704.8" y="327.5" width="34.3" height="2.3" fill="#3d77c4"/>
<rect x="704.8" y="329.5" width="34.3" height="2.3" fill="#5e89cb"/>
<rect x="704.8" y="331.5" width="34.3" height="2.3" fill="#2b68b6"/>
<rect x="704.8" y="333.5" width="34.3" height="2.3" fill="#5a87ca"/>
<rect x="704.8" y="335.5" width="34.3" height="2.3" fill="#3e78c4"/>
<rect x="704.8" y="337.5" width="34.3" height="2.3" fill="#2b68b6"/>
<rect x="704.8" y="339.5" width="34.3" height="2.3" fill="#5082c8"/>
<rect x="704.8" y="341.5" width="34.3" height="2.3" fill="#98a6d1"/>
<rect x="704.8" y="343.5" width="34.3" height="2.3" fill="#2b68b6"/>
<rect x="738.8" y="131.5" width="34.3" height="2.3" fill="#b6abc7"/>
<rect x="738.8" y="133.5" width="34.3" height="2.3" fill="#7696cf"/>
<rect x="738.8" y="135.5" width="34.3" height="2.3" fill="#92a3d1"/>
<rect x="738.8" y="137.5" width="34.3" height="2.3" fill="#8ea1d0"/>
<rect x="738.8" y="139.5" width="34.3" height="2.3" fill="#dda09f"/>
<rect x="738.8" y="141.5" width="34.3" height="2.3" fill="#5886ca"/>
<rect x="738.8" y="143.5" width="34.3" height="2.3" fill="#beabc2"/>
<rect x="738.8" y="145.5" width="34.3" height="2.3" fill="#4d80c7"/>
<rect x="738.8" y="147.5" width="34.3" height="2.3" fill="#adaccd"/>
<rect x="738.8" y="149.5" width="34.3" height="2.3" fill="#3b76c2"/>
<rect x="738.8" y="151.5" width="34.3" height="2.3" fill="#5f8acb"/>
<rect x="738.8" y="153.5" width="34.3" height="2.3" fill="#e88c7b"/>
<rect x="738.8" y="155.5" width="34.3" height="2.3" fill="#8fa2d0"/>
<rect x="738.8" y="157.5" width="34.3" height="2.3" fill="#5c88ca"/>
<rect x="738.8" y="159.5" width="34.3" height="2.3" fill="#3571be"/>
<rect x="738.8" y="161.5" width="34.3" height="2.3" fill="#dda09e"/>
<rect x="738.8" y="163.5" width="34.3" height="2.3" fill="#e6654e"/>
<rect x="738.8" y="165.5" width="34.3" height="2.3" fill="#e04f39"/>
<rect x="738.8" y="167.5" width="34.3" height="2.3" fill="#e55c44"/>
<rect x="738.8" y="169.5" width="34.3" height="2.3" fill="#e45942"/>
<rect x="738.8" y="171.5" width="34.3" height="2.3" fill="#e77560"/>
<rect x="738.8" y="173.5" width="34.3" height="2.3" fill="#dd4430"/>
<rect x="738.8" y="175.5" width="34.3" height="2.3" fill="#e88d7c"/>
<rect x="738.8" y="177.5" width="34.3" height="2.3" fill="#e79789"/>
<rect x="738.8" y="179.5" width="34.3" height="2.3" fill="#e1503a"/>
<rect x="738.8" y="181.5" width="34.3" height="2.3" fill="#e76e58"/>
<rect x="738.8" y="183.5" width="34.3" height="2.3" fill="#e78573"/>
<rect x="738.8" y="185.5" width="34.3" height="2.3" fill="#3671be"/>
<rect x="738.8" y="187.5" width="34.3" height="2.3" fill="#3c76c2"/>
<rect x="738.8" y="189.5" width="34.3" height="2.3" fill="#6c91ce"/>
<rect x="738.8" y="191.5" width="34.3" height="2.3" fill="#5c88ca"/>
<rect x="738.8" y="193.5" width="34.3" height="2.3" fill="#2b68b6"/>
<rect x="738.8" y="195.5" width="34.3" height="2.3" fill="#608acb"/>
<rect x="738.8" y="197.5" width="34.3" height="2.3" fill="#5182c8"/>
<rect x="738.8" y="199.5" width="34.3" height="2.3" fill="#2e6bb8"/>
<rect x="738.8" y="201.5" width="34.3" height="2.3" fill="#7a98cf"/>
<rect x="738.8" y="203.5" width="34.3" height="2.3" fill="#3b76c2"/>
<rect x="738.8" y="205.5" width="34.3" height="2.3" fill="#3a75c1"/>
<rect x="738.8" y="207.5" width="34.3" height="2.3" fill="#7c99cf"/>
<rect x="738.8" y="209.5" width="34.3" height="2.3" fill="#b5abc8"/>
<rect x="738.8" y="211.5" width="34.3" height="2.3" fill="#e77d6a"/>
<rect x="738.8" y="213.5" width="34.3" height="2.3" fill="#e04e39"/>
<rect x="738.8" y="215.5" width="34.3" height="2.3" fill="#e88a79"/>
<rect x="738.8" y="217.5" width="34.3" height="2.3" fill="#dc422e"/>
<rect x="738.8" y="219.5" width="34.3" height="2.3" fill="#e7705a"/>
<rect x="738.8" y="221.5" width="34.3" height="2.3" fill="#dc422e"/>
<rect x="738.8" y="223.5" width="34.3" height="2.3" fill="#e77a67"/>
<rect x="738.8" y="225.5" width="34.3" height="2.3" fill="#dd4530"/>
<rect x="738.8" y="227.5" width="34.3" height="2.3" fill="#dc422e"/>
<rect x="738.8" y="229.5" width="34.3" height="2.3" fill="#6c91cd"/>
<rect x="738.8" y="231.5" width="34.3" height="2.3" fill="#e66c56"/>
<rect x="738.8" y="233.5" width="34.3" height="2.3" fill="#e04d37"/>
<rect x="738.8" y="235.5" width="34.3" height="2.3" fill="#e55c44"/>
<rect x="738.8" y="237.5" width="34.3" height="2.3" fill="#e77c68"/>
<rect x="738.8" y="239.5" width="34.3" height="2.3" fill="#dc422e"/>
<rect x="738.8" y="241.5" width="34.3" height="2.3" fill="#e35740"/>
<rect x="738.8" y="243.5" width="34.3" height="2.3" fill="#cbaab9"/>
<rect x="738.8" y="245.5" width="34.3" height="2.3" fill="#dd442f"/>
<rect x="738.8" y="247.5" width="34.3" height="2.3" fill="#c2abbf"/>
<rect x="738.8" y="249.5" width="34.3" height="2.3" fill="#dc422e"/>
<rect x="738.8" y="251.5" width="34.3" height="2.3" fill="#e77661"/>
<rect x="738.8" y="253.5" width="34.3" height="2.3" fill="#e3563f"/>
<rect x="738.8" y="255.5" width="34.3" height="2.3" fill="#dc422e"/>
<rect x="738.8" y="257.5" width="34.3" height="2.3" fill="#e35640"/>
<rect x="738.8" y="259.5" width="34.3" height="2.3" fill="#daa3a4"/>
<rect x="738.8" y="261.5" width="34.3" height="2.3" fill="#c5abbd"/>
<rect x="738.8" y="263.5" width="34.3" height="2.3" fill="#dc422e"/>
<rect x="738.8" y="265.5" width="34.3" height="2.3" fill="#de4732"/>
<rect x="738.8" y="267.5" width="34.3" height="2.3" fill="#e78674"/>
<rect x="738.8" y="269.5" width="34.3" height="2.3" fill="#dd442f"/>
<rect x="738.8" y="271.5" width="34.3" height="2.3" fill="#e04d37"/>
<rect x="738.8" y="273.5" width="34.3" height="2.3" fill="#de4934"/>
<rect x="738.8" y="275.5" width="34.3" height="2.3" fill="#879ed0"/>
<rect x="738.8" y="277.5" width="34.3" height="2.3" fill="#e6634b"/>
<rect x="738.8" y="279.5" width="34.3" height="2.3" fill="#dc432e"/>
<rect x="738.8" y="281.5" width="34.3" height="2.3" fill="#de4732"/>
<rect x="738.8" y="283.5" width="34.3" height="2.3" fill="#dc432f"/>
<rect x="738.8" y="285.5" width="34.3" height="2.3" fill="#7294ce"/>
<rect x="738.8" y="287.5" width="34.3" height="2.3" fill="#e2553f"/>
<rect x="738.8" y="289.5" width="34.3" height="2.3" fill="#e04d37"/>
<rect x="738.8" y="291.5" width="34.3" height="2.3" fill="#dc422e"/>
<rect x="738.8" y="293.5" width="34.3" height="2.3" fill="#e88f7f"/>
<rect x="738.8" y="295.5" width="34.3" height="2.3" fill="#e6654d"/>
<rect x="738.8" y="297.5" width="34.3" height="2.3" fill="#e35841"/>
<rect x="738.8" y="299.5" width="34.3" height="2.3" fill="#dc432f"/>
<rect x="738.8" y="301.5" width="34.3" height="2.3" fill="#e66c56"/>
<rect x="738.8" y="303.5" width="34.3" height="2.3" fill="#dc422e"/>
<rect x="738.8" y="305.5" width="34.3" height="2.3" fill="#e78472"/>
<rect x="738.8" y="307.5" width="34.3" height="2.3" fill="#e2533c"/>
<rect x="738.8" y="309.5" width="34.3" height="2.3" fill="#e7725d"/>
<rect x="738.8" y="311.5" width="34.3" height="2.3" fill="#9aa7d1"/>
<rect x="738.8" y="313.5" width="34.3" height="2.3" fill="#5484c9"/>
<rect x="738.8" y="315.5" width="34.3" height="2.3" fill="#3470bd"/>
<rect x="738.8" y="317.5" width="34.3" height="2.3" fill="#e4998f"/>
<rect x="738.8" y="319.5" width="34.3" height="2.3" fill="#aaaccf"/>
<rect x="738.8" y="321.5" width="34.3" height="2.3" fill="#5c88ca"/>
<rect x="738.8" y="323.5" width="34.3" height="2.3" fill="#9ea9d2"/>
<rect x="738.8" y="325.5" width="34.3" height="2.3" fill="#e09d98"/>
<rect x="738.8" y="327.5" width="34.3" height="2.3" fill="#437ac5"/>
<rect x="738.8" y="329.5" width="34.3" height="2.3" fill="#7e9acf"/>
<rect x="738.8" y="331.5" width="34.3" height="2.3" fill="#c4abbd"/>
<rect x="738.8" y="333.5" width="34.3" height="2.3" fill="#c3abbe"/>
<rect x="738.8" y="335.5" width="34.3" height="2.3" fill="#6a90cd"/>
<rect x="738.8" y="337.5" width="34.3" height="2.3" fill="#2b68b6"/>
<rect x="738.8" y="339.5" width="34.3" height="2.3" fill="#e89282"/>
<rect x="738.8" y="341.5" width="34.3" height="2.3" fill="#acaccd"/>
<rect x="738.8" y="343.5" width="34.3" height="2.3" fill="#8ba0d0"/>
</g>
<path d="M517.8 130 V128.2 H551.8 V130" fill="none" stroke="#333" stroke-width="1"/>
<path d="M483.8 130 V126.3 H534.8 V128.2" fill="none" stroke="#333" stroke-width="1"/>
<path d="M619.8 130 V126.3 H653.8 V130" fill="none" stroke="#333" stroke-width="1"/>
<path d="M585.8 130 V123.1 H636.8 V126.3" fill="none" stroke="#333" stroke-width="1"/>
<path d="M721.8 130 V128.2 H755.8 V130" fill="none" stroke="#333" stroke-width="1"/>
<path d="M687.8 130 V125.6 H738.8 V128.2" fill="none" stroke="#333" stroke-width="1"/>
<path d="M611.3 123.1 V119.3 H713.3 V125.6" fill="none" stroke="#333" stroke-width="1"/>
<path d="M509.3 126.3 V68.4 H662.3 V119.3" fill="none" stroke="#333" stroke-width="1"/>
<path d="M441.1 311.5 H413.4 V214.2 H432.4 M432.4 187.2 V242.3 M432.4 187.2 H446.3 M432.4 242.3 H445.4 M446.3 174.1 V200.3 M446.3 174.1 H455.6 M446.3 200.3 H451.7 M445.4 227.5 V256.5 M445.4 227.5 H456.2 M445.4 256.5 H458.5 M441.1 290 V332 M441.1 290 H453.4 M441.1 332 H455.6 M455.6 142 V182.7 M451.7 193.4 V206.5 M456.2 216.7 V234.9 M458.5 251 V262 M453.4 279.2 V300.7 M455.6 323.4 V341.6 M465.6 136.6 H464.9 V138.6 H465.6 M464.9 137.6 H464.8 V140.7 H465.6 M465.6 134.6 H463.6 V139.1 H464.8 M465.6 142.7 H465.1 V144.7 H465.6 M465.6 146.8 H465.3 V148.8 H465.6 M465.3 147.8 H464.9 V150.8 H465.6 M465.1 143.7 H464.7 V149.3 H464.9 M464.7 146.5 H463.8 V152.9 H465.6 M463.6 136.8 H462.8 V149.7 H463.8 M465.6 132.5 H462.2 V143.3 H462.8 M462.2 137.9 H461.6 V154.9 H465.6 M465.6 156.9 H462.5 V159 H465.6 M461.6 146.4 H458.3 V158 H462.5 M455.6 142 H458.3 V152.2 M465.6 167 H464.3 V169 H465.6 M464.3 168 H463.1 V171 H465.6 M465.6 165 H462.6 V169.5 H463.1 M465.6 173 H465.4 V175 H465.6 M465.4 174 H465.1 V177 H465.6 M465.1 175.5 H464.6 V179 H465.6 M465.6 181 H465 V183 H465.6 M465.6 187 H465.2 V189 H465.6 M465.6 185 H464.9 V188 H465.2 M465 182 H464.3 V186.5 H464.9 M464.6 177.2 H463.4 V184.2 H464.3 M462.6 167.2 H462.2 V180.8 H463.4 M465.6 163 H458.3 V174 H462.2 M465.6 161 H457.4 V168.5 H458.3 M455.6 182.7 H457.4 V164.8 M465.6 191 H458.4 V193 H465.6 M458.4 192 H455.8 V195 H465.6 M465.6 197 H458.1 V199 H465.6 M455.8 193.5 H453.3 V198 H458.1 M451.7 193.4 H453.3 V195.8 M465.6 205 H459.9 V207 H465.6 M465.6 203 H456.9 V206 H459.9 M465.6 209 H459.7 V211 H465.6 M456.9 204.5 H454.9 V210 H459.7 M465.6 201 H453.3 V207.2 H454.9 M451.7 206.5 H453.3 V204.1 M465.6 213 H464.3 V215 H465.6 M465.6 217 H464.1 V219 H465.6 M465.6 221 H463.3 V223 H465.6 M464.1 218 H462.9 V222 H463.3 M464.3 214 H462.5 V220 H462.9 M462.5 217 H458.6 V225 H465.6 M456.2 216.7 H458.6 V221 M465.6 227 H461.3 V229 H465.6 M465.6 235 H465 V237 H465.6 M465 236 H464.4 V239 H465.6 M465.6 241 H464.9 V243 H465.6 M464.4 237.5 H464.2 V242 H464.9 M465.6 233 H462.5 V239.8 H464.2 M465.6 231 H460.4 V236.4 H462.5 M461.3 228 H459.3 V233.7 H460.4 M456.2 234.9 H459.3 V230.8 M465.6 249.4 H463.3 V251.6 H465.6 M465.6 247.2 H462.5 V250.5 H463.3 M465.6 253.8 H462.5 V255.9 H465.6 M462.5 248.9 H462.1 V254.8 H462.5 M465.6 245.1 H460.6 V251.9 H462.1 M458.5 251 H460.6 V248.5 M465.6 258.1 H464.8 V260.2 H465.6 M464.8 259.2 H463.8 V262.4 H465.6 M465.6 264.6 H463.2 V266.8 H465.6 M463.8 260.8 H462.6 V265.7 H463.2 M462.6 263.2 H460.1 V268.9 H465.6 M458.5 262 H460.1 V266.1 M465.6 273 H460 V275 H465.6 M465.6 271 H457.6 V274 H460 M465.6 279 H464.9 V281 H465.6 M464.9 280 H463.9 V283 H465.6 M465.6 277 H463.6 V281.5 H463.9 M465.6 285 H462.7 V287 H465.6 M462.7 286 H462.3 V289 H465.6 M463.6 279.2 H461.9 V287.5 H462.3 M457.6 272.5 H456.6 V283.4 H461.9 M453.4 279.2 H456.6 V277.9 M465.6 291 H463.2 V293 H465.6 M465.6 295 H462.2 V297 H465.6 M462.2 296 H461.5 V299 H465.6 M463.2 292 H459.7 V297.5 H461.5 M465.6 301 H464.7 V303 H465.6 M464.7 302 H463.1 V305 H465.6 M465.6 309 H463.4 V311 H465.6 M465.6 307 H462.8 V310 H463.4 M463.1 303.5 H461.7 V308.5 H462.8 M459.7 294.8 H455.9 V306 H461.7 M453.4 300.7 H455.9 V300.4 M465.6 313.1 H461.6 V315.1 H465.6 M461.6 314.1 H461 V317.2 H465.6 M465.6 319.4 H461.4 V321.4 H465.6 M461 315.7 H459.6 V320.4 H461.4 M465.6 323.6 H464.2 V325.6 H465.6 M464.2 324.6 H463.2 V327.8 H465.6 M465.6 329.9 H463.2 V331.9 H465.6 M463.2 326.2 H461.1 V330.9 H463.2 M459.6 318 H458.2 V328.5 H461.1 M455.6 323.4 H458.2 V323.3 M465.6 336.1 H462.8 V338.2 H465.6 M462.8 337.2 H462.4 V340.3 H465.6 M465.6 334 H461.8 V338.7 H462.4 M465.6 342.4 H461.1 V344.5 H465.6 M461.8 336.4 H458.6 V343.4 H461.1 M455.6 341.6 H458.6 V339.9" fill="none" stroke="#111" stroke-width="1"/>
<rect x="464.6" y="131.5" width="1.6" height="214" fill="#111" />
<text x="518.3" y="372" font-size="18" text-anchor="middle" fill="#111" >Control</text>
<text x="618.5" y="372" font-size="18" text-anchor="middle" fill="#111" >shRNA1</text>
<text x="722" y="372" font-size="18" text-anchor="middle" fill="#111" >shRNA2</text>
<text x="796" y="22" font-size="29" font-weight="bold" fill="#000" >c</text>
<text x="1029" y="42.3" font-size="18" text-anchor="middle" fill="#111" >Pericentric &amp; telomeric</text>
<text x="1030" y="63.2" font-size="18" text-anchor="middle" fill="#111" >heterochromatin peaks</text>
<line x1="905.5" y1="347.6" x2="1158.5" y2="92.1" stroke="#e6e6e6" stroke-width="2.2" stroke-dasharray="2 4"/>
<path d="M945.7 304.1h0M966.4 288.1h0M1012.6 241.1h0M937.9 310.8h0M968.5 280.5h0M969 278.7h0M967.9 277.3h0M932.8 318.2h0M960.6 290.7h0M956 290.9h0M931.6 312.1h0M949.4 306.1h0M940.2 317.1h0M927.2 319.3h0M982.3 268.3h0M958.8 285h0M977 277.2h0M947.9 309.4h0M977.7 274h0M950.7 297.8h0M988.6 262h0M973.2 282.2h0M964.7 291.4h0M960 292.4h0M948.4 305.3h0M936.2 307.3h0M999.2 250.4h0M938.5 313.3h0M927.2 318.7h0M990 260.8h0M928.4 314.3h0M933.4 307.9h0M987.6 261.6h0M934.9 313.1h0M941.5 314.6h0M938.1 306.2h0M933.1 317.2h0M987.6 260.8h0M988.3 262h0M929.6 312.9h0M946.8 311.9h0M949.9 293.3h0M937.7 307.7h0M945.4 304.1h0M968 286.3h0M961.1 294.5h0M945.9 308.5h0M935.9 315.9h0M975.8 280.3h0M967 290.1h0M955 292.9h0M942.5 316h0M942.4 308.5h0M936.3 321.6h0M938.6 315.5h0M928.2 313.5h0M928.3 320.4h0M960.8 296.3h0M962.6 284.1h0M954.1 299.7h0M949 306h0M950.5 297.5h0M934 308.8h0M951 300.8h0M955.4 290.8h0M938.8 315.6h0M935.2 316.1h0M956.7 291.4h0M939.1 318.2h0M946.4 308.6h0M925.6 317h0M984.6 269.4h0M955.2 296.2h0M954.8 293.9h0M973.3 280.1h0M958.5 286.1h0M954.1 293.6h0M957.7 295.4h0M935.6 319.7h0M969.2 276.4h0M929 316.4h0M938 320.8h0M960 295.1h0M949.4 303.6h0M971.9 277.7h0M931.6 315.2h0M941.6 311.7h0M969.3 284.1h0M931.8 310.4h0M947 296.2h0M965.1 280.6h0M933 320.2h0M949.3 301.9h0M928.8 319.9h0M952 302.8h0M929.1 314h0M961.2 294.1h0M961.4 288.6h0M927.4 314.5h0M968.7 285.7h0M942.8 312.3h0M945.4 304.2h0M949.9 297.2h0M934.1 322.8h0M983 266.8h0M942.6 310.5h0M927.3 317.9h0M958.6 287.3h0M935.7 320.6h0M986.1 264.4h0M969.8 286.9h0M997.5 256.3h0M938.1 320.1h0M974.3 271.8h0M926.6 318.9h0M962.7 292.7h0M949.7 298.2h0M939.3 314.2h0M980 268.5h0M932.4 311.4h0M934.4 317.4h0M993.7 260.6h0M931.2 319.9h0M1002.3 248.4h0M963.4 291.4h0M936.1 312.3h0M951.8 294.2h0M948.3 295.9h0M931.9 319h0M955.4 302.5h0M938.8 311.4h0M946.4 307.4h0M973.5 280.1h0M998.8 250.5h0M960.6 286.8h0M943.6 302.5h0M948.7 304.2h0M974.7 271.4h0M948 309.6h0M932.7 319.9h0M942.7 313.8h0M993.8 259.6h0M954.6 299.1h0M983.1 264.9h0M977.8 271.1h0M950.6 307.2h0M949.8 295.2h0M938.1 317h0M929.4 315.9h0M942.3 311.9h0M962.8 285.7h0M965.1 288.1h0M969.1 288.4h0M934.2 318.2h0M933.4 318.8h0M970.8 277h0M945.1 300.1h0M948.7 296.6h0M948.4 298.9h0M976.6 277.3h0M930.7 315h0M944.9 313h0M950 301.2h0M935 313.7h0M930.9 319.2h0M946.3 299.1h0M943 302.3h0M938.1 312.5h0M942.3 305.8h0M929.8 319.5h0M1001.3 248.4h0M927.7 319.6h0M935.8 310.9h0M960.9 291.2h0M985.5 265.2h0M988.3 258.6h0M929.4 316.7h0M930.2 321.6h0M955.6 291.7h0M963.1 290.2h0M925.9 316.1h0M956.6 291.7h0M976 276.7h0M996.4 252.7h0M1005.8 247.4h0M934.8 318.4h0M938.3 314.6h0M961.1 294.1h0M933.4 322.1h0M977.3 276.7h0M946 308.6h0M934.3 315.5h0M953.3 301h0M983.3 271.9h0M925.6 315.8h0M948.6 300.5h0M952.3 299h0M932.8 318.5h0M947.9 307.3h0M965.6 286.9h0M940.5 308.7h0M935.9 320.5h0M1010.4 240.4h0M955 295.1h0M937.2 308.7h0M946.8 303.2h0M929.9 313.5h0M927.8 319.1h0M935.1 320.8h0M930 312.2h0M945.8 310h0M969.6 284.5h0M943.3 299.8h0M987.1 263.1h0M934.8 316.1h0M976.8 275.8h0M949.6 300.9h0M927.9 317.7h0M927.9 314.1h0M954.6 301.9h0M958.2 299.1h0M934 321.1h0M963.3 292h0M942.1 313.1h0M983.2 269.6h0M956.9 298.5h0M941.2 311.2h0M948 300.7h0M950.2 299.7h0M927.7 316.8h0M938.3 306.6h0M972 277.2h0M951.1 300.5h0M940.8 306.2h0M929.2 313.6h0M939.2 316.5h0M978.9 276.5h0M944 307.6h0M985.2 262.6h0M991.1 256.2h0M1003.3 251.9h0M995 253.9h0M926 315.7h0M938.1 310.1h0M991.7 262.5h0M959.7 293.6h0M954.7 294.4h0M934.4 310.4h0M982.1 272.9h0M987.9 259.9h0M970.9 280.5h0M941.6 312.3h0M949 307h0M944.8 297.5h0M949.5 305.4h0M1006.4 247h0M953.7 290h0M936.7 315.3h0M934.7 306.7h0M937.2 308.6h0M939.3 304.1h0M1001.7 247.4h0M965.5 285.6h0M929.3 314.2h0M957.3 298.3h0M977.6 276.6h0M954.7 293.8h0M944.2 308.7h0M928.9 315.8h0M938.1 320.1h0M932.1 322.5h0M928.5 320h0M942.4 310.7h0M932.9 319.8h0M956.3 295.5h0M953.7 299.9h0M1011.8 241.1h0M932.1 321.2h0M938.1 308.1h0M950 297.4h0M925.5 317.3h0M944.7 312.5h0M938.5 308.4h0M928.2 316.6h0M939.6 307.9h0M945 299.6h0M1005.4 247.3h0M953.9 297.9h0M990.8 263.4h0M951.8 295.6h0M982.7 268.2h0M979 275.7h0M929.9 316.7h0M938.5 310h0M929.5 320.8h0M985 262.3h0M956.1 293.7h0M973.2 283h0M939.6 313.8h0M980.6 273.1h0M937.7 308h0M932.8 320.5h0M948.1 295h0M971.4 283.8h0M937.6 316h0M963.4 287.5h0M938.6 316.5h0M957.6 299.9h0M947.9 310.8h0M972.6 283.1h0M948.4 304.4h0M971.5 284.8h0M949.9 305.6h0M931.1 312.3h0M1010.1 244.4h0M949.6 305h0M938.6 307.4h0M931.6 315.1h0M972.3 273.4h0M973.1 282.9h0M944.3 306.1h0M962.3 291.4h0M985.2 264.7h0M944.2 312.1h0M962.2 292.6h0M997.4 252.9h0M965.7 288.4h0M931.7 310.2h0M942.7 316h0M956.5 291.7h0M932.9 323.2h0M981.9 270.4h0M939.9 317.5h0M934.6 324.1h0M932.2 322.9h0M934.7 315.6h0M926.3 318.4h0M961.1 282.7h0M931.9 317.2h0M935.1 310.1h0M960.4 283.7h0M932.7 317.7h0M949.3 296.6h0M990.6 263.4h0M944 308.3h0M935 314h0M942.4 314.6h0M984 262.3h0M950.3 304.6h0M933.5 314.4h0M939.4 304.8h0M953.8 292.3h0M953.7 291.7h0M939.2 304h0M930.2 314.8h0M954.5 298.3h0M987.2 261.6h0M945.9 309.9h0M950.2 302.3h0M972.2 281h0M934.7 313.8h0M950 306.2h0M1001.7 247.2h0M939.6 318.6h0M931.6 312.9h0M969.2 278.7h0M940.1 313.8h0M969.6 286.6h0M960.2 292.4h0M931.3 309.8h0M953.9 297h0M986.9 261.4h0M935.9 312.3h0M955 300.7h0M937.8 320.1h0M949.3 309.3h0M971.5 279.8h0M937.7 313.6h0M971.1 278.4h0M926 316h0M968.6 278h0M964.8 281.3h0M963.3 286.1h0M934 308.4h0M952.8 291.8h0M933.6 316.4h0M940.4 301.7h0M943.2 301.2h0M997.4 251.9h0M936.2 321.3h0M958.1 299.6h0M965.9 287.4h0M955.7 295.9h0M934.8 313.3h0M978.5 269.5h0M942.8 307.5h0M963.5 292.1h0M938.9 311h0M993.6 258.4h0M924.7 317.6h0M940.6 313.5h0M931.2 312.7h0M933 309.5h0M944.5 304.4h0M937.2 306.6h0M944 308.2h0M930.5 320.1h0M946.2 305.7h0M935.5 321.2h0M926 315h0M929.1 315h0M945.8 306.1h0M947.8 310.8h0M954.9 291h0M956.2 289h0M952.5 298.8h0M955.8 288.3h0M954.9 295.5h0M963.7 292.5h0M937.6 313.6h0M951.9 291.1h0M952.9 293.1h0M955.9 288.9h0M947.6 309.9h0M939.9 312.2h0M942.8 314.3h0M966.4 282.6h0M940.5 308.9h0M961.8 290h0M938.4 315.7h0M937.8 310.4h0M977.5 279.2h0M955.2 292.3h0M935.8 323.3h0M930.7 315.7h0M965.8 291.6h0M948.5 301.2h0M1006.8 245.6h0M994.8 252.2h0M934.5 311.2h0M954.7 299.4h0M929.3 321.1h0M959.9 296.4h0M941 314.5h0M931.9 318.8h0M967.6 289.4h0M1006.5 246.5h0M934.4 310.1h0M990.2 258.4h0M950.1 297h0M924.1 317.9h0M952 301.2h0M936.5 323h0M931.4 312.9h0M1024.4 228.2h0M936.6 308.7h0M932.4 314.2h0M958.8 292.4h0M947.5 299.1h0M936.2 307.7h0M969.2 278.7h0M932.4 311.1h0M931 316.8h0M947.3 307.8h0M932.3 315.5h0M933.8 320.2h0M933.4 322.4h0M1007.8 241.8h0M971.3 277.8h0M941.7 300.7h0M975.8 273.5h0M1012.1 238.6h0M977.3 270.7h0M930.7 320h0M947.9 310.9h0M951.8 300h0M997.4 254.1h0M950.4 294.6h0M931.4 313.2h0M963.2 282.2h0M955.7 298.3h0M981.4 264.4h0M927.5 319.3h0M949.7 299.2h0M933.9 322.6h0M945.4 299.2h0M935.4 319.2h0M1002 245.7h0M948.3 309.1h0M951.1 298.2h0M977.2 269.4h0M957.1 288.7h0M941.3 301h0M930.4 310.7h0M992.3 261.1h0M926.9 315h0M930.8 314h0M927.1 317.6h0M947 296.3h0M976.1 280.8h0M961.2 293.6h0M942.6 307.9h0M938.4 310.8h0M948.2 302.3h0M984.9 265.8h0M988 262.9h0M941.6 316.4h0M959.4 285h0M934.3 323.4h0M985.9 267h0M1004.7 245h0M960 295.3h0M936.7 312h0M941.7 306.6h0M1011.8 240.5h0M987.6 265.4h0M944.3 309.5h0M975.2 275.9h0M927.6 313.8h0M948.1 297.9h0M933 321.2h0M952.2 296.2h0M943 313.8h0M969.5 276.9h0M932.9 317.5h0M960.1 285.1h0M943.1 312.1h0M957.7 297.9h0M1015.7 234h0M991.8 254.8h0M951.8 298.3h0M958.6 295.5h0M962.4 286.7h0M957.6 295.1h0M938.4 314h0M935.2 317.7h0M961.4 285.7h0M968.5 284h0M939.3 307.6h0M931.5 318.6h0M972.3 277.5h0M937.3 310.2h0M974.8 271.3h0M931.8 319.7h0M972.5 277.6h0M926.7 314.3h0M937.1 308.4h0M950.6 301.3h0M937.7 313.3h0M939.5 309.2h0M942.6 308.7h0M998.7 256.8h0M947.5 308.8h0M960.3 284.7h0M936.3 319.4h0M954.5 298.5h0M949.6 305.3h0M936.5 319h0M979.4 275.3h0M933.2 311.6h0M931.9 320.4h0M927.3 315.1h0M931.1 317.9h0M933.6 312h0M996 251h0M942.9 312.5h0M942.2 312.4h0M955.1 300.4h0M980.3 270.6h0M940.9 310.1h0M949 303.1h0M930.5 313.2h0M932.5 321.8h0M956.8 298.6h0M949.4 302h0M954.5 296.7h0M980.3 273.7h0M949.9 301.4h0M977.4 278.3h0M923.5 317.3h0M962.7 293.3h0M941.2 313.4h0M942.9 313.8h0M951.6 292.1h0M936.4 318.6h0M966.2 289.1h0M947.1 296.9h0M936.7 311.2h0M930.6 311.2h0M925.8 318.4h0M942.6 308.4h0M935.3 318.2h0M945.1 301.7h0M964.3 281.7h0M967 289.8h0M936.5 318.9h0M963 294h0M987.5 260.3h0M930.7 317.9h0M930.7 317.5h0M953.9 295.6h0M944.9 300.3h0M949.4 309.2h0M937.6 310.2h0M964.9 287.5h0M964 283.3h0M933 318.6h0M945.4 308.6h0M929 316.5h0M937.8 307h0M988.9 267.1h0M945.6 306.2h0M936.9 311.3h0M974.1 282.4h0M933.2 308.1h0M993.7 261.5h0M939.7 315.1h0M964.8 289.2h0M970.6 281.7h0M967.9 284.4h0M947.6 299.5h0M930 313.8h0M943.7 303.6h0M945.4 300.4h0M947.9 306.9h0M988 260.9h0M936.9 315.4h0M937.9 313.4h0M935.3 317.1h0M977.3 278.1h0M971.1 275.2h0M942.8 306.4h0M994.4 260h0M1012.3 236.6h0M957.6 289.6h0M939.7 311.8h0M945.5 301.5h0M945.6 306.8h0M935.1 315.9h0M963.6 287.2h0M950.2 297.4h0M958.7 287.6h0M955.1 290.3h0M935.1 321.2h0M959.5 287.5h0M963.5 286.1h0M940.9 309.9h0M940.7 310.7h0M1009.6 239.6h0M929.8 318.9h0M938.9 310.5h0M983.3 272.9h0M930.4 317.4h0M953.9 291.7h0M942.1 312h0M936.3 321.4h0M942.3 302h0M944.1 303.9h0M943.1 314.3h0M935.4 318.7h0M976.6 272.1h0M947.6 305.5h0M942.7 311.3h0M939.1 311.3h0M959.6 288.9h0M928.1 319.6h0M938.7 318.1h0M924.1 317.2h0M928.9 314.8h0M945.3 313.3h0M933.8 318.2h0M1002.6 249.2h0M953.9 303.2h0M952.8 293h0M1014.1 240h0M963.3 283.4h0M935 312.9h0M978.5 277.7h0M948.3 302.1h0M939.6 317.5h0M938.6 319.9h0M936.4 307.1h0M935.4 315.4h0M945 301.7h0M957.3 297.8h0M973.1 272.1h0M943 311.4h0M934.1 323.7h0M964.7 280.9h0M945.3 306.5h0M947.1 307.2h0M963.5 292.2h0M963.7 287.9h0M990.6 257.2h0M972.8 277.8h0M977.9 271.3h0M954.3 289.8h0M931.3 309.9h0M936.7 319.7h0M992.3 258h0M951.5 304.4h0M970.3 279.5h0M974.6 281.3h0M937.5 320.3h0M931.3 310.2h0M936.8 321.8h0M934.3 319.1h0M968.3 283.3h0M950.3 307.8h0M936.7 312.7h0M929 320.7h0M968.3 279.9h0M941.7 309h0M981.9 270h0M978.2 277.5h0M954.2 303.6h0M960.9 294h0M935.7 322.4h0M958.8 288.1h0M957.2 290h0M941.5 313.8h0M931.3 318.6h0M931.8 317h0M934.1 316.4h0M944.1 313h0M959.5 298h0M933.6 314.4h0M958.7 289.7h0M932.7 313.1h0M966.2 278h0M940.9 307h0M960.5 292.8h0M968.8 281.7h0M949 301.2h0M957.5 299.9h0M970.9 281.5h0M935.3 316.4h0M946.4 312.6h0M944.7 314.2h0M948.3 308.8h0M964.8 282h0M955.9 299.2h0M931.6 319.1h0M978 275.5h0M951.9 293.7h0M950.6 296h0M934.9 321.4h0M938.1 312.5h0M938.2 314.9h0M930.9 320.4h0M949.7 295.7h0M934.5 311.4h0M972.4 283.5h0M988.7 264.9h0M936.4 318.8h0M926.5 317.7h0M953.3 294.9h0M991.8 257.4h0M961.2 284h0M939.7 303.8h0M999.4 256.2h0M934 322.4h0M950.8 292.8h0M976.9 273.3h0M929.2 321h0M942.7 307h0M935.1 322.8h0M992.8 259.4h0M960.6 288.4h0M947.4 300.5h0M946.1 300.8h0M951.8 292.4h0M951.5 304.5h0M950 300.5h0M932.9 322.6h0M973.8 279.9h0M926.2 316.4h0M932.2 316.5h0M950.4 298.1h0M946 302.3h0M927.8 313.9h0M968 282.2h0M929 318.6h0M956.9 295.1h0M937.6 320.3h0M934.2 314h0M925.6 315h0M929.8 311.5h0M924.4 316.5h0M936.5 319.3h0M962.7 287.7h0M936 308.5h0M984.9 269.6h0M926.2 319.1h0M1002.6 246.8h0M945.2 304.8h0M931.8 318.6h0M961.6 291.2h0M951.8 301.6h0M951 294.8h0M946.8 302.4h0M936.7 309.5h0M929.4 315.9h0M930.2 319.3h0M929.4 312.7h0M994.6 260.4h0M944.7 313.4h0M938.3 307.4h0M968.4 286.8h0M977 274.5h0M938.3 310h0M930.6 319.6h0M931.7 320.2h0M1013.4 236.7h0M986.5 266.9h0M954.2 298.9h0M971.6 279.8h0M951.6 300.8h0M958.7 292.4h0M965.1 288.9h0M972 278.6h0M945.8 304.7h0M1009.2 242.1h0M934.7 313.5h0M984.1 267.2h0M935.7 316.4h0M929.3 313.9h0M948.5 294.8h0M996 259.7h0M1006.1 246.3h0M939.9 315.4h0M933.9 315.5h0M952.6 292.4h0M929.6 318.2h0M967.7 285.1h0M955.3 296.1h0M959.6 295.5h0M952.1 293.6h0M943.1 306.8h0M961.7 290.2h0M926 317.3h0M965.4 280.8h0M930 316.9h0M977.6 271.5h0M986 267.3h0M935.7 320.9h0M982.6 264.9h0M992.9 257.2h0M928.6 319.1h0M974.5 280.6h0M948.1 296.1h0M963.2 288.6h0M946.7 305.6h0M957.4 286.1h0M949 295h0M937.2 312.8h0M990.6 260.6h0M933.4 316.7h0M940 318.7h0M944.1 298.1h0M972.8 274.4h0M942.1 315.4h0M945 307.9h0M930.5 314.8h0M950.8 294h0M946.3 299.3h0M942.3 305.8h0M932.4 315.4h0M930.2 316.5h0M962.4 295.5h0M956.6 290.9h0M953.1 297.6h0M973.4 271.8h0M937.7 313.3h0M942.8 310.4h0M934.8 308.5h0M960.1 292.7h0M936.3 305.2h0M955.3 295.7h0M971.1 284.3h0M945.6 308.1h0M946.6 301.5h0M933.8 320.7h0M945.8 303.7h0M935.6 315.2h0M958.2 295.7h0M975.9 281h0M943.1 303h0M934.7 321.9h0M939.1 318.5h0M925 316h0M960.9 294h0M961.9 289.6h0M931.3 314.2h0M928.1 318.2h0M931.5 309.8h0M937.6 314.4h0M941.5 306.2h0M949.7 298.6h0M973.9 276.7h0M1007.4 243.6h0M936 306.2h0M964.2 286.3h0M977 271.6h0M924.3 316.6h0M952.8 296.9h0M971.7 284.4h0M955.8 288.1h0M972.1 279.4h0M937.7 319.5h0M929.6 319.1h0M934.9 313.2h0M935.5 313.8h0M935.7 313.3h0M932 322.3h0M957.4 287.4h0M963 292.3h0M944.6 313.4h0M929.3 316.7h0M948.9 304.1h0M948.4 294.8h0M926.9 316.4h0M956.9 287.2h0M941.2 314.4h0M934.6 310.4h0M952.6 293.2h0M982.4 264.6h0M947 309.5h0M941.6 311.2h0M957.8 286.8h0M938.2 311.8h0M945.1 304.9h0M935.9 306h0M996.1 259.5h0M960.8 292.9h0M940.5 303.7h0M935 322.8h0M934.7 315.3h0M971.2 276.7h0M931.8 320.2h0M994.2 261.1h0M930.6 315.3h0M943.6 314h0M936 323.1h0M956.4 288.8h0M950.9 296h0M976.6 269.4h0M932.2 312.8h0M942.3 302.8h0M959.8 296.8h0M994.4 253.1h0M941 307.9h0M957 301.1h0M949.3 295h0M947.1 299.7h0M944.9 304.5h0M975.5 272.2h0M931 322.6h0M935.1 319.7h0M952.2 295h0M961.8 288.7h0M925 316.6h0M954.1 299.5h0M952.6 303.9h0M974 282.2h0M962 286.5h0M947.3 303.3h0M958.2 287.8h0M983 267h0M935.4 311.1h0M934.7 314.4h0M929.3 317h0M933.9 307.7h0M968.9 281.2h0M935.1 319.8h0M937.7 309.8h0M934.9 312.8h0M963.6 287.2h0M937.5 305.1h0M1008 240.8h0M932.9 320h0M1001.1 249.7h0M940.2 303.1h0M995.9 255.2h0M957.3 289.4h0M932 313.7h0M1009.6 239h0M989.9 261.4h0M980.9 265.6h0M936.4 305.8h0M947.8 311.1h0M950.6 301.9h0M946.7 299.1h0M953 300.4h0M987.9 264.1h0M936 310.9h0M993.7 260.3h0M948.2 307.4h0M965.6 285h0M957.8 298.9h0M944.7 310.1h0M929.8 316.7h0M939.1 312.3h0M1024.1 228.5h0M934.4 313.5h0M952.5 291.7h0M944.2 308.5h0M933.5 310.7h0M953.7 293.1h0M964.6 283.5h0M941.7 302.5h0M979 274.6h0M960.8 290.9h0M928.2 313.9h0M972 277.1h0M927.8 315.1h0M1005.3 245.5h0M940.6 306.1h0M931.7 321.2h0M943.4 302.2h0M955 294.2h0M943.7 313.8h0M957.6 297.5h0M939.9 314h0M967.3 286.1h0M923 317.6h0M938.2 312.9h0M981.1 273.6h0M945.3 310.5h0M937 317h0M964 289.3h0M962.1 286.9h0M932.3 321.4h0M945 299.4h0M992.6 255.7h0M935.9 315.9h0M938.3 314h0M962 289.4h0M980.7 268.2h0M990.9 258.8h0M982.8 264.3h0M936.3 317.3h0M939.6 308.2h0M1019.8 233.6h0M964.1 280.1h0M958.2 289.3h0M969.5 275.7h0M938.8 307.1h0M937.6 312.8h0M977.7 278.4h0M942.3 312.6h0M976.6 279.9h0M949.1 304.4h0M926 318.7h0M989.8 260.8h0M934.7 312.5h0M934.9 320.8h0M946.7 311.3h0M977.1 279.9h0M990 264.6h0M935.8 319.1h0M962 288.8h0M962.1 289h0M944.1 302.2h0M932.2 320.4h0M965.6 281.7h0M1015.7 234.6h0M945.7 305.8h0M937 307.8h0M965.7 279.9h0M947.2 303h0M932.3 322.5h0M948.7 297.2h0M943.3 311.2h0M954.3 291h0M948.7 299.9h0M931 312.2h0M1006 243.4h0M933.1 318.9h0M925.4 318.1h0M974.2 278h0M981.2 266.1h0M943.1 301.2h0M977.3 276h0M938.4 319.4h0M979.9 272.3h0M947.2 311.2h0M958.7 294.3h0M929.1 320.5h0M960 288.8h0M940.7 317.6h0M939.5 317.2h0M1012.9 238.1h0M976.8 276.1h0M946.3 306.4h0M981.9 264.7h0M946.8 298.5h0M937.8 310h0M933 317.5h0M965.9 280.7h0M952.5 293.2h0M961.1 296.3h0M931.2 318.2h0M968.6 281.7h0M936.1 305.8h0M957.5 292.5h0M936.8 321.4h0M947.1 310.4h0M966.3 287.9h0M938.5 318.4h0M947.2 310.9h0M938.3 313.3h0M990.2 263.1h0M935.7 313h0M976.6 276.3h0M977.1 272.3h0M935.3 323.1h0M983.9 268.5h0M997.4 258h0M933.3 319.1h0M964.5 285.5h0M972.8 279.3h0M942.4 302.4h0M933.6 311.7h0M932.7 309.6h0M958.5 289.7h0M960.9 287.3h0M943.8 310h0M931.5 317.1h0M956.3 292.5h0M982.3 272.4h0M930.9 317.9h0M952.4 294.7h0M929.3 319.8h0M956.5 294.7h0M984.7 265.6h0M947.5 302.4h0M927.5 315.7h0M998.2 254h0M940.6 312.3h0M929.6 318.6h0M937.6 320h0M945.7 309h0M992.5 255.9h0M934.7 318.9h0M964 292.5h0M931.4 310.3h0M957.1 297.1h0M970.6 280h0M946 308.5h0M940.2 319.1h0M982.3 268.5h0M967.1 287.8h0M964.1 286h0M959.5 296.1h0M951.4 295h0M929.4 317.5h0M940.5 307.5h0M930.4 320.9h0M939 313.1h0M935.2 324.4h0M941 313.7h0M933 317h0M931.5 313.4h0M946.2 297.2h0M942.7 306.2h0M934.4 322.4h0M934 319.8h0M931.2 319.5h0M946.5 297.3h0M962.4 290.2h0M938.9 308.6h0M939.1 306h0M1011.9 238.1h0M947.4 305.7h0M935.9 319.2h0M953.4 298.1h0M944.4 310h0M942.3 300.4h0M955.7 295.1h0M971.1 274.2h0M925.8 316h0M970.1 279.6h0M938.9 305.9h0M977.5 275.4h0M946.8 310h0M967.1 278.3h0M951.9 297.1h0M962.4 285.5h0M985.8 266.6h0M931 312.8h0M954.5 300.7h0M940.9 317.9h0M965.2 291.5h0M928.1 319.6h0M934.1 310.6h0M945.6 311.4h0M970 285.5h0M936.4 314.2h0M928.8 319.7h0M975.6 272.7h0M953 295.3h0M962.8 286.4h0M984.6 269.8h0M995.7 254.2h0M985.5 269.4h0M929.1 320.3h0M930.2 316.8h0M967.5 276.9h0M926.7 314.5h0M974.2 280.5h0M1000.5 254.9h0M969.7 283.2h0M946.5 309.8h0M954.6 300.1h0M967.8 282.5h0M951.3 305.8h0M930.2 320h0M952.5 300.4h0M1010.3 239.6h0M936.7 313.2h0M946.9 301.9h0M942.8 315.2h0M967.8 280.4h0M985.3 268h0M1021.7 230.9h0M948.1 296.3h0M960.3 286.6h0M951.2 297h0M943.7 308.4h0M1019.4 231.9h0M932.4 320.1h0M954.6 299.3h0M939.7 303.8h0M944.6 302.4h0M958 297.5h0M966.6 288.5h0M928.4 312.7h0M949 304.2h0M963.9 291.8h0M941 313.9h0M951.3 293.5h0M1005.8 248.4h0M955.3 300.3h0M936.2 313.5h0M937.1 319.3h0M943.4 298.8h0M931.8 317.2h0M963.9 280.5h0M940.2 314.6h0M961.4 296.3h0M936.7 317.4h0M1017.3 235.1h0M938.9 310.4h0M947.2 304.7h0M950.1 301.3h0M950 304.6h0M959 298.5h0M932.8 318.7h0M945.4 309.9h0M952.6 293.4h0M951.9 300.9h0M938.7 312.1h0M973.4 274.4h0M948.3 300.3h0M953.7 294.3h0M941 312.8h0M929.6 319.8h0M958.6 298.5h0M955.2 294.4h0M935.6 318.5h0M936.2 308.3h0M972.5 281.7h0M937.5 309.4h0M926 317.4h0M928.6 319h0M935.4 316h0M946.7 302.4h0M944.1 311.6h0M980.8 269.5h0M954.5 301.5h0M952.4 300.6h0M933.6 313.8h0M986 269.3h0M963.2 292.5h0M955.4 295.7h0M997.6 252.5h0M977.2 277.7h0M936.5 318.2h0M969.3 285.4h0M967.4 290.2h0M978.7 271.6h0M971.7 282.4h0M953.8 294.9h0M955.1 294.7h0M979.9 273.4h0M944.9 307.8h0M968.7 276.5h0M978.2 274.1h0M930.8 314.9h0M966.8 278.2h0M962.1 284.2h0M970.1 284.7h0M948.8 304.8h0M933.4 316.8h0M959.7 287.2h0M946.6 296.3h0M959.9 297.8h0M972.6 276.2h0M972.1 283.7h0M995 252.2h0M936.7 321.5h0M965.4 288.2h0M944 301.8h0M962.1 290.3h0M930.8 321.7h0M952.1 302.3h0M937.2 321.1h0M942 309h0M947.3 309.9h0M959.4 295.7h0M953.1 292.6h0M932.1 320.2h0M939 305.8h0M935.2 308.8h0M986.9 267.7h0M947.3 304.7h0M952.7 304.4h0M931.7 315.7h0M933 311.2h0M925.2 315.6h0M982.1 267.1h0M937.5 309.9h0M965.1 283.3h0M986.3 262.7h0M950.9 307.4h0M961.2 288.3h0M934.7 319.9h0M933.8 323.4h0M961.2 288.6h0M1012.4 242h0M932 311.6h0M928.7 317.8h0M938.1 318.3h0M979.3 277h0M947.6 309.5h0M967.9 286h0M933.5 316.8h0M931.2 318.8h0M932.4 318.8h0M941.9 313.5h0M965.7 285.4h0M976.4 278.1h0M981.4 269.3h0M957.7 294h0M1059.5 163.2h0M1028.7 237h0M1006.7 281.6h0M964.9 334.7h0M951.7 331h0" stroke="#a3a3a3" stroke-width="2.5" stroke-linecap="round" fill="none"/>
<path d="M913.8 315.5h0M913.1 314.2h0M920.5 315.6h0M925.4 313.3h0M918.8 307.2h0M951 287.6h0M984.1 261.7h0M969.9 269.3h0M927.6 309.9h0M1001.8 244h0M982.7 259.9h0M917.5 294.3h0M915.4 316h0M923.7 302h0M919 303.4h0M930.3 305.9h0M960.1 278h0M933.8 305.3h0M961.3 277.1h0M906.6 313.1h0M915 317h0M951.1 283h0M996.9 249.9h0M933 295.4h0M913.4 306.3h0M980.8 262.7h0M915.4 313.3h0M988.6 246.2h0M934.5 306.1h0M929 308.8h0M922.8 315.9h0M927.8 306.9h0M937.2 300.3h0M968.1 267.4h0M939.2 298.6h0M929.1 308.9h0M990 251.8h0M932.5 307.7h0M945.8 291.4h0M940.9 297.5h0M930.9 299.2h0M927.8 309.8h0M917.7 313.3h0M933.6 302.5h0M918.9 305.9h0M964.6 275h0M928.8 311.5h0M987.9 251.3h0M977.7 264.9h0M1019.8 225.9h0M977.9 266.2h0M933.4 307.6h0M933.7 307.4h0M974.4 267.4h0M964 277.5h0M934.2 299.6h0M932.4 299.3h0M922.7 310.9h0M968.4 273.2h0M924 311.7h0M933.3 306h0M1019.6 226.8h0M990.3 254h0M932.7 303.1h0M925.2 314.2h0M925.8 312h0M956.1 283h0M936.8 294.5h0M944 288h0M1021 227.4h0M907.6 316.3h0M970.2 271.5h0M927.2 311.4h0M919.3 309.9h0M929.5 303.4h0M926.5 313.9h0M919.7 312.4h0M961.1 280h0M983.9 260.8h0M946.8 290h0M906.4 316h0M918.3 314.9h0M933 299h0M995.5 249.4h0M930.7 305.7h0M948.4 291h0M1021.5 227.5h0M936.2 303.5h0M946.1 288.1h0M931.1 309.5h0M926.8 312.5h0M933.9 295.7h0M939 299h0M945.2 291.9h0M919.5 307.7h0M937.3 298.8h0M927 298.1h0M919.2 314.3h0M924.6 309.5h0M919.9 303.4h0M934.3 301.1h0M955.7 285.6h0M925.8 309h0M1007.7 239.8h0M940.1 295.7h0M965.9 277h0M927.7 302.1h0M968.1 275.7h0M923.5 303.1h0M954.6 279.9h0M916.7 310.2h0M919.6 315.5h0M927.4 311.6h0M998.6 244.6h0M1003 244.1h0M974.9 270h0M953.9 288.1h0M921.5 310.3h0M917.5 315.1h0M962.6 279.2h0M933.4 306.6h0M914.3 314.1h0M950.2 285.3h0M937.8 298.9h0M961 277.6h0M1012.5 228.5h0M928.1 309.9h0M1012.9 233.6h0M923.7 314.6h0M943.4 293.8h0M954.6 286h0M953.1 288.5h0M949.4 291.3h0M947.8 294.1h0M946.5 291.6h0M927.6 308h0M932.9 304.1h0M926.9 313.3h0M932.5 291.8h0M926.5 312.5h0M920.4 315.3h0M930.5 307.6h0M932.7 308.2h0M944 288.8h0M931.8 309.3h0M934.1 304.5h0M933.1 293.3h0M921.2 315.4h0M932.6 308.3h0M982.9 253.9h0M951 287h0M949.9 292h0M938.3 299.9h0M971.7 272.8h0M912.6 317.3h0M924.2 313.2h0M923 312.7h0M946.4 293h0M936.6 292h0M965.3 274.5h0M939.1 297.6h0M956.6 282h0M1001.3 242.7h0M945.5 296.2h0M940.4 294.1h0M1007.8 236.6h0M931.7 305.9h0M937.5 302.4h0M924.9 308.3h0M941.2 297h0M939.5 301h0M1005.8 242h0M950.9 289.7h0M993.7 252h0M996.4 250.1h0M968.8 274.1h0M980.8 261.5h0M948.6 286.4h0M957.3 283.9h0M971.5 269.2h0M938.9 300.7h0M992.1 251.3h0M951.6 289.7h0M956.5 276.8h0M922.5 317.5h0M988.5 254.5h0M953.6 281.7h0M949.2 284.7h0M954.8 284.6h0M946.3 293h0M1012.2 232.6h0M969 271.2h0M920.5 310.8h0M970.7 261.8h0M942 291.6h0M943.6 294.5h0M952.8 289.5h0M979.9 263.8h0M944.2 296.9h0M962.7 272.7h0M923.6 310.3h0M944.1 293h0M915.7 311.5h0M919 316.5h0M946.2 289.2h0M942.9 295.6h0M943.7 291.1h0M948.1 293.6h0M922.6 311h0M934.3 302.5h0M982.8 262.5h0M933.5 306.9h0M924.7 302.6h0M986.6 250.2h0M973.5 270.2h0M943 297.7h0M1022.8 226.1h0M985.9 252.5h0M913.4 310.6h0M968.3 271.1h0M943.7 289.7h0M940.3 298.8h0M938 303.7h0M1007.3 230.5h0M973.6 265.3h0M947.5 294.4h0M1001.6 243.8h0M987.4 252.3h0M974.8 269h0M993.8 244h0M971.5 270.2h0M943.3 294.9h0M950.6 290.5h0M928.6 309.9h0M930.6 309.2h0M939 301.5h0M942.4 293.9h0M921 298.2h0M929.7 309.5h0M964.6 279.3h0M929.9 300.6h0M989.1 250.4h0M921.4 316.2h0M974.2 265.9h0M961.5 281.1h0M964.3 273.5h0M1009.2 234.7h0M975.6 268.6h0M922.3 295.6h0M922 315.2h0M910.5 315.7h0M930.9 294.8h0M967.1 271.6h0M934.5 306h0M923.9 300.6h0M916 310.3h0M934.3 299.4h0M948.6 284.7h0M962.5 278.9h0M935.1 306.2h0M999.4 234.8h0M922 314.2h0M943.3 289.1h0M928.1 302.5h0M936.4 302.1h0M919.4 313.2h0M980.5 262h0M935.9 304h0M919.8 311.5h0M929.2 311.2h0M981.6 257.4h0M932 308.9h0M916.7 310.9h0M927.9 308.6h0M952 288.6h0M927.4 310.6h0M940.9 300.7h0M961.6 277.4h0M925.8 313.4h0M932.5 301.8h0M914.4 316.7h0M906.5 314.3h0M958.4 282.4h0M939.3 285.9h0M967.8 271.7h0M914.7 314h0M958.8 277.1h0M935.1 305h0M990.6 251.1h0M991.6 249.8h0M949.7 292.9h0M948.3 284.8h0M960.8 281.4h0M970.6 270.3h0M921.9 313.9h0M943.5 297.7h0M960.3 278.7h0M1004.1 239.2h0M940.7 300.7h0M916.1 313.7h0M994.8 242.1h0M926.3 303.9h0M1012.5 229.6h0M929.4 310.5h0M938.7 298.7h0M957.8 279.5h0M943.3 292.9h0M927.2 305.5h0M922.5 316.5h0M930.8 304h0M931.8 302.7h0M995.7 249.5h0M981.6 250.4h0M963.9 278.7h0M924.7 299.8h0M959.2 280.8h0M929.2 308.2h0M938.4 292.4h0M933.2 299.9h0M931.1 308.9h0M914.5 314.6h0M925.4 312.1h0M965.1 277.6h0M982.4 262.8h0M953.9 286.8h0M932.7 302.4h0M930.8 310.1h0M919 313.8h0M945.6 294.4h0M979.6 261.1h0M989.2 254.5h0M954.9 285.8h0M956.2 286.4h0M927.6 296.5h0M922.9 300.6h0M938.5 292.8h0M918.4 311.5h0M963.4 279.9h0M935.8 300.3h0M918.5 315.6h0M1006.2 235.2h0M965.4 264.1h0M921.6 314.6h0M922 313.3h0M940.2 294.2h0M960.9 281.2h0M922.6 313.9h0M983.9 260.2h0M961.1 281.1h0M998.6 238.6h0M914 316.9h0M923.1 312h0M955.4 281.8h0M954.9 284.9h0M949.4 283.5h0M953.2 287.2h0M932.2 308.1h0M983.9 256.6h0M916.6 300h0M925.6 301.9h0M1005.2 238.4h0M966.9 269.7h0M971.7 268.7h0M965.1 277.7h0M936 295.9h0M937.1 291.5h0M920.3 308.6h0M927 312.6h0M944.1 298h0M923.3 306h0M966.3 276.4h0M955.5 283.9h0M921 302.9h0M948.2 291.5h0M925.1 315.2h0M926.5 292.3h0M950.9 280.5h0M939.8 300.4h0M930.9 305.1h0M996 248.9h0M962.5 280.4h0M925.9 313.7h0M991.7 253.6h0M918.4 315.9h0M934.9 304.8h0M929.1 311.6h0M995.2 249.4h0M936.5 300.4h0M921.6 314.3h0M932.7 300.8h0M959.6 280.9h0M919.7 310.2h0M964.4 273h0M1002.7 242.6h0M939.7 291.5h0M1011.8 235.4h0M923.5 314.2h0M1014.1 234h0M967.3 276.5h0M921.2 315.9h0M1018.8 228h0M935.8 300.5h0M908 314h0M945.9 296h0M922.5 309.4h0M1003.8 243.2h0M945.1 292.8h0M988.4 249h0M980.6 264.2h0M945 288.7h0M947.1 290.6h0M928.8 306.4h0M912.2 311.7h0M982.3 260.5h0M974.7 267.7h0M926.4 312.9h0M969.8 273.1h0M964.4 274.3h0M952.5 287h0M956 283.7h0M995.3 245.4h0M1014 234h0M933.6 297.7h0M920.3 306.1h0M916.8 315.2h0M925.2 310.7h0M944.7 286.1h0M934.6 289.8h0M929.9 308.2h0M986.9 253.1h0M926.4 309.8h0M940.5 279.5h0M910.3 306.9h0M930.5 305.6h0M921.6 316.4h0M923.1 306.4h0M918 315.9h0M964.2 274.8h0M948.4 292h0M917.1 315.4h0M980.9 261.6h0M923.4 299.6h0M1014.7 228.6h0M948.4 292.5h0M934.4 302.3h0M950.6 287.9h0M927 310.7h0M950.7 291.5h0M917.7 315h0M973 267h0M927.5 311.8h0M923.1 314h0M925.5 308h0M958.6 281.8h0M911.7 311.4h0M930.6 306.7h0M946.2 291h0M926.5 310h0M916.1 312.7h0M939.7 298.8h0M969 272h0M976.9 265.9h0M944.1 291.2h0M923.9 310.5h0M962.3 270.7h0M942.5 286.6h0M970.7 264.2h0M969.9 273.7h0M924.4 314.5h0M944.9 283.7h0M924.4 305.3h0M927 306.6h0M985.4 255.9h0M920.6 309.1h0M935.3 300.2h0M992.4 251.2h0M989.4 256.9h0M935 305.2h0M958.6 280.5h0M936.8 304.3h0M947.5 295h0M927.6 310.3h0M940.8 299.8h0M924.2 315.7h0M928 293.3h0M990.3 255.1h0M952.7 281.3h0M925.1 314.6h0M992.5 253h0M925.4 311.6h0M930 304.9h0M922.8 302.7h0M925 296.8h0M929.4 306h0M938.5 299h0M942 297.4h0M925.8 301.4h0M961.8 277.5h0M968.2 273.8h0" stroke="#e8383a" stroke-width="2.4" stroke-linecap="round" fill="none"/>
<path d="M947.6 312.1h0M945.7 317.6h0M952.6 306h0M952.3 317.3h0M950.9 308.4h0M978.5 281.9h0M940.4 321.7h0M958.4 312.2h0M938.2 322.1h0M940.1 320.2h0M984.8 274.8h0M955.7 304.6h0M988.1 270.1h0M945.9 315.8h0M950.6 321.4h0M956.8 314.6h0M950.8 324.6h0M983.8 280.2h0M964.8 298.1h0M947.3 316.7h0M945 315.3h0M952.9 311h0M941.7 318.8h0M972.7 286.1h0M943.8 326h0M981.6 277.1h0M946.1 322h0M956 312.9h0M967.4 291.3h0M939 325.6h0M943.3 321.4h0M980.2 293.9h0M944.8 316.8h0M991.5 271.9h0M943.6 316.5h0M946.7 312.7h0M979.4 284.6h0M1005.3 253.8h0M985.6 282.3h0M949.3 322.6h0M946 321.3h0M956.6 319.3h0M991.2 270.3h0M963 297.6h0M953.9 313.8h0M976.1 288.5h0M976.7 289.2h0M957.5 305.5h0M964.5 298.6h0M964.4 295.5h0M975.2 285h0M948.1 326.2h0M976.9 285.8h0M971.1 295.1h0M977.2 283h0M942 317.6h0M975.8 288h0M950.2 309.1h0M961.2 299.2h0M991.8 265.6h0M945.3 316.7h0M937.8 326.3h0M951.2 309.2h0M942.6 321.7h0M1008.7 252.1h0M944.5 315.5h0M957.5 306.3h0M936.8 325.7h0M958.3 318.7h0M942.7 319.3h0M965.4 296.4h0M998.1 259h0M942.9 317.4h0M957.3 303.2h0M944.1 319.3h0M961.6 312.4h0M969.2 303.3h0M944.4 323.8h0M1001.4 255.4h0M976.3 285.6h0M951.1 312.2h0M963 296.3h0M948 316.7h0M938.3 323.5h0M942.5 324.3h0M988.2 282.8h0M940.8 324.5h0M1003.4 254.1h0M951 310.2h0M958.9 309.7h0M958.6 320.9h0M961.6 297.8h0M949.5 325.3h0M941.3 319.2h0M970.2 291.1h0M969.6 294.2h0M984.8 273.2h0M954.3 310.5h0M954.9 304.6h0M952.3 306.9h0M962.3 301.2h0M974.6 285.3h0M989.4 269h0M943.9 315.5h0M966.6 300h0M946.1 322.1h0M949.8 313h0M942.6 318.4h0M997.6 265.2h0M938.6 322.3h0M950.5 321.5h0M970.3 289h0M984.6 273.9h0M958.1 304.7h0M974.2 287.4h0M985.9 271.9h0M956 305h0M952.3 315.1h0M936.8 324.2h0M941.2 320.3h0M973.7 295.8h0M940.7 323h0M965.6 293h0M973 285.3h0M983.1 273.8h0M954.6 311.9h0M958.9 309.1h0M958.3 301.2h0M1002.5 257.2h0M949.6 321.9h0M953.4 311h0M951.7 312.7h0M1002.4 256.9h0M949 321.5h0M965.3 300.9h0M961.4 300.5h0M954.4 317h0M945.9 313.1h0M961.4 303.9h0M955.9 314.8h0M940 320.4h0M975.6 288.7h0M985.9 272.2h0M961.3 319.9h0M965.3 304.5h0M965.2 302.1h0M994.3 263.3h0M957.7 313.5h0M998.8 257.1h0M946.6 312.6h0M989.3 270.2h0M938.9 321.2h0M956.8 318h0M956.1 304h0M956.2 309.9h0M943.3 317.7h0M968.2 307.3h0M944.3 320.3h0M946.4 325.8h0M947.7 312.9h0M969.3 306.9h0M966.1 294.1h0M971.2 295.8h0M998 260.4h0M978.9 294.5h0M987.6 269.4h0M952.5 315.3h0M989.5 282.3h0M963.4 304h0M951.5 317.9h0M969.8 289h0M941 324h0M952.7 310.2h0M1011 244.3h0M955.2 305.7h0M955.1 306.1h0M983.7 274.9h0M945.6 319.4h0M972 288.3h0M991.4 267.1h0M945.7 317.3h0M947.8 316.4h0M951.9 309.4h0M967.3 292.4h0M969.4 294.6h0M999.2 256.6h0M984.5 278h0M945.8 319h0M961 298.2h0M1012.2 249.1h0M985.7 279.2h0M949.2 315.3h0M953 309.8h0M949.4 317.1h0M982.6 275.1h0M952.4 309.6h0M996.9 262.2h0M939.4 322.9h0M951.6 308h0M955.9 308.5h0M959.4 305.4h0M940.8 319.9h0M945.3 320.9h0M959.2 305.3h0M949.1 310.3h0M994.3 266.3h0M938.6 321h0M946.6 321.6h0M967.7 292.4h0M949.5 312.1h0M946.5 316.3h0M1021.1 241.4h0M986.1 272.4h0M1003.4 254h0M955.2 307.3h0M941.6 319.8h0M964 295.5h0M955.4 309.4h0M1013.9 242.9h0M963.4 304.1h0M979.4 288.9h0M968.9 292h0M950.9 309.3h0M940.9 318.9h0M950.8 316.5h0M966.7 310.8h0M1000 259.5h0M985.6 274.6h0M943.7 317.3h0M935.9 324.6h0M958.4 309.5h0M969.5 293.1h0M956.9 305.7h0M951.7 311.3h0M968.1 293.5h0M961.4 297.9h0M954.8 304.3h0M964.7 298.7h0M940.4 320.8h0M966.9 296.6h0M945.2 315.9h0M972.1 286.3h0M945.4 314.9h0M950.7 308.9h0M998.9 257.9h0M942.7 326h0M961.8 306.1h0M955.8 318.5h0M942.4 323.2h0M980.9 279.2h0M942.6 321.9h0M950.7 317.5h0M978.4 290.8h0M1016 242h0M946 320.2h0M964.4 298.2h0M946.5 312.9h0M945.7 324.9h0M940.7 320.5h0M951.7 309.1h0M956.1 302.8h0M967.6 293.1h0M961.7 304.2h0M951.1 312.8h0M940.2 319.2h0M968.9 295.9h0M977.5 281.8h0M943.5 320.7h0M952.1 317.1h0M948.3 312.7h0M966.4 292.1h0M946.6 312.8h0M945.9 313.6h0M976.9 289.3h0M1023.4 232.1h0M969.8 289.5h0M946.5 320.2h0M954.3 306.1h0M948.8 314.9h0M966.8 301.2h0M991.9 266.9h0M941 319.4h0M949.2 313.1h0M938.8 323.2h0M948.5 320.8h0M1002.3 254.9h0M943.5 318.8h0M944.3 315.6h0M951.5 321.3h0M971.3 297.2h0M962.8 300.8h0M944.3 319.4h0M1015.7 242.8h0M1026.8 234.6h0M938.8 321.2h0M938.9 325.7h0M946.2 320.4h0M952.5 312.4h0M970 302.9h0M939.3 326.1h0M947.1 322.1h0M954.6 308.8h0M950.4 311.2h0M974.6 287.7h0M946.7 325.7h0M939.1 322.5h0M946.7 316h0M955.6 306.9h0M953.1 318.7h0M1023.5 231.1h0M960.6 307.2h0M987 276.2h0M966 303.2h0M961.5 302h0M943.2 321.8h0M977.7 293.6h0M985 273.3h0M943 317h0M943.6 319.3h0M975.8 285.8h0M960.1 300.5h0M964.5 306.8h0M949.7 317.5h0M961 306.5h0M946.3 314.2h0M981.8 285.3h0M948.4 311.3h0M963.8 296.2h0M936.8 324.6h0M977.5 282h0M939.5 322.5h0M946.1 319.3h0M939 322.8h0M946.7 315.7h0M964.4 302h0M943.3 320.2h0M944.3 319.3h0M955.3 306.3h0M1003.3 254.5h0M1003.2 253.4h0M942.4 321.4h0M960 310.3h0M946 323.5h0M969 291.8h0M960.9 298.8h0M984.7 280.2h0M949.7 312.2h0M950.4 322.2h0M971.6 290.2h0M950.9 309.6h0M1001.7 254.3h0M936.5 323.3h0M941.4 321.4h0M1001.5 255.9h0M946.2 315.6h0M950.9 308.3h0M941.8 325.3h0M952.5 307.2h0M969.8 294.3h0M988.5 274h0M964.7 300.1h0M1021.3 234.2h0M937.7 325.3h0M966.8 299.4h0M951.6 313.9h0M950.3 314.1h0M954.2 306.6h0M1008.9 248.1h0M939.2 323.3h0M942.4 319.1h0M950.8 310.5h0M941.3 325.3h0M938.7 323.2h0M965.9 311.7h0M943.5 316.6h0M958.8 302.5h0M942.7 317.6h0M936.3 325h0M944.8 318.8h0M938.9 325.8h0M974.2 299.9h0M941.8 320.1h0M955.1 310h0M949 312.9h0M987.1 274.6h0M996.1 263h0M952.2 314.4h0M953.9 307h0M998.1 258.2h0M1005.9 252.2h0M947.4 319.3h0M937.8 325.5h0M992.1 266.5h0M956.6 307.7h0M967.9 290h0M941.3 324.1h0M944 316.3h0M944.1 315.2h0M939.4 324.2h0M937.6 322.2h0M978 284h0M962.6 306.6h0M948.5 315.4h0M963.3 301.6h0M965.6 302.1h0M942.9 316.9h0M995.8 260.6h0M996.3 263h0M943.7 317.7h0M940.7 325.4h0M963.1 302.8h0M939.7 324.5h0M978.6 279.8h0M952.6 314.2h0M945 314.7h0M948.5 317.6h0M964.9 295.1h0M951.3 307.7h0M965.6 294.8h0M951.7 312.3h0M991.3 271.7h0M959.3 315h0M938.5 326.8h0M947 314.5h0M991.1 271.3h0M1022 245.6h0M952.6 308.8h0M957.1 302.7h0M940.6 325.8h0M954.3 313.4h0M949.7 309.1h0M949.6 311h0M941.3 324.2h0M972.2 288.2h0M948.6 318.1h0M961.5 303h0M959.3 308.1h0M999.5 257.6h0M988.4 269.5h0M938.7 320.8h0M945.1 317.7h0M957.8 302.7h0M949.2 316.1h0M979.2 284.8h0M958 310.1h0M992.8 271.3h0" stroke="#2f6fc0" stroke-width="2.4" stroke-linecap="round" fill="none"/>
<line x1="900.8" y1="91.5" x2="900.8" y2="351.6" stroke="#111" stroke-width="1.6" />
<line x1="900" y1="351.6" x2="1159.5" y2="351.6" stroke="#111" stroke-width="1.6" />
<line x1="895.5" y1="314.3" x2="900.8" y2="314.3" stroke="#111" stroke-width="1.6" />
<text transform="translate(889 314.3) rotate(-90)" font-size="18" text-anchor="middle" fill="#111">6</text>
<line x1="938.5" y1="351.6" x2="938.5" y2="357" stroke="#111" stroke-width="1.6" />
<text x="938.5" y="377" font-size="18" text-anchor="middle" fill="#111" >6</text>
<line x1="895.5" y1="269.9" x2="900.8" y2="269.9" stroke="#111" stroke-width="1.6" />
<text transform="translate(889 269.9) rotate(-90)" font-size="18" text-anchor="middle" fill="#111">8</text>
<line x1="982.5" y1="351.6" x2="982.5" y2="357" stroke="#111" stroke-width="1.6" />
<text x="982.5" y="377" font-size="18" text-anchor="middle" fill="#111" >8</text>
<line x1="895.5" y1="225.4" x2="900.8" y2="225.4" stroke="#111" stroke-width="1.6" />
<text transform="translate(889 225.4) rotate(-90)" font-size="18" text-anchor="middle" fill="#111">10</text>
<line x1="1026.5" y1="351.6" x2="1026.5" y2="357" stroke="#111" stroke-width="1.6" />
<text x="1026.5" y="377" font-size="18" text-anchor="middle" fill="#111" >10</text>
<line x1="895.5" y1="181" x2="900.8" y2="181" stroke="#111" stroke-width="1.6" />
<text transform="translate(889 181) rotate(-90)" font-size="18" text-anchor="middle" fill="#111">12</text>
<line x1="1070.5" y1="351.6" x2="1070.5" y2="357" stroke="#111" stroke-width="1.6" />
<text x="1070.5" y="377" font-size="18" text-anchor="middle" fill="#111" >12</text>
<line x1="895.5" y1="136.5" x2="900.8" y2="136.5" stroke="#111" stroke-width="1.6" />
<text transform="translate(889 136.5) rotate(-90)" font-size="18" text-anchor="middle" fill="#111">14</text>
<line x1="1114.5" y1="351.6" x2="1114.5" y2="357" stroke="#111" stroke-width="1.6" />
<text x="1114.5" y="377" font-size="18" text-anchor="middle" fill="#111" >14</text>
<line x1="895.5" y1="92.1" x2="900.8" y2="92.1" stroke="#111" stroke-width="1.6" />
<text transform="translate(889 92.1) rotate(-90)" font-size="18" text-anchor="middle" fill="#111">16</text>
<line x1="1158.5" y1="351.6" x2="1158.5" y2="357" stroke="#111" stroke-width="1.6" />
<text x="1158.5" y="377" font-size="18" text-anchor="middle" fill="#111" >16</text>
<text x="1049.5" y="400.5" font-size="18" text-anchor="middle" fill="#111" >Normalized reads counts in Control</text>
<text transform="translate(837 201) rotate(-90)" font-size="18" text-anchor="middle" fill="#111">Normalized reads counts in</text>
<text transform="translate(859 201) rotate(-90)" font-size="18" text-anchor="middle" fill="#111">RBMX/L1 K/D</text>
<circle cx="911.9" cy="98.5" r="2.6" fill="#e23a3c"/>
<circle cx="911.9" cy="119" r="2.6" fill="#3c72bd"/>
<text x="919" y="104.5" font-size="18" fill="#111" >Peaks increased in RBMX/L1 K/D</text>
<text x="919" y="125.5" font-size="18" fill="#111" >Peaks decreased in RBMX/L1 K/D</text>
<text x="918.5" y="147.5" font-size="18" fill="#111"><tspan font-style="italic">p</tspan>-value &lt; 0.05</text>
<text x="20" y="451" font-size="29" font-weight="bold" fill="#000" >d</text>
<text x="629" y="440" font-size="16.9" text-anchor="middle" fill="#111" >Location of changes in accessible peaks in RBMX/L1 K/D</text>
<path d="M194.8 609.4 L328.3 609.4 A133.5 133.5 0 0 0 186.6 476.1 Z" fill="#a6cee3" stroke="#111" stroke-width="1.1" stroke-linejoin="round"/>
<path d="M194.8 609.4 L186.6 476.1 A133.5 133.5 0 0 0 161.7 480.1 Z" fill="#2e82b0" stroke="#111" stroke-width="1.1" stroke-linejoin="round"/>
<path d="M194.8 609.4 L161.7 480.1 A133.5 133.5 0 0 0 140.5 487.5 Z" fill="#99d277" stroke="#111" stroke-width="1.1" stroke-linejoin="round"/>
<path d="M194.8 609.4 L140.5 487.5 A133.5 133.5 0 0 0 137.5 488.8 Z" fill="#6f9e4d" stroke="#111" stroke-width="1.1" stroke-linejoin="round"/>
<path d="M194.8 609.4 L137.5 488.8 A133.5 133.5 0 0 0 121.8 497.6 Z" fill="#f16767" stroke="#111" stroke-width="1.1" stroke-linejoin="round"/>
<path d="M194.8 609.4 L121.8 497.6 A133.5 133.5 0 0 0 113.8 503.3 Z" fill="#f06c46" stroke="#111" stroke-width="1.1" stroke-linejoin="round"/>
<path d="M194.8 609.4 L113.8 503.3 A133.5 133.5 0 0 0 100.9 514.6 Z" fill="#fe992c" stroke="#111" stroke-width="1.1" stroke-linejoin="round"/>
<path d="M194.8 609.4 L100.9 514.6 A133.5 133.5 0 0 0 65.7 575.4 Z" fill="#daa396" stroke="#111" stroke-width="1.1" stroke-linejoin="round"/>
<path d="M194.8 609.4 L65.7 575.4 A133.5 133.5 0 0 0 120.8 720.5 Z" fill="#7d54a6" stroke="#111" stroke-width="1.1" stroke-linejoin="round"/>
<path d="M194.8 609.4 L120.8 720.5 A133.5 133.5 0 0 0 128.4 725.2 Z" fill="#f0ec99" stroke="#111" stroke-width="1.1" stroke-linejoin="round"/>
<path d="M194.8 609.4 L128.4 725.2 A133.5 133.5 0 0 0 328.3 609.4 Z" fill="#b15928" stroke="#111" stroke-width="1.1" stroke-linejoin="round"/>
<path d="M832.3 609.4 L965.3 609.4 A133 133 0 0 0 913.3 503.9 Z" fill="#a6cee3" stroke="#111" stroke-width="1.1" stroke-linejoin="round"/>
<path d="M832.3 609.4 L913.3 503.9 A133 133 0 0 0 890.3 489.7 Z" fill="#2e82b0" stroke="#111" stroke-width="1.1" stroke-linejoin="round"/>
<path d="M832.3 609.4 L890.3 489.7 A133 133 0 0 0 873.3 482.9 Z" fill="#99d277" stroke="#111" stroke-width="1.1" stroke-linejoin="round"/>
<path d="M832.3 609.4 L873.3 482.9 A133 133 0 0 0 869.4 481.7 Z" fill="#6f9e4d" stroke="#111" stroke-width="1.1" stroke-linejoin="round"/>
<path d="M832.3 609.4 L869.4 481.7 A133 133 0 0 0 853 478 Z" fill="#f16767" stroke="#111" stroke-width="1.1" stroke-linejoin="round"/>
<path d="M832.3 609.4 L853 478 A133 133 0 0 0 851.4 477.8 Z" fill="#f06c46" stroke="#111" stroke-width="1.1" stroke-linejoin="round"/>
<path d="M832.3 609.4 L851.4 477.8 A133 133 0 0 0 828.7 476.4 Z" fill="#fe992c" stroke="#111" stroke-width="1.1" stroke-linejoin="round"/>
<path d="M832.3 609.4 L828.7 476.4 A133 133 0 0 0 743.5 510.4 Z" fill="#daa396" stroke="#111" stroke-width="1.1" stroke-linejoin="round"/>
<path d="M832.3 609.4 L743.5 510.4 A133 133 0 0 0 723.4 685.8 Z" fill="#7d54a6" stroke="#111" stroke-width="1.1" stroke-linejoin="round"/>
<path d="M832.3 609.4 L723.4 685.8 A133 133 0 0 0 728.4 692.4 Z" fill="#f0ec99" stroke="#111" stroke-width="1.1" stroke-linejoin="round"/>
<path d="M832.3 609.4 L728.4 692.4 A133 133 0 0 0 965.3 609.4 Z" fill="#b15928" stroke="#111" stroke-width="1.1" stroke-linejoin="round"/>
<text x="323.3" y="487.5" font-size="16.9" text-anchor="middle" fill="#111" >Decreased</text>
<text x="959.8" y="487.5" font-size="16.9" text-anchor="middle" fill="#111" >Increased</text>
<rect x="393.2" y="518.8" width="9.6" height="9.6" fill="#a6cee3" stroke="#222" stroke-width="1" />
<text x="416" y="528.8" font-size="14.5" fill="#111" >Promoter (&lt;=1kb) (25.97%)</text>
<rect x="393.2" y="536" width="9.6" height="9.6" fill="#2e82b0" stroke="#222" stroke-width="1" />
<text x="416" y="546" font-size="14.5" fill="#111" >Promoter (1−2kb) (3.02%)</text>
<rect x="393.2" y="553.1" width="9.6" height="9.6" fill="#99d277" stroke="#222" stroke-width="1" />
<text x="416" y="563.1" font-size="14.5" fill="#111" >Promoter (2−3kb) (2.68%)</text>
<rect x="393.2" y="570.3" width="9.6" height="9.6" fill="#6f9e4d" stroke="#222" stroke-width="1" />
<text x="416" y="580.3" font-size="14.5" fill="#111" >5' UTR (0.39%)</text>
<rect x="393.2" y="587.4" width="9.6" height="9.6" fill="#f16767" stroke="#222" stroke-width="1" />
<text x="416" y="597.4" font-size="14.5" fill="#111" >3' UTR (2.14%)</text>
<rect x="393.2" y="604.6" width="9.6" height="9.6" fill="#f06c46" stroke="#222" stroke-width="1" />
<text x="416" y="614.6" font-size="14.5" fill="#111" >1st Exon (1.17%)</text>
<rect x="393.2" y="621.8" width="9.6" height="9.6" fill="#fe992c" stroke="#222" stroke-width="1" />
<text x="416" y="631.8" font-size="14.5" fill="#111" >Other Exon (2.05%)</text>
<rect x="393.2" y="638.9" width="9.6" height="9.6" fill="#daa396" stroke="#222" stroke-width="1" />
<text x="416" y="648.9" font-size="14.5" fill="#111" >1st Intron (8.48%)</text>
<rect x="393.2" y="656.1" width="9.6" height="9.6" fill="#7d54a6" stroke="#222" stroke-width="1" />
<text x="416" y="666.1" font-size="14.5" fill="#111" >Other Intron (19.74%)</text>
<rect x="393.2" y="673.2" width="9.6" height="9.6" fill="#f0ec99" stroke="#222" stroke-width="1" />
<text x="416" y="683.2" font-size="14.5" fill="#111" >Downstream (&lt;=300) (1.07%)</text>
<rect x="393.2" y="690.4" width="9.6" height="9.6" fill="#b15928" stroke="#222" stroke-width="1" />
<text x="416" y="700.4" font-size="14.5" fill="#111" >Distal Intergenic (33.28%)</text>
<rect x="1020.9" y="518.8" width="9.6" height="9.6" fill="#a6cee3" stroke="#222" stroke-width="1" />
<text x="1043.8" y="528.8" font-size="14.5" fill="#111" >Promoter (&lt;=1kb) (14.58%)</text>
<rect x="1020.9" y="536" width="9.6" height="9.6" fill="#2e82b0" stroke="#222" stroke-width="1" />
<text x="1043.8" y="546" font-size="14.5" fill="#111" >Promoter (1−2kb) (3.23%)</text>
<rect x="1020.9" y="553.1" width="9.6" height="9.6" fill="#99d277" stroke="#222" stroke-width="1" />
<text x="1043.8" y="563.1" font-size="14.5" fill="#111" >Promoter (2−3kb) (2.2%)</text>
<rect x="1020.9" y="570.3" width="9.6" height="9.6" fill="#6f9e4d" stroke="#222" stroke-width="1" />
<text x="1043.8" y="580.3" font-size="14.5" fill="#111" >5' UTR (0.49%)</text>
<rect x="1020.9" y="587.4" width="9.6" height="9.6" fill="#f16767" stroke="#222" stroke-width="1" />
<text x="1043.8" y="597.4" font-size="14.5" fill="#111" >3' UTR (2.01%)</text>
<rect x="1020.9" y="604.6" width="9.6" height="9.6" fill="#f06c46" stroke="#222" stroke-width="1" />
<text x="1043.8" y="614.6" font-size="14.5" fill="#111" >1st Exon (0.19%)</text>
<rect x="1020.9" y="621.8" width="9.6" height="9.6" fill="#fe992c" stroke="#222" stroke-width="1" />
<text x="1043.8" y="631.8" font-size="14.5" fill="#111" >Other Exon (2.73%)</text>
<rect x="1020.9" y="638.9" width="9.6" height="9.6" fill="#daa396" stroke="#222" stroke-width="1" />
<text x="1043.8" y="648.9" font-size="14.5" fill="#111" >1st Intron (11.2%)</text>
<rect x="1020.9" y="656.1" width="9.6" height="9.6" fill="#7d54a6" stroke="#222" stroke-width="1" />
<text x="1043.8" y="666.1" font-size="14.5" fill="#111" >Other Intron (23.09%)</text>
<rect x="1020.9" y="673.2" width="9.6" height="9.6" fill="#f0ec99" stroke="#222" stroke-width="1" />
<text x="1043.8" y="683.2" font-size="14.5" fill="#111" >Downstream (&lt;=300) (0.99%)</text>
<rect x="1020.9" y="690.4" width="9.6" height="9.6" fill="#b15928" stroke="#222" stroke-width="1" />
<text x="1043.8" y="700.4" font-size="14.5" fill="#111" >Distal Intergenic (39.27%)</text>
<text x="20" y="843" font-size="29" font-weight="bold" fill="#000" >e</text>
<text x="642.6" y="847" font-size="16.9" text-anchor="middle" fill="#111" >Location of changes in pericentric &amp; telomeric heterochromatin accessible peaks in RBMX/L1 K/D</text>
<path d="M191.8 1007.3 L326 1007.3 A134.2 134.2 0 0 0 134.5 886 Z" fill="#a6cee3" stroke="#111" stroke-width="1.1" stroke-linejoin="round"/>
<path d="M191.8 1007.3 L134.5 886 A134.2 134.2 0 0 0 128.5 888.9 Z" fill="#569fa4" stroke="#111" stroke-width="1.1" stroke-linejoin="round"/>
<path d="M191.8 1007.3 L128.5 888.9 A134.2 134.2 0 0 0 99.8 909.6 Z" fill="#53b044" stroke="#111" stroke-width="1.1" stroke-linejoin="round"/>
<path d="M191.8 1007.3 L99.8 909.6 A134.2 134.2 0 0 0 96.7 912.6 Z" fill="#f88a89" stroke="#111" stroke-width="1.1" stroke-linejoin="round"/>
<path d="M191.8 1007.3 L96.7 912.6 A134.2 134.2 0 0 0 83.8 927.7 Z" fill="#f06c46" stroke="#111" stroke-width="1.1" stroke-linejoin="round"/>
<path d="M191.8 1007.3 L83.8 927.7 A134.2 134.2 0 0 0 57.7 1001.8 Z" fill="#ff870e" stroke="#111" stroke-width="1.1" stroke-linejoin="round"/>
<path d="M191.8 1007.3 L57.7 1001.8 A134.2 134.2 0 0 0 132.5 1127.7 Z" fill="#b295c7" stroke="#111" stroke-width="1.1" stroke-linejoin="round"/>
<path d="M191.8 1007.3 L132.5 1127.7 A134.2 134.2 0 0 0 148.9 1134.4 Z" fill="#c7b699" stroke="#111" stroke-width="1.1" stroke-linejoin="round"/>
<path d="M191.8 1007.3 L148.9 1134.4 A134.2 134.2 0 0 0 326 1007.3 Z" fill="#b15928" stroke="#111" stroke-width="1.1" stroke-linejoin="round"/>
<path d="M833.7 1007.3 L967.7 1007.3 A134 134 0 0 0 861.6 876.2 Z" fill="#a6cee3" stroke="#111" stroke-width="1.1" stroke-linejoin="round"/>
<path d="M833.7 1007.3 L861.6 876.2 A134 134 0 0 0 856.6 875.3 Z" fill="#569fa4" stroke="#111" stroke-width="1.1" stroke-linejoin="round"/>
<path d="M833.7 1007.3 L856.6 875.3 A134 134 0 0 0 836.6 873.3 Z" fill="#53b044" stroke="#111" stroke-width="1.1" stroke-linejoin="round"/>
<path d="M833.7 1007.3 L836.6 873.3 A134 134 0 0 0 829.8 873.4 Z" fill="#f88a89" stroke="#111" stroke-width="1.1" stroke-linejoin="round"/>
<path d="M833.7 1007.3 L829.8 873.4 A134 134 0 0 0 801.7 877.2 Z" fill="#f06c46" stroke="#111" stroke-width="1.1" stroke-linejoin="round"/>
<path d="M833.7 1007.3 L801.7 877.2 A134 134 0 0 0 725.5 928.3 Z" fill="#ff870e" stroke="#111" stroke-width="1.1" stroke-linejoin="round"/>
<path d="M833.7 1007.3 L725.5 928.3 A134 134 0 0 0 732.8 1095.5 Z" fill="#b295c7" stroke="#111" stroke-width="1.1" stroke-linejoin="round"/>
<path d="M833.7 1007.3 L732.8 1095.5 A134 134 0 0 0 736.2 1099.2 Z" fill="#c7b699" stroke="#111" stroke-width="1.1" stroke-linejoin="round"/>
<path d="M833.7 1007.3 L736.2 1099.2 A134 134 0 0 0 967.7 1007.3 Z" fill="#b15928" stroke="#111" stroke-width="1.1" stroke-linejoin="round"/>
<text x="324.7" y="889" font-size="16.9" text-anchor="middle" fill="#111" >Decreased</text>
<text x="962.2" y="889" font-size="16.9" text-anchor="middle" fill="#111" >Increased</text>
<rect x="395" y="934.2" width="9.6" height="9.6" fill="#a6cee3" stroke="#222" stroke-width="1" />
<text x="418.8" y="944.2" font-size="14.5" fill="#111" >Promoter (32.02%)</text>
<rect x="395" y="951.4" width="9.6" height="9.6" fill="#569fa4" stroke="#222" stroke-width="1" />
<text x="418.8" y="961.4" font-size="14.5" fill="#111" >5' UTR (0.79%)</text>
<rect x="395" y="968.6" width="9.6" height="9.6" fill="#53b044" stroke="#222" stroke-width="1" />
<text x="418.8" y="978.6" font-size="14.5" fill="#111" >3' UTR (4.2%)</text>
<rect x="395" y="985.8" width="9.6" height="9.6" fill="#f88a89" stroke="#222" stroke-width="1" />
<text x="418.8" y="995.8" font-size="14.5" fill="#111" >1st Exon (0.52%)</text>
<rect x="395" y="1003" width="9.6" height="9.6" fill="#f06c46" stroke="#222" stroke-width="1" />
<text x="418.8" y="1013" font-size="14.5" fill="#111" >Other Exon (2.36%)</text>
<rect x="395" y="1020.2" width="9.6" height="9.6" fill="#ff870e" stroke="#222" stroke-width="1" />
<text x="418.8" y="1030.2" font-size="14.5" fill="#111" >1st Intron (9.45%)</text>
<rect x="395" y="1037.4" width="9.6" height="9.6" fill="#b295c7" stroke="#222" stroke-width="1" />
<text x="418.8" y="1047.4" font-size="14.5" fill="#111" >Other Intron (18.37%)</text>
<rect x="395" y="1054.6" width="9.6" height="9.6" fill="#c7b699" stroke="#222" stroke-width="1" />
<text x="418.8" y="1064.6" font-size="14.5" fill="#111" >Downstream (&lt;=300) (2.1%)</text>
<rect x="395" y="1071.8" width="9.6" height="9.6" fill="#b15928" stroke="#222" stroke-width="1" />
<text x="418.8" y="1081.8" font-size="14.5" fill="#111" >Distal Intergenic (30.18%)</text>
<rect x="1019" y="934.2" width="9.6" height="9.6" fill="#a6cee3" stroke="#222" stroke-width="1" />
<text x="1042.4" y="944.2" font-size="14.5" fill="#111" >Promoter (21.67%)</text>
<rect x="1019" y="951.4" width="9.6" height="9.6" fill="#569fa4" stroke="#222" stroke-width="1" />
<text x="1042.4" y="961.4" font-size="14.5" fill="#111" >5' UTR (0.6%)</text>
<rect x="1019" y="968.6" width="9.6" height="9.6" fill="#53b044" stroke="#222" stroke-width="1" />
<text x="1042.4" y="978.6" font-size="14.5" fill="#111" >3' UTR (2.39%)</text>
<rect x="1019" y="985.8" width="9.6" height="9.6" fill="#f88a89" stroke="#222" stroke-width="1" />
<text x="1042.4" y="995.8" font-size="14.5" fill="#111" >1st Exon (0.8%)</text>
<rect x="1019" y="1003" width="9.6" height="9.6" fill="#f06c46" stroke="#222" stroke-width="1" />
<text x="1042.4" y="1013" font-size="14.5" fill="#111" >Other Exon (3.38%)</text>
<rect x="1019" y="1020.2" width="9.6" height="9.6" fill="#ff870e" stroke="#222" stroke-width="1" />
<text x="1042.4" y="1030.2" font-size="14.5" fill="#111" >1st Intron (11.13%)</text>
<rect x="1019" y="1037.4" width="9.6" height="9.6" fill="#b295c7" stroke="#222" stroke-width="1" />
<text x="1042.4" y="1047.4" font-size="14.5" fill="#111" >Other Intron (21.47%)</text>
<rect x="1019" y="1054.6" width="9.6" height="9.6" fill="#c7b699" stroke="#222" stroke-width="1" />
<text x="1042.4" y="1064.6" font-size="14.5" fill="#111" >Downstream (&lt;=300) (0.6%)</text>
<rect x="1019" y="1071.8" width="9.6" height="9.6" fill="#b15928" stroke="#222" stroke-width="1" />
<text x="1042.4" y="1081.8" font-size="14.5" fill="#111" >Distal Intergenic (37.97%)</text>
<text x="9" y="1212" font-size="29" font-weight="bold" fill="#000" >f</text>
<text x="176.7" y="1203" font-size="17.3" text-anchor="middle" fill="#111" >RNA-seq heatmap</text>
<text x="88.2" y="1225" font-size="14.5" text-anchor="middle" fill="#111" >Control</text>
<text x="175.3" y="1225" font-size="14.5" text-anchor="middle" fill="#111" >shRNA1</text>
<text x="258.8" y="1225" font-size="14.5" text-anchor="middle" fill="#111" >shRNA2</text>
<g shape-rendering="crispEdges">
<rect x="43.1" y="1229.3" width="87.2" height="300.2" fill="#ff0000" />
<rect x="43.1" y="1529.5" width="87.2" height="124.3" fill="#0000ff" />
<rect x="130.3" y="1229.3" width="88.2" height="38.1" fill="#0000ff" />
<rect x="130.3" y="1267.4" width="88.2" height="13.9" fill="#3333ff" />
<rect x="130.3" y="1281.3" width="88.2" height="29.2" fill="#1a1aff" />
<rect x="130.3" y="1310.5" width="88.2" height="34.8" fill="#0000ff" />
<rect x="130.3" y="1345.3" width="88.2" height="16.7" fill="#6666ff" />
<rect x="130.3" y="1362" width="88.2" height="18.1" fill="#4c4cff" />
<rect x="130.3" y="1380.1" width="88.2" height="3.6" fill="#9999ff" />
<rect x="130.3" y="1383.7" width="88.2" height="145.8" fill="#0000ff" />
<rect x="130.3" y="1529.5" width="88.2" height="77.3" fill="#ff0000" />
<rect x="130.3" y="1606.8" width="88.2" height="17.2" fill="#ff8787" />
<rect x="130.3" y="1624" width="88.2" height="5.5" fill="#ff7070" />
<rect x="130.3" y="1629.5" width="88.2" height="3" fill="#ff8f8f" />
<rect x="130.3" y="1632.5" width="88.2" height="8.2" fill="#ff6161" />
<rect x="130.3" y="1640.7" width="88.2" height="13.1" fill="#ff4040" />
<rect x="218.5" y="1229.3" width="87.7" height="12.7" fill="#0d0dff" />
<rect x="218.5" y="1242" width="87.7" height="68.5" fill="#0000ff" />
<rect x="218.5" y="1310.5" width="87.7" height="9.8" fill="#3d3dff" />
<rect x="218.5" y="1320.3" width="87.7" height="12.2" fill="#2b2bff" />
<rect x="218.5" y="1332.5" width="87.7" height="12.8" fill="#3333ff" />
<rect x="218.5" y="1345.3" width="87.7" height="38.4" fill="#0000ff" />
<rect x="218.5" y="1383.7" width="87.7" height="21.3" fill="#6b6bff" />
<rect x="218.5" y="1405" width="87.7" height="14" fill="#7878ff" />
<rect x="218.5" y="1419" width="87.7" height="12.5" fill="#4f4fff" />
<rect x="218.5" y="1431.5" width="87.7" height="12.5" fill="#8c8cff" />
<rect x="218.5" y="1444" width="87.7" height="8.4" fill="#e0e0ff" />
<rect x="218.5" y="1452.4" width="87.7" height="11.1" fill="#f0f0ff" />
<rect x="218.5" y="1463.5" width="87.7" height="11.1" fill="#fff5f5" />
<rect x="218.5" y="1474.6" width="87.7" height="8.4" fill="#ffcccc" />
<rect x="218.5" y="1483" width="87.7" height="11" fill="#b0b0ff" />
<rect x="218.5" y="1494" width="87.7" height="14" fill="#a6a6ff" />
<rect x="218.5" y="1508" width="87.7" height="22.3" fill="#d1d1ff" />
<rect x="218.5" y="1530.3" width="87.7" height="12.5" fill="#a8a8ff" />
<rect x="218.5" y="1542.8" width="87.7" height="4.2" fill="#d9d9ff" />
<rect x="218.5" y="1547" width="87.7" height="3.5" fill="#bfbfff" />
<rect x="218.5" y="1550.5" width="87.7" height="4.8" fill="#dedeff" />
<rect x="218.5" y="1555.3" width="87.7" height="14" fill="#ededff" />
<rect x="218.5" y="1569.3" width="87.7" height="8.3" fill="#ff8080" />
<rect x="218.5" y="1577.6" width="87.7" height="8.4" fill="#ff5454" />
<rect x="218.5" y="1586" width="87.7" height="8.3" fill="#ff4040" />
<rect x="218.5" y="1594.3" width="87.7" height="9.7" fill="#ff2121" />
<rect x="218.5" y="1604" width="87.7" height="49.8" fill="#ff0000" />
</g>
<line x1="306" y1="1250.7" x2="320" y2="1250.7" stroke="#111" stroke-width="2" />
<path d="M319 1243.5 L331.5 1250.7 L319 1257.9 Z" fill="#000"/>
<text x="335.4" y="1257.5" font-size="17.3" fill="#111" >RBMX</text>
<rect x="75.1" y="1663.5" width="184.6" height="10.6" fill="url(#fbar)" stroke="#333" stroke-width="0.8" />
<text x="75.1" y="1683.6" font-size="10" text-anchor="middle" fill="#111" >row min</text>
<text x="259.7" y="1683.6" font-size="10" text-anchor="middle" fill="#111" >row max</text>
<text x="430" y="1217" font-size="29" font-weight="bold" fill="#000" >g</text>
<g stroke="#1a1a1a" stroke-width="1.8" fill="none">
<rect x="463.3" y="1206.4" width="319.8" height="149.9"/>
<line x1="463.3" y1="1227.8" x2="783.1" y2="1227.8"/>
<line x1="463.3" y1="1249.2" x2="783.1" y2="1249.2"/>
<line x1="463.3" y1="1270.6" x2="783.1" y2="1270.6"/>
<line x1="463.3" y1="1292" x2="783.1" y2="1292"/>
<line x1="463.3" y1="1313.5" x2="783.1" y2="1313.5"/>
<line x1="463.3" y1="1334.9" x2="783.1" y2="1334.9"/>
<line x1="549.7" y1="1227.8" x2="549.7" y2="1356.3"/>
<line x1="665" y1="1227.8" x2="665" y2="1356.3"/>
</g>
<text x="623.2" y="1223.4" font-size="16.3" text-anchor="middle" fill="#111" >Alternative splicing events</text>
<text x="607.4" y="1244.8" font-size="16.3" text-anchor="middle" fill="#111" >Control</text>
<text x="724" y="1244.8" font-size="16.3" text-anchor="middle" fill="#111" >RBMX/L1 K/D</text>
<text x="466.7" y="1266.2" font-size="16.3" fill="#111" >3'ss</text>
<text x="607.4" y="1266.2" font-size="16.3" text-anchor="middle" fill="#111" >14</text>
<text x="724" y="1266.2" font-size="16.3" text-anchor="middle" fill="#111" >15</text>
<text x="466.7" y="1287.6" font-size="16.3" fill="#111" >5'ss</text>
<text x="607.4" y="1287.6" font-size="16.3" text-anchor="middle" fill="#111" >14</text>
<text x="724" y="1287.6" font-size="16.3" text-anchor="middle" fill="#111" >10</text>
<text x="466.7" y="1309" font-size="16.3" fill="#111" >MXE</text>
<text x="607.4" y="1309" font-size="16.3" text-anchor="middle" fill="#111" >28</text>
<text x="724" y="1309" font-size="16.3" text-anchor="middle" fill="#111" >40</text>
<text x="466.7" y="1330.5" font-size="16.3" fill="#111" >RI</text>
<text x="607.4" y="1330.5" font-size="16.3" text-anchor="middle" fill="#111" >19</text>
<text x="724" y="1330.5" font-size="16.3" text-anchor="middle" fill="#111" >26</text>
<text x="466.7" y="1351.9" font-size="16.3" fill="#111" >SE</text>
<text x="607.4" y="1351.9" font-size="16.3" text-anchor="middle" fill="#111" >235</text>
<text x="724" y="1351.9" font-size="16.3" text-anchor="middle" fill="#111" >101</text>
<text x="644.9" y="1380.5" font-size="17" text-anchor="middle" fill="#111" >FDR &lt; 0.05; (dPSI) &gt; 0.1</text>
<g stroke="#1a1a1a" stroke-width="1.8" fill="none">
<rect x="802.2" y="1206.4" width="319.3" height="149.9"/>
<line x1="802.2" y1="1227.8" x2="1121.5" y2="1227.8"/>
<line x1="802.2" y1="1249.2" x2="1121.5" y2="1249.2"/>
<line x1="802.2" y1="1270.6" x2="1121.5" y2="1270.6"/>
<line x1="802.2" y1="1292" x2="1121.5" y2="1292"/>
<line x1="802.2" y1="1313.5" x2="1121.5" y2="1313.5"/>
<line x1="802.2" y1="1334.9" x2="1121.5" y2="1334.9"/>
<line x1="888.8" y1="1227.8" x2="888.8" y2="1356.3"/>
<line x1="1003.6" y1="1227.8" x2="1003.6" y2="1356.3"/>
</g>
<text x="961.9" y="1223.4" font-size="16.3" text-anchor="middle" fill="#111" >Alternative spliced genes</text>
<text x="946.2" y="1244.8" font-size="16.3" text-anchor="middle" fill="#111" >Control</text>
<text x="1062.5" y="1244.8" font-size="16.3" text-anchor="middle" fill="#111" >RBMX/L1 K/D</text>
<text x="805.6" y="1266.2" font-size="16.3" fill="#111" >3'ss</text>
<text x="946.2" y="1266.2" font-size="16.3" text-anchor="middle" fill="#111" >14</text>
<text x="1062.5" y="1266.2" font-size="16.3" text-anchor="middle" fill="#111" >13</text>
<text x="805.6" y="1287.6" font-size="16.3" fill="#111" >5'ss</text>
<text x="946.2" y="1287.6" font-size="16.3" text-anchor="middle" fill="#111" >14</text>
<text x="1062.5" y="1287.6" font-size="16.3" text-anchor="middle" fill="#111" >10</text>
<text x="805.6" y="1309" font-size="16.3" fill="#111" >MXE</text>
<text x="946.2" y="1309" font-size="16.3" text-anchor="middle" fill="#111" >22</text>
<text x="1062.5" y="1309" font-size="16.3" text-anchor="middle" fill="#111" >28</text>
<text x="805.6" y="1330.5" font-size="16.3" fill="#111" >RI</text>
<text x="946.2" y="1330.5" font-size="16.3" text-anchor="middle" fill="#111" >19</text>
<text x="1062.5" y="1330.5" font-size="16.3" text-anchor="middle" fill="#111" >23</text>
<text x="805.6" y="1351.9" font-size="16.3" fill="#111" >SE</text>
<text x="946.2" y="1351.9" font-size="16.3" text-anchor="middle" fill="#111" >191</text>
<text x="1062.5" y="1351.9" font-size="16.3" text-anchor="middle" fill="#111" >94</text>
<text x="961.3" y="1380.5" font-size="17" text-anchor="middle" fill="#111" >FDR &lt; 0.05; (dPSI) &gt; 0.1</text>
<text x="351" y="1441" font-size="29" font-weight="bold" fill="#000" >h</text>
<text x="810.4" y="1452" font-size="17.6" text-anchor="middle" fill="#111" >RNA-seq read counts</text>
<line x1="408.6" y1="1465" x2="408.6" y2="1653.4" stroke="#111" stroke-width="1.6" />
<line x1="407.8" y1="1652.7" x2="1169.5" y2="1652.7" stroke="#111" stroke-width="1.6" />
<line x1="403.5" y1="1652.7" x2="408.6" y2="1652.7" stroke="#111" stroke-width="1.5" />
<text x="401" y="1657.4" font-size="13.3" text-anchor="end" fill="#111" >0</text>
<line x1="403.5" y1="1590.3" x2="408.6" y2="1590.3" stroke="#111" stroke-width="1.5" />
<text x="401" y="1595" font-size="13.3" text-anchor="end" fill="#111" >1</text>
<line x1="403.5" y1="1527.9" x2="408.6" y2="1527.9" stroke="#111" stroke-width="1.5" />
<text x="401" y="1532.6" font-size="13.3" text-anchor="end" fill="#111" >2</text>
<line x1="403.5" y1="1465.5" x2="408.6" y2="1465.5" stroke="#111" stroke-width="1.5" />
<text x="401" y="1470.2" font-size="13.3" text-anchor="end" fill="#111" >3</text>
<text transform="translate(363.5 1559) rotate(-90)" font-size="15" text-anchor="middle" fill="#111">RNA-seq read counts</text>
<text transform="translate(382.3 1559) rotate(-90)" font-size="15" text-anchor="middle" fill="#111">normalized to control</text>
<circle cx="420.2" cy="1473.8" r="3.6" fill="#000"/>
<circle cx="420.2" cy="1489.8" r="3.6" fill="#e8341c"/>
<circle cx="420.2" cy="1505.8" r="3.6" fill="#f08c8c"/>
<text x="441.5" y="1479" font-size="14.8" fill="#111" >Control</text>
<text x="441.5" y="1495" font-size="14.8" fill="#111" >shRNA1</text>
<text x="441.5" y="1511" font-size="14.8" fill="#111" >shRNA2</text>
<line x1="437.7" y1="1652.7" x2="437.7" y2="1656" stroke="#111" stroke-width="1.3" />
<text x="437.7" y="1673.3" font-size="13.7" text-anchor="middle" fill="#111" >CBS</text>
<rect x="415.4" y="1590.3" width="10" height="62.4" fill="#fff" stroke="#111" stroke-width="1.3" />
<rect x="414.5" y="1587.3" width="11.8" height="6.4" rx="3.2" fill="#000"/>
<rect x="432.7" y="1623.4" width="10" height="29.3" fill="#fff" stroke="#f06a58" stroke-width="1.1" />
<line x1="437.7" y1="1636.5" x2="437.7" y2="1610.3" stroke="#f06a58" stroke-width="1.1" />
<line x1="434.2" y1="1610.3" x2="441.2" y2="1610.3" stroke="#f06a58" stroke-width="1.1" />
<line x1="434.2" y1="1636.5" x2="441.2" y2="1636.5" stroke="#f06a58" stroke-width="1.1" />
<circle cx="437.7" cy="1604.7" r="3.6" fill="#ec2a12"/>
<circle cx="439.2" cy="1624.6" r="3.6" fill="#ec2a12"/>
<circle cx="436.2" cy="1629.6" r="3.6" fill="#ec2a12"/>
<circle cx="438.5" cy="1634.6" r="3.6" fill="#ec2a12"/>
<rect x="450" y="1615.3" width="10" height="37.4" fill="#fff" stroke="#f6b4b4" stroke-width="1.1" />
<line x1="455" y1="1635.9" x2="455" y2="1594.7" stroke="#f6b4b4" stroke-width="1.1" />
<line x1="451.5" y1="1594.7" x2="458.5" y2="1594.7" stroke="#f6b4b4" stroke-width="1.1" />
<line x1="451.5" y1="1635.9" x2="458.5" y2="1635.9" stroke="#f6b4b4" stroke-width="1.1" />
<circle cx="455" cy="1594.7" r="3.6" fill="#f29494"/>
<circle cx="456.5" cy="1599.7" r="3.6" fill="#f29494"/>
<circle cx="453.5" cy="1629.6" r="3.6" fill="#f29494"/>
<circle cx="455.8" cy="1635.9" r="3.6" fill="#f29494"/>
<line x1="501.6" y1="1652.7" x2="501.6" y2="1656" stroke="#111" stroke-width="1.3" />
<text x="501.6" y="1673.3" font-size="13.7" text-anchor="middle" fill="#111" >CBX5</text>
<rect x="479.3" y="1590.3" width="10" height="62.4" fill="#fff" stroke="#111" stroke-width="1.3" />
<rect x="478.4" y="1587.3" width="11.8" height="6.4" rx="3.2" fill="#000"/>
<rect x="496.6" y="1627.7" width="10" height="25" fill="#fff" stroke="#f06a58" stroke-width="1.1" />
<line x1="501.6" y1="1637.1" x2="501.6" y2="1618.4" stroke="#f06a58" stroke-width="1.1" />
<line x1="498.1" y1="1618.4" x2="505.1" y2="1618.4" stroke="#f06a58" stroke-width="1.1" />
<line x1="498.1" y1="1637.1" x2="505.1" y2="1637.1" stroke="#f06a58" stroke-width="1.1" />
<circle cx="501.6" cy="1614" r="3.6" fill="#ec2a12"/>
<circle cx="503.1" cy="1629" r="3.6" fill="#ec2a12"/>
<circle cx="500.1" cy="1630.9" r="3.6" fill="#ec2a12"/>
<circle cx="502.4" cy="1632.7" r="3.6" fill="#ec2a12"/>
<rect x="513.9" y="1621.5" width="10" height="31.2" fill="#fff" stroke="#f6b4b4" stroke-width="1.1" />
<line x1="518.9" y1="1632.7" x2="518.9" y2="1610.3" stroke="#f6b4b4" stroke-width="1.1" />
<line x1="515.4" y1="1610.3" x2="522.4" y2="1610.3" stroke="#f6b4b4" stroke-width="1.1" />
<line x1="515.4" y1="1632.7" x2="522.4" y2="1632.7" stroke="#f6b4b4" stroke-width="1.1" />
<circle cx="518.9" cy="1607.1" r="3.6" fill="#f29494"/>
<circle cx="520.4" cy="1615.9" r="3.6" fill="#f29494"/>
<circle cx="517.4" cy="1630.2" r="3.6" fill="#f29494"/>
<circle cx="519.7" cy="1632.1" r="3.6" fill="#f29494"/>
<line x1="565.5" y1="1652.7" x2="565.5" y2="1656" stroke="#111" stroke-width="1.3" />
<text x="565.5" y="1673.3" font-size="13.7" text-anchor="middle" fill="#111" >DACH1</text>
<rect x="543.2" y="1590.3" width="10" height="62.4" fill="#fff" stroke="#111" stroke-width="1.3" />
<rect x="542.3" y="1587.3" width="11.8" height="6.4" rx="3.2" fill="#000"/>
<rect x="560.5" y="1619.6" width="10" height="33.1" fill="#fff" stroke="#f06a58" stroke-width="1.1" />
<line x1="565.5" y1="1627.1" x2="565.5" y2="1612.1" stroke="#f06a58" stroke-width="1.1" />
<line x1="562" y1="1612.1" x2="569" y2="1612.1" stroke="#f06a58" stroke-width="1.1" />
<line x1="562" y1="1627.1" x2="569" y2="1627.1" stroke="#f06a58" stroke-width="1.1" />
<circle cx="565.5" cy="1610.9" r="3.6" fill="#ec2a12"/>
<circle cx="567" cy="1617.8" r="3.6" fill="#ec2a12"/>
<circle cx="564" cy="1619.6" r="3.6" fill="#ec2a12"/>
<circle cx="566.3" cy="1632.7" r="3.6" fill="#ec2a12"/>
<rect x="577.8" y="1625.9" width="10" height="26.8" fill="#fff" stroke="#f6b4b4" stroke-width="1.1" />
<line x1="582.8" y1="1639.6" x2="582.8" y2="1612.1" stroke="#f6b4b4" stroke-width="1.1" />
<line x1="579.3" y1="1612.1" x2="586.3" y2="1612.1" stroke="#f6b4b4" stroke-width="1.1" />
<line x1="579.3" y1="1639.6" x2="586.3" y2="1639.6" stroke="#f6b4b4" stroke-width="1.1" />
<circle cx="582.8" cy="1609.6" r="3.6" fill="#f29494"/>
<circle cx="584.3" cy="1619.6" r="3.6" fill="#f29494"/>
<circle cx="581.3" cy="1630.9" r="3.6" fill="#f29494"/>
<circle cx="583.6" cy="1641.5" r="3.6" fill="#f29494"/>
<line x1="629.4" y1="1652.7" x2="629.4" y2="1656" stroke="#111" stroke-width="1.3" />
<text x="629.4" y="1673.3" font-size="13.7" text-anchor="middle" fill="#111" >KLHL23</text>
<rect x="607.1" y="1590.3" width="10" height="62.4" fill="#fff" stroke="#111" stroke-width="1.3" />
<rect x="606.2" y="1587.3" width="11.8" height="6.4" rx="3.2" fill="#000"/>
<rect x="624.4" y="1629.6" width="10" height="23.1" fill="#fff" stroke="#f06a58" stroke-width="1.1" />
<line x1="629.4" y1="1637.7" x2="629.4" y2="1621.5" stroke="#f06a58" stroke-width="1.1" />
<line x1="625.9" y1="1621.5" x2="632.9" y2="1621.5" stroke="#f06a58" stroke-width="1.1" />
<line x1="625.9" y1="1637.7" x2="632.9" y2="1637.7" stroke="#f06a58" stroke-width="1.1" />
<circle cx="629.4" cy="1615.9" r="3.6" fill="#ec2a12"/>
<circle cx="630.9" cy="1630.2" r="3.6" fill="#ec2a12"/>
<circle cx="627.9" cy="1632.1" r="3.6" fill="#ec2a12"/>
<circle cx="630.2" cy="1636.5" r="3.6" fill="#ec2a12"/>
<rect x="641.7" y="1625.2" width="10" height="27.5" fill="#fff" stroke="#f6b4b4" stroke-width="1.1" />
<line x1="646.7" y1="1639" x2="646.7" y2="1611.5" stroke="#f6b4b4" stroke-width="1.1" />
<line x1="643.2" y1="1611.5" x2="650.2" y2="1611.5" stroke="#f6b4b4" stroke-width="1.1" />
<line x1="643.2" y1="1639" x2="650.2" y2="1639" stroke="#f6b4b4" stroke-width="1.1" />
<circle cx="646.7" cy="1610.9" r="3.6" fill="#f29494"/>
<circle cx="648.2" cy="1615.3" r="3.6" fill="#f29494"/>
<circle cx="645.2" cy="1634" r="3.6" fill="#f29494"/>
<circle cx="647.5" cy="1639" r="3.6" fill="#f29494"/>
<line x1="693.3" y1="1652.7" x2="693.3" y2="1656" stroke="#111" stroke-width="1.3" />
<text x="693.3" y="1673.3" font-size="13.7" text-anchor="middle" fill="#111" >PABPC4</text>
<rect x="671" y="1590.3" width="10" height="62.4" fill="#fff" stroke="#111" stroke-width="1.3" />
<rect x="670.1" y="1587.3" width="11.8" height="6.4" rx="3.2" fill="#000"/>
<rect x="688.3" y="1625.2" width="10" height="27.5" fill="#fff" stroke="#f06a58" stroke-width="1.1" />
<line x1="693.3" y1="1636.5" x2="693.3" y2="1614" stroke="#f06a58" stroke-width="1.1" />
<line x1="689.8" y1="1614" x2="696.8" y2="1614" stroke="#f06a58" stroke-width="1.1" />
<line x1="689.8" y1="1636.5" x2="696.8" y2="1636.5" stroke="#f06a58" stroke-width="1.1" />
<circle cx="693.3" cy="1608.4" r="3.6" fill="#ec2a12"/>
<circle cx="694.8" cy="1623.4" r="3.6" fill="#ec2a12"/>
<circle cx="691.8" cy="1632.1" r="3.6" fill="#ec2a12"/>
<circle cx="694.1" cy="1635.9" r="3.6" fill="#ec2a12"/>
<rect x="705.6" y="1613.4" width="10" height="39.3" fill="#fff" stroke="#f6b4b4" stroke-width="1.1" />
<line x1="710.6" y1="1627.1" x2="710.6" y2="1599.7" stroke="#f6b4b4" stroke-width="1.1" />
<line x1="707.1" y1="1599.7" x2="714.1" y2="1599.7" stroke="#f6b4b4" stroke-width="1.1" />
<line x1="707.1" y1="1627.1" x2="714.1" y2="1627.1" stroke="#f6b4b4" stroke-width="1.1" />
<circle cx="710.6" cy="1597.8" r="3.6" fill="#f29494"/>
<circle cx="712.1" cy="1599" r="3.6" fill="#f29494"/>
<circle cx="709.1" cy="1623.4" r="3.6" fill="#f29494"/>
<circle cx="711.4" cy="1632.7" r="3.6" fill="#f29494"/>
<line x1="757.2" y1="1652.7" x2="757.2" y2="1656" stroke="#111" stroke-width="1.3" />
<text x="757.2" y="1673.3" font-size="13.7" text-anchor="middle" fill="#111" >RBMX</text>
<rect x="734.9" y="1590.3" width="10" height="62.4" fill="#fff" stroke="#111" stroke-width="1.3" />
<rect x="734" y="1587.3" width="11.8" height="6.4" rx="3.2" fill="#000"/>
<rect x="752.2" y="1635.9" width="10" height="16.8" fill="#fff" stroke="#f06a58" stroke-width="1.1" />
<line x1="757.2" y1="1639" x2="757.2" y2="1632.7" stroke="#f06a58" stroke-width="1.1" />
<line x1="753.7" y1="1632.7" x2="760.7" y2="1632.7" stroke="#f06a58" stroke-width="1.1" />
<line x1="753.7" y1="1639" x2="760.7" y2="1639" stroke="#f06a58" stroke-width="1.1" />
<circle cx="757.2" cy="1632.1" r="3.6" fill="#ec2a12"/>
<circle cx="758.7" cy="1635.2" r="3.6" fill="#ec2a12"/>
<circle cx="755.7" cy="1637.1" r="3.6" fill="#ec2a12"/>
<circle cx="758" cy="1638.3" r="3.6" fill="#ec2a12"/>
<rect x="769.5" y="1635.9" width="10" height="16.8" fill="#fff" stroke="#f6b4b4" stroke-width="1.1" />
<line x1="774.5" y1="1640.2" x2="774.5" y2="1631.5" stroke="#f6b4b4" stroke-width="1.1" />
<line x1="771" y1="1631.5" x2="778" y2="1631.5" stroke="#f6b4b4" stroke-width="1.1" />
<line x1="771" y1="1640.2" x2="778" y2="1640.2" stroke="#f6b4b4" stroke-width="1.1" />
<circle cx="774.5" cy="1630.2" r="3.6" fill="#f29494"/>
<circle cx="776" cy="1634" r="3.6" fill="#f29494"/>
<circle cx="773" cy="1636.5" r="3.6" fill="#f29494"/>
<circle cx="775.3" cy="1639" r="3.6" fill="#f29494"/>
<line x1="821.1" y1="1652.7" x2="821.1" y2="1656" stroke="#111" stroke-width="1.3" />
<text x="821.1" y="1673.3" font-size="13.7" text-anchor="middle" fill="#111" >SEPT11</text>
<rect x="798.8" y="1590.3" width="10" height="62.4" fill="#fff" stroke="#111" stroke-width="1.3" />
<rect x="797.9" y="1587.3" width="11.8" height="6.4" rx="3.2" fill="#000"/>
<rect x="816.1" y="1635.2" width="10" height="17.5" fill="#fff" stroke="#f06a58" stroke-width="1.1" />
<line x1="821.1" y1="1637.7" x2="821.1" y2="1632.7" stroke="#f06a58" stroke-width="1.1" />
<line x1="817.6" y1="1632.7" x2="824.6" y2="1632.7" stroke="#f06a58" stroke-width="1.1" />
<line x1="817.6" y1="1637.7" x2="824.6" y2="1637.7" stroke="#f06a58" stroke-width="1.1" />
<circle cx="821.1" cy="1632.1" r="3.6" fill="#ec2a12"/>
<circle cx="822.6" cy="1634.6" r="3.6" fill="#ec2a12"/>
<circle cx="819.6" cy="1635.2" r="3.6" fill="#ec2a12"/>
<circle cx="821.9" cy="1636.5" r="3.6" fill="#ec2a12"/>
<rect x="833.4" y="1635.9" width="10" height="16.8" fill="#fff" stroke="#f6b4b4" stroke-width="1.1" />
<line x1="838.4" y1="1639.6" x2="838.4" y2="1632.1" stroke="#f6b4b4" stroke-width="1.1" />
<line x1="834.9" y1="1632.1" x2="841.9" y2="1632.1" stroke="#f6b4b4" stroke-width="1.1" />
<line x1="834.9" y1="1639.6" x2="841.9" y2="1639.6" stroke="#f6b4b4" stroke-width="1.1" />
<circle cx="838.4" cy="1630.9" r="3.6" fill="#f29494"/>
<circle cx="839.9" cy="1634" r="3.6" fill="#f29494"/>
<circle cx="836.9" cy="1637.1" r="3.6" fill="#f29494"/>
<circle cx="839.2" cy="1639" r="3.6" fill="#f29494"/>
<line x1="885" y1="1652.7" x2="885" y2="1656" stroke="#111" stroke-width="1.3" />
<text x="885" y="1673.3" font-size="13.7" text-anchor="middle" fill="#111" >SLC38A1</text>
<rect x="862.7" y="1590.3" width="10" height="62.4" fill="#fff" stroke="#111" stroke-width="1.3" />
<rect x="861.8" y="1587.3" width="11.8" height="6.4" rx="3.2" fill="#000"/>
<rect x="880" y="1627.7" width="10" height="25" fill="#fff" stroke="#f06a58" stroke-width="1.1" />
<line x1="885" y1="1639" x2="885" y2="1616.5" stroke="#f06a58" stroke-width="1.1" />
<line x1="881.5" y1="1616.5" x2="888.5" y2="1616.5" stroke="#f06a58" stroke-width="1.1" />
<line x1="881.5" y1="1639" x2="888.5" y2="1639" stroke="#f06a58" stroke-width="1.1" />
<circle cx="885" cy="1612.8" r="3.6" fill="#ec2a12"/>
<circle cx="886.5" cy="1625.9" r="3.6" fill="#ec2a12"/>
<circle cx="883.5" cy="1634" r="3.6" fill="#ec2a12"/>
<circle cx="885.8" cy="1635.2" r="3.6" fill="#ec2a12"/>
<rect x="897.3" y="1621.5" width="10" height="31.2" fill="#fff" stroke="#f6b4b4" stroke-width="1.1" />
<line x1="902.3" y1="1640.2" x2="902.3" y2="1602.8" stroke="#f6b4b4" stroke-width="1.1" />
<line x1="898.8" y1="1602.8" x2="905.8" y2="1602.8" stroke="#f6b4b4" stroke-width="1.1" />
<line x1="898.8" y1="1640.2" x2="905.8" y2="1640.2" stroke="#f6b4b4" stroke-width="1.1" />
<circle cx="902.3" cy="1601.5" r="3.6" fill="#f29494"/>
<circle cx="903.8" cy="1610.9" r="3.6" fill="#f29494"/>
<circle cx="900.8" cy="1635.9" r="3.6" fill="#f29494"/>
<circle cx="903.1" cy="1635.9" r="3.6" fill="#f29494"/>
<line x1="948.9" y1="1652.7" x2="948.9" y2="1656" stroke="#111" stroke-width="1.3" />
<text x="948.9" y="1673.3" font-size="13.7" text-anchor="middle" fill="#111" >UNG</text>
<rect x="926.6" y="1590.3" width="10" height="62.4" fill="#fff" stroke="#111" stroke-width="1.3" />
<rect x="925.7" y="1587.3" width="11.8" height="6.4" rx="3.2" fill="#000"/>
<rect x="943.9" y="1640.8" width="10" height="11.9" fill="#fff" stroke="#f06a58" stroke-width="1.1" />
<line x1="948.9" y1="1644" x2="948.9" y2="1637.7" stroke="#f06a58" stroke-width="1.1" />
<line x1="945.4" y1="1637.7" x2="952.4" y2="1637.7" stroke="#f06a58" stroke-width="1.1" />
<line x1="945.4" y1="1644" x2="952.4" y2="1644" stroke="#f06a58" stroke-width="1.1" />
<circle cx="948.9" cy="1637.1" r="3.6" fill="#ec2a12"/>
<circle cx="950.4" cy="1640.2" r="3.6" fill="#ec2a12"/>
<circle cx="947.4" cy="1642.1" r="3.6" fill="#ec2a12"/>
<circle cx="949.7" cy="1645.2" r="3.6" fill="#ec2a12"/>
<rect x="961.2" y="1618.4" width="10" height="34.3" fill="#fff" stroke="#f6b4b4" stroke-width="1.1" />
<line x1="966.2" y1="1630.9" x2="966.2" y2="1605.9" stroke="#f6b4b4" stroke-width="1.1" />
<line x1="962.7" y1="1605.9" x2="969.7" y2="1605.9" stroke="#f6b4b4" stroke-width="1.1" />
<line x1="962.7" y1="1630.9" x2="969.7" y2="1630.9" stroke="#f6b4b4" stroke-width="1.1" />
<circle cx="966.2" cy="1604.7" r="3.6" fill="#f29494"/>
<circle cx="967.7" cy="1607.1" r="3.6" fill="#f29494"/>
<circle cx="964.7" cy="1626.5" r="3.6" fill="#f29494"/>
<circle cx="967" cy="1630.9" r="3.6" fill="#f29494"/>
<line x1="1012.8" y1="1652.7" x2="1012.8" y2="1656" stroke="#111" stroke-width="1.3" />
<text x="1012.8" y="1673.3" font-size="13.7" text-anchor="middle" fill="#111" >XBP1</text>
<rect x="990.5" y="1590.3" width="10" height="62.4" fill="#fff" stroke="#111" stroke-width="1.3" />
<rect x="989.6" y="1587.3" width="11.8" height="6.4" rx="3.2" fill="#000"/>
<rect x="1007.8" y="1626.5" width="10" height="26.2" fill="#fff" stroke="#f06a58" stroke-width="1.1" />
<line x1="1012.8" y1="1632.7" x2="1012.8" y2="1620.3" stroke="#f06a58" stroke-width="1.1" />
<line x1="1009.3" y1="1620.3" x2="1016.3" y2="1620.3" stroke="#f06a58" stroke-width="1.1" />
<line x1="1009.3" y1="1632.7" x2="1016.3" y2="1632.7" stroke="#f06a58" stroke-width="1.1" />
<circle cx="1012.8" cy="1618.4" r="3.6" fill="#ec2a12"/>
<circle cx="1014.3" cy="1621.5" r="3.6" fill="#ec2a12"/>
<circle cx="1011.3" cy="1624" r="3.6" fill="#ec2a12"/>
<circle cx="1013.6" cy="1637.7" r="3.6" fill="#ec2a12"/>
<rect x="1025.1" y="1615.9" width="10" height="36.8" fill="#fff" stroke="#f6b4b4" stroke-width="1.1" />
<line x1="1030.1" y1="1632.1" x2="1030.1" y2="1599.7" stroke="#f6b4b4" stroke-width="1.1" />
<line x1="1026.6" y1="1599.7" x2="1033.6" y2="1599.7" stroke="#f6b4b4" stroke-width="1.1" />
<line x1="1026.6" y1="1632.1" x2="1033.6" y2="1632.1" stroke="#f6b4b4" stroke-width="1.1" />
<circle cx="1030.1" cy="1594.7" r="3.6" fill="#f29494"/>
<circle cx="1031.6" cy="1603.4" r="3.6" fill="#f29494"/>
<circle cx="1028.6" cy="1627.7" r="3.6" fill="#f29494"/>
<circle cx="1030.9" cy="1636.5" r="3.6" fill="#f29494"/>
<line x1="1076.7" y1="1652.7" x2="1076.7" y2="1656" stroke="#111" stroke-width="1.3" />
<text x="1076.7" y="1673.3" font-size="13.7" text-anchor="middle" fill="#111" >ARPC3</text>
<rect x="1054.4" y="1590.3" width="10" height="62.4" fill="#fff" stroke="#111" stroke-width="1.3" />
<rect x="1053.5" y="1587.3" width="11.8" height="6.4" rx="3.2" fill="#000"/>
<rect x="1071.7" y="1521.7" width="10" height="131" fill="#fff" stroke="#f06a58" stroke-width="1.1" />
<line x1="1076.7" y1="1543.5" x2="1076.7" y2="1499.8" stroke="#f06a58" stroke-width="1.1" />
<line x1="1073.2" y1="1499.8" x2="1080.2" y2="1499.8" stroke="#f06a58" stroke-width="1.1" />
<line x1="1073.2" y1="1543.5" x2="1080.2" y2="1543.5" stroke="#f06a58" stroke-width="1.1" />
<circle cx="1076.7" cy="1497.9" r="3.6" fill="#ec2a12"/>
<circle cx="1078.2" cy="1513.5" r="3.6" fill="#ec2a12"/>
<circle cx="1075.2" cy="1526.7" r="3.6" fill="#ec2a12"/>
<circle cx="1077.5" cy="1547.2" r="3.6" fill="#ec2a12"/>
<rect x="1089" y="1502.9" width="10" height="149.8" fill="#fff" stroke="#f6b4b4" stroke-width="1.1" />
<line x1="1094" y1="1518.5" x2="1094" y2="1487.3" stroke="#f6b4b4" stroke-width="1.1" />
<line x1="1090.5" y1="1487.3" x2="1097.5" y2="1487.3" stroke="#f6b4b4" stroke-width="1.1" />
<line x1="1090.5" y1="1518.5" x2="1097.5" y2="1518.5" stroke="#f6b4b4" stroke-width="1.1" />
<circle cx="1094" cy="1481.7" r="3.6" fill="#f29494"/>
<circle cx="1095.5" cy="1486.1" r="3.6" fill="#f29494"/>
<circle cx="1092.5" cy="1515.4" r="3.6" fill="#f29494"/>
<circle cx="1094.8" cy="1529.1" r="3.6" fill="#f29494"/>
<line x1="1140.6" y1="1652.7" x2="1140.6" y2="1656" stroke="#111" stroke-width="1.3" />
<text x="1140.6" y="1673.3" font-size="13.7" text-anchor="middle" fill="#111" >UBE3C</text>
<rect x="1118.3" y="1590.3" width="10" height="62.4" fill="#fff" stroke="#111" stroke-width="1.3" />
<rect x="1117.4" y="1587.3" width="11.8" height="6.4" rx="3.2" fill="#000"/>
<rect x="1135.6" y="1534.8" width="10" height="117.9" fill="#fff" stroke="#f06a58" stroke-width="1.1" />
<line x1="1140.6" y1="1556.6" x2="1140.6" y2="1512.9" stroke="#f06a58" stroke-width="1.1" />
<line x1="1137.1" y1="1512.9" x2="1144.1" y2="1512.9" stroke="#f06a58" stroke-width="1.1" />
<line x1="1137.1" y1="1556.6" x2="1144.1" y2="1556.6" stroke="#f06a58" stroke-width="1.1" />
<circle cx="1140.6" cy="1503.6" r="3.6" fill="#ec2a12"/>
<circle cx="1142.1" cy="1536" r="3.6" fill="#ec2a12"/>
<circle cx="1139.1" cy="1537.9" r="3.6" fill="#ec2a12"/>
<circle cx="1141.4" cy="1553.5" r="3.6" fill="#ec2a12"/>
<rect x="1152.9" y="1534.8" width="10" height="117.9" fill="#fff" stroke="#f6b4b4" stroke-width="1.1" />
<line x1="1157.9" y1="1557.2" x2="1157.9" y2="1512.3" stroke="#f6b4b4" stroke-width="1.1" />
<line x1="1154.4" y1="1512.3" x2="1161.4" y2="1512.3" stroke="#f6b4b4" stroke-width="1.1" />
<line x1="1154.4" y1="1557.2" x2="1161.4" y2="1557.2" stroke="#f6b4b4" stroke-width="1.1" />
<circle cx="1157.9" cy="1506.7" r="3.6" fill="#f29494"/>
<circle cx="1159.4" cy="1529.8" r="3.6" fill="#f29494"/>
<circle cx="1156.4" cy="1541.6" r="3.6" fill="#f29494"/>
<circle cx="1158.7" cy="1558.5" r="3.6" fill="#f29494"/>
<g stroke="#111" stroke-width="2" fill="none">
<rect x="1199.5" y="1378.7" width="308.3" height="278.2"/>
<line x1="1199.5" y1="1400.1" x2="1507.8" y2="1400.1"/>
<line x1="1199.5" y1="1421.5" x2="1507.8" y2="1421.5"/>
<line x1="1199.5" y1="1442.9" x2="1507.8" y2="1442.9"/>
<line x1="1199.5" y1="1464.3" x2="1507.8" y2="1464.3"/>
<line x1="1199.5" y1="1485.7" x2="1507.8" y2="1485.7"/>
<line x1="1199.5" y1="1507.1" x2="1507.8" y2="1507.1"/>
<line x1="1199.5" y1="1528.5" x2="1507.8" y2="1528.5"/>
<line x1="1199.5" y1="1549.9" x2="1507.8" y2="1549.9"/>
<line x1="1199.5" y1="1571.3" x2="1507.8" y2="1571.3"/>
<line x1="1199.5" y1="1592.7" x2="1507.8" y2="1592.7"/>
<line x1="1199.5" y1="1614.1" x2="1507.8" y2="1614.1"/>
<line x1="1199.5" y1="1635.5" x2="1507.8" y2="1635.5"/>
<line x1="1285.8" y1="1378.7" x2="1285.8" y2="1656.9"/>
<line x1="1396.8" y1="1378.7" x2="1396.8" y2="1656.9"/>
</g>
<text x="1341.3" y="1394" font-size="13" text-anchor="middle" fill="#111"><tspan font-style="italic">p</tspan> (shRNA1)</text>
<text x="1452.3" y="1394" font-size="13" text-anchor="middle" fill="#111"><tspan font-style="italic">p</tspan> (shRNA2)</text>
<text x="1215" y="1415.4" font-size="13" fill="#111" >CBS</text>
<text x="1381.3" y="1415.4" font-size="13" text-anchor="end" fill="#111" >0.00219</text>
<text x="1492.3" y="1415.4" font-size="13" text-anchor="end" fill="#111" >0.05669</text>
<text x="1215" y="1436.8" font-size="13" fill="#111" >CBX5</text>
<text x="1381.3" y="1436.8" font-size="13" text-anchor="end" fill="#111" >0.00018</text>
<text x="1492.3" y="1436.8" font-size="13" text-anchor="end" fill="#111" >0.00227</text>
<text x="1215" y="1458.2" font-size="13" fill="#111" >DACH1</text>
<text x="1381.3" y="1458.2" font-size="13" text-anchor="end" fill="#111" >0.00063</text>
<text x="1492.3" y="1458.2" font-size="13" text-anchor="end" fill="#111" >0.00272</text>
<text x="1215" y="1479.6" font-size="13" fill="#111" >KLHL23</text>
<text x="1381.3" y="1479.6" font-size="13" text-anchor="end" fill="#111" >0.00017</text>
<text x="1492.3" y="1479.6" font-size="13" text-anchor="end" fill="#111" >0.00242</text>
<text x="1215" y="1501" font-size="13" fill="#111" >PABPC4</text>
<text x="1381.3" y="1501" font-size="13" text-anchor="end" fill="#111" >0.00143</text>
<text x="1492.3" y="1501" font-size="13" text-anchor="end" fill="#111" >0.04266</text>
<text x="1215" y="1522.4" font-size="13" fill="#111" >RBMX</text>
<text x="1381.3" y="1522.4" font-size="13" text-anchor="end" fill="#111" >6.93171e-008</text>
<text x="1492.3" y="1522.4" font-size="13" text-anchor="end" fill="#111" >6.17986e-007</text>
<text x="1215" y="1543.8" font-size="13" fill="#111" >SEPT11</text>
<text x="1381.3" y="1543.8" font-size="13" text-anchor="end" fill="#111" >1.16885e-008</text>
<text x="1492.3" y="1543.8" font-size="13" text-anchor="end" fill="#111" >5.49105e-007</text>
<text x="1215" y="1565.2" font-size="13" fill="#111" >SLC38A1</text>
<text x="1381.3" y="1565.2" font-size="13" text-anchor="end" fill="#111" >0.00051</text>
<text x="1492.3" y="1565.2" font-size="13" text-anchor="end" fill="#111" >0.01245</text>
<text x="1215" y="1586.6" font-size="13" fill="#111" >UNG</text>
<text x="1381.3" y="1586.6" font-size="13" text-anchor="end" fill="#111" >1.03974e-007</text>
<text x="1492.3" y="1586.6" font-size="13" text-anchor="end" fill="#111" >0.00438</text>
<text x="1215" y="1608" font-size="13" fill="#111" >XBP1</text>
<text x="1381.3" y="1608" font-size="13" text-anchor="end" fill="#111" >0.00009</text>
<text x="1492.3" y="1608" font-size="13" text-anchor="end" fill="#111" >0.03852</text>
<text x="1215" y="1629.4" font-size="13" fill="#111" >ARPC3</text>
<text x="1381.3" y="1629.4" font-size="13" text-anchor="end" fill="#111" >0.00063</text>
<text x="1492.3" y="1629.4" font-size="13" text-anchor="end" fill="#111" >0.00027</text>
<text x="1215" y="1650.8" font-size="13" fill="#111" >UBE3C</text>
<text x="1381.3" y="1650.8" font-size="13" text-anchor="end" fill="#111" >0.00213</text>
<text x="1492.3" y="1650.8" font-size="13" text-anchor="end" fill="#111" >0.00208</text>
<text x="12" y="1763" font-size="29" font-weight="bold" fill="#000" >i</text>
<text x="374.2" y="1792.2" font-size="20.8" text-anchor="middle" fill="#111" >RNA-IP - qPCR MOLM13</text>
<line x1="102.9" y1="1798.3" x2="102.9" y2="1847.2" stroke="#111" stroke-width="1.5" />
<line x1="92.3" y1="1798.9" x2="102.9" y2="1798.9" stroke="#111" stroke-width="1.5" />
<text x="88.6" y="1804.7" font-size="16.7" text-anchor="end" fill="#111" >250</text>
<line x1="92.3" y1="1814.9" x2="102.9" y2="1814.9" stroke="#111" stroke-width="1.5" />
<text x="88.6" y="1820.7" font-size="16.7" text-anchor="end" fill="#111" >200</text>
<line x1="92.3" y1="1830.9" x2="102.9" y2="1830.9" stroke="#111" stroke-width="1.5" />
<text x="88.6" y="1836.7" font-size="16.7" text-anchor="end" fill="#111" >150</text>
<line x1="97" y1="1847.2" x2="108.9" y2="1847.2" stroke="#111" stroke-width="1.5" />
<text x="88.6" y="1853" font-size="16.7" text-anchor="end" fill="#111" >100</text>
<line x1="102.9" y1="1866" x2="102.9" y2="2015" stroke="#111" stroke-width="1.5" />
<line x1="97" y1="1866" x2="108.9" y2="1866" stroke="#111" stroke-width="1.5" />
<text x="91" y="1871.8" font-size="16.7" text-anchor="end" fill="#111" >100</text>
<line x1="95.5" y1="1940.4" x2="102.9" y2="1940.4" stroke="#111" stroke-width="1.5" />
<text x="91" y="1946.2" font-size="16.7" text-anchor="end" fill="#111" >50</text>
<line x1="95.5" y1="2015" x2="102.9" y2="2015" stroke="#111" stroke-width="1.5" />
<text x="91" y="2020.8" font-size="16.7" text-anchor="end" fill="#111" >0</text>
<line x1="94.4" y1="2015" x2="644.6" y2="2015" stroke="#111" stroke-width="1.5" />
<text transform="translate(55 1915.5) rotate(-90)" font-size="17.5" text-anchor="middle" fill="#111">% input</text>
<circle cx="138.5" cy="1817.1" r="2.4" fill="#1d3cc4"/>
<circle cx="138.5" cy="1836" r="2.4" fill="#000"/>
<text x="163" y="1823.2" font-size="17" fill="#111" >Flag</text>
<text x="163" y="1842.2" font-size="17" fill="#111" >IgG</text>
<line x1="124.3" y1="2015" x2="124.3" y2="2022.5" stroke="#111" stroke-width="1.6" />
<text transform="translate(127.3 2038) rotate(-30)" font-size="16.8" text-anchor="end" fill="#111">CBX5 E1-I1</text>
<path d="M109.9 2015 V1911.5 H120.5 V2015" fill="#fff" stroke="#1d3cc4" stroke-width="2.2"/>
<line x1="115.2" y1="1924" x2="115.2" y2="1900.1" stroke="#1d3cc4" stroke-width="1.6" />
<line x1="111.7" y1="1900.1" x2="118.7" y2="1900.1" stroke="#1d3cc4" stroke-width="1.6" />
<line x1="111.7" y1="1924" x2="118.7" y2="1924" stroke="#1d3cc4" stroke-width="1.6" />
<circle cx="115.2" cy="1891.2" r="2.3" fill="#1d3cc4"/>
<circle cx="118.2" cy="1900.1" r="2.3" fill="#1d3cc4"/>
<circle cx="112.2" cy="1912.1" r="2.3" fill="#1d3cc4"/>
<circle cx="116.7" cy="1938.9" r="2.3" fill="#1d3cc4"/>
<rect x="128.4" y="2011.9" width="11" height="3.8" rx="1.9" fill="#000"/>
<line x1="174.2" y1="2015" x2="174.2" y2="2022.5" stroke="#111" stroke-width="1.6" />
<text transform="translate(177.2 2038) rotate(-30)" font-size="16.8" text-anchor="end" fill="#111">CBS</text>
<path d="M159.8 2015 V2003.7 H170.4 V2015" fill="#fff" stroke="#1d3cc4" stroke-width="2.2"/>
<line x1="165.1" y1="2005.7" x2="165.1" y2="2001.6" stroke="#1d3cc4" stroke-width="1.6" />
<line x1="161.6" y1="2001.6" x2="168.6" y2="2001.6" stroke="#1d3cc4" stroke-width="1.6" />
<line x1="161.6" y1="2005.7" x2="168.6" y2="2005.7" stroke="#1d3cc4" stroke-width="1.6" />
<circle cx="165.1" cy="2000.1" r="2.3" fill="#1d3cc4"/>
<circle cx="168.1" cy="2003.1" r="2.3" fill="#1d3cc4"/>
<circle cx="162.1" cy="2004.6" r="2.3" fill="#1d3cc4"/>
<circle cx="166.6" cy="2006" r="2.3" fill="#1d3cc4"/>
<rect x="178.3" y="2011.9" width="11" height="3.8" rx="1.9" fill="#000"/>
<line x1="224.1" y1="2015" x2="224.1" y2="2022.5" stroke="#111" stroke-width="1.6" />
<text transform="translate(227.1 2038) rotate(-30)" font-size="16.8" text-anchor="end" fill="#111">DACH1</text>
<path d="M209.7 2015 V1971.7 H220.3 V2015" fill="#fff" stroke="#1d3cc4" stroke-width="2.2"/>
<line x1="215" y1="1976.2" x2="215" y2="1967.3" stroke="#1d3cc4" stroke-width="1.6" />
<line x1="211.5" y1="1967.3" x2="218.5" y2="1967.3" stroke="#1d3cc4" stroke-width="1.6" />
<line x1="211.5" y1="1976.2" x2="218.5" y2="1976.2" stroke="#1d3cc4" stroke-width="1.6" />
<circle cx="215" cy="1962.8" r="2.3" fill="#1d3cc4"/>
<circle cx="218" cy="1970.2" r="2.3" fill="#1d3cc4"/>
<circle cx="212" cy="1973.2" r="2.3" fill="#1d3cc4"/>
<circle cx="216.5" cy="1980.7" r="2.3" fill="#1d3cc4"/>
<rect x="228.2" y="2011.9" width="11" height="3.8" rx="1.9" fill="#000"/>
<line x1="274" y1="2015" x2="274" y2="2022.5" stroke="#111" stroke-width="1.6" />
<text transform="translate(277 2038) rotate(-30)" font-size="16.8" text-anchor="end" fill="#111">SEPT11</text>
<line x1="259.6" y1="2015" x2="259.6" y2="1865.8" stroke="#1d3cc4" stroke-width="2.2" />
<line x1="270.2" y1="2015" x2="270.2" y2="1865.8" stroke="#1d3cc4" stroke-width="2.2" />
<path d="M259.6 1846.9 V1828.7 H270.2 V1846.9" fill="none" stroke="#1d3cc4" stroke-width="2.2"/>
<line x1="264.9" y1="1828.7" x2="264.9" y2="1822.3" stroke="#1d3cc4" stroke-width="1.8" />
<line x1="261.4" y1="1822.3" x2="268.4" y2="1822.3" stroke="#1d3cc4" stroke-width="1.8" />
<line x1="264.9" y1="1828.7" x2="264.9" y2="1834.1" stroke="#1d3cc4" stroke-width="1.8" />
<circle cx="260.9" cy="1817.1" r="2.3" fill="#1d3cc4"/>
<circle cx="268.9" cy="1820.7" r="2.3" fill="#1d3cc4"/>
<circle cx="263.9" cy="1830.9" r="2.3" fill="#1d3cc4"/>
<circle cx="266.9" cy="1833.1" r="2.3" fill="#1d3cc4"/>
<rect x="278.1" y="2011.9" width="11" height="3.8" rx="1.9" fill="#000"/>
<line x1="323.9" y1="2015" x2="323.9" y2="2022.5" stroke="#111" stroke-width="1.6" />
<text transform="translate(326.9 2038) rotate(-30)" font-size="16.8" text-anchor="end" fill="#111">UNG</text>
<path d="M309.5 2015 V2008.3 H320.1 V2015" fill="#fff" stroke="#1d3cc4" stroke-width="2.2"/>
<line x1="314.8" y1="2009.3" x2="314.8" y2="2007.2" stroke="#1d3cc4" stroke-width="1.6" />
<line x1="311.3" y1="2007.2" x2="318.3" y2="2007.2" stroke="#1d3cc4" stroke-width="1.6" />
<line x1="311.3" y1="2009.3" x2="318.3" y2="2009.3" stroke="#1d3cc4" stroke-width="1.6" />
<circle cx="314.8" cy="2006.8" r="2.3" fill="#1d3cc4"/>
<circle cx="317.8" cy="2007.8" r="2.3" fill="#1d3cc4"/>
<circle cx="311.8" cy="2008.7" r="2.3" fill="#1d3cc4"/>
<rect x="328" y="2011.9" width="11" height="3.8" rx="1.9" fill="#000"/>
<line x1="373.8" y1="2015" x2="373.8" y2="2022.5" stroke="#111" stroke-width="1.6" />
<text transform="translate(376.8 2038) rotate(-30)" font-size="16.8" text-anchor="end" fill="#111">XBP1</text>
<path d="M359.4 2015 V1986.7 H370 V2015" fill="#fff" stroke="#1d3cc4" stroke-width="2.2"/>
<line x1="364.7" y1="1990.4" x2="364.7" y2="1982.9" stroke="#1d3cc4" stroke-width="1.6" />
<line x1="361.2" y1="1982.9" x2="368.2" y2="1982.9" stroke="#1d3cc4" stroke-width="1.6" />
<line x1="361.2" y1="1990.4" x2="368.2" y2="1990.4" stroke="#1d3cc4" stroke-width="1.6" />
<circle cx="364.7" cy="1980.7" r="2.3" fill="#1d3cc4"/>
<circle cx="367.7" cy="1983.7" r="2.3" fill="#1d3cc4"/>
<circle cx="361.7" cy="1994.1" r="2.3" fill="#1d3cc4"/>
<rect x="377.9" y="2011.9" width="11" height="3.8" rx="1.9" fill="#000"/>
<line x1="423.7" y1="2015" x2="423.7" y2="2022.5" stroke="#111" stroke-width="1.6" />
<text transform="translate(426.7 2038) rotate(-30)" font-size="16.8" text-anchor="end" fill="#111">KLHL23</text>
<path d="M409.3 2015 V1996.1 H419.9 V2015" fill="#fff" stroke="#1d3cc4" stroke-width="2.2"/>
<line x1="414.6" y1="1999.3" x2="414.6" y2="1992.6" stroke="#1d3cc4" stroke-width="1.6" />
<line x1="411.1" y1="1992.6" x2="418.1" y2="1992.6" stroke="#1d3cc4" stroke-width="1.6" />
<line x1="411.1" y1="1999.3" x2="418.1" y2="1999.3" stroke="#1d3cc4" stroke-width="1.6" />
<circle cx="414.6" cy="1988.1" r="2.3" fill="#1d3cc4"/>
<circle cx="417.6" cy="1995.6" r="2.3" fill="#1d3cc4"/>
<circle cx="411.6" cy="2000.1" r="2.3" fill="#1d3cc4"/>
<path d="M428 2015 V1993.4 H438.6 V2015 Z" fill="#fff" stroke="#000" stroke-width="3"/>
<line x1="433.3" y1="1997.8" x2="433.3" y2="1988.9" stroke="#000" stroke-width="1.6" />
<line x1="429.8" y1="1988.9" x2="436.8" y2="1988.9" stroke="#000" stroke-width="1.6" />
<circle cx="433.3" cy="1985.2" r="2.6" fill="#000"/>
<circle cx="431.3" cy="1992.6" r="2.6" fill="#000"/>
<circle cx="435.3" cy="2000.1" r="2.6" fill="#000"/>
<line x1="473.6" y1="2015" x2="473.6" y2="2022.5" stroke="#111" stroke-width="1.6" />
<text transform="translate(476.6 2038) rotate(-30)" font-size="16.8" text-anchor="end" fill="#111">PABPC4</text>
<path d="M459.2 2015 V1976.2 H469.8 V2015" fill="#fff" stroke="#1d3cc4" stroke-width="2.2"/>
<line x1="464.5" y1="1980.7" x2="464.5" y2="1971.7" stroke="#1d3cc4" stroke-width="1.6" />
<line x1="461" y1="1971.7" x2="468" y2="1971.7" stroke="#1d3cc4" stroke-width="1.6" />
<line x1="461" y1="1980.7" x2="468" y2="1980.7" stroke="#1d3cc4" stroke-width="1.6" />
<circle cx="464.5" cy="1964.3" r="2.3" fill="#1d3cc4"/>
<circle cx="467.5" cy="1976.2" r="2.3" fill="#1d3cc4"/>
<circle cx="461.5" cy="1982.2" r="2.3" fill="#1d3cc4"/>
<rect x="477.7" y="2011.9" width="11" height="3.8" rx="1.9" fill="#000"/>
<line x1="523.5" y1="2015" x2="523.5" y2="2022.5" stroke="#111" stroke-width="1.6" />
<text transform="translate(526.5 2038) rotate(-30)" font-size="16.8" text-anchor="end" fill="#111">SLC38A1</text>
<path d="M509.1 2015 V1974.7 H519.7 V2015" fill="#fff" stroke="#1d3cc4" stroke-width="2.2"/>
<line x1="514.4" y1="1979.9" x2="514.4" y2="1968.7" stroke="#1d3cc4" stroke-width="1.6" />
<line x1="510.9" y1="1968.7" x2="517.9" y2="1968.7" stroke="#1d3cc4" stroke-width="1.6" />
<line x1="510.9" y1="1979.9" x2="517.9" y2="1979.9" stroke="#1d3cc4" stroke-width="1.6" />
<circle cx="514.4" cy="1959.8" r="2.3" fill="#1d3cc4"/>
<circle cx="517.4" cy="1973.2" r="2.3" fill="#1d3cc4"/>
<circle cx="511.4" cy="1977.7" r="2.3" fill="#1d3cc4"/>
<rect x="527.6" y="2011.9" width="11" height="3.8" rx="1.9" fill="#000"/>
<line x1="573.4" y1="2015" x2="573.4" y2="2022.5" stroke="#111" stroke-width="1.6" />
<text transform="translate(576.4 2038) rotate(-30)" font-size="16.8" text-anchor="end" fill="#111">UBE3C</text>
<path d="M559 2015 V1988.1 H569.6 V2015" fill="#fff" stroke="#1d3cc4" stroke-width="2.2"/>
<line x1="564.3" y1="1991.9" x2="564.3" y2="1984.4" stroke="#1d3cc4" stroke-width="1.6" />
<line x1="560.8" y1="1984.4" x2="567.8" y2="1984.4" stroke="#1d3cc4" stroke-width="1.6" />
<line x1="560.8" y1="1991.9" x2="567.8" y2="1991.9" stroke="#1d3cc4" stroke-width="1.6" />
<circle cx="564.3" cy="1977.7" r="2.3" fill="#1d3cc4"/>
<circle cx="567.3" cy="1988.1" r="2.3" fill="#1d3cc4"/>
<circle cx="561.3" cy="1989.6" r="2.3" fill="#1d3cc4"/>
<rect x="577.5" y="2011.9" width="11" height="3.8" rx="1.9" fill="#000"/>
<line x1="623.3" y1="2015" x2="623.3" y2="2022.5" stroke="#111" stroke-width="1.6" />
<text transform="translate(626.3 2038) rotate(-30)" font-size="16.8" text-anchor="end" fill="#111">ARPC3</text>
<path d="M608.9 2015 V1968.7 H619.5 V2015" fill="#fff" stroke="#1d3cc4" stroke-width="2.2"/>
<line x1="614.2" y1="1971.7" x2="614.2" y2="1965.8" stroke="#1d3cc4" stroke-width="1.6" />
<line x1="610.7" y1="1965.8" x2="617.7" y2="1965.8" stroke="#1d3cc4" stroke-width="1.6" />
<line x1="610.7" y1="1971.7" x2="617.7" y2="1971.7" stroke="#1d3cc4" stroke-width="1.6" />
<circle cx="614.2" cy="1964.3" r="2.3" fill="#1d3cc4"/>
<circle cx="617.2" cy="1965.8" r="2.3" fill="#1d3cc4"/>
<circle cx="611.2" cy="1973.2" r="2.3" fill="#1d3cc4"/>
<rect x="627.4" y="2011.9" width="11" height="3.8" rx="1.9" fill="#000"/>
<g stroke="#2a2a2a" stroke-width="1.5" fill="none">
<rect x="673.3" y="1803.3" width="164.3" height="222.8"/>
<line x1="673.3" y1="1821.9" x2="837.6" y2="1821.9"/>
<line x1="673.3" y1="1840.4" x2="837.6" y2="1840.4"/>
<line x1="673.3" y1="1859" x2="837.6" y2="1859"/>
<line x1="673.3" y1="1877.6" x2="837.6" y2="1877.6"/>
<line x1="673.3" y1="1896.1" x2="837.6" y2="1896.1"/>
<line x1="673.3" y1="1914.7" x2="837.6" y2="1914.7"/>
<line x1="673.3" y1="1933.3" x2="837.6" y2="1933.3"/>
<line x1="673.3" y1="1951.9" x2="837.6" y2="1951.9"/>
<line x1="673.3" y1="1970.4" x2="837.6" y2="1970.4"/>
<line x1="673.3" y1="1989" x2="837.6" y2="1989"/>
<line x1="673.3" y1="2007.6" x2="837.6" y2="2007.6"/>
<line x1="763.1" y1="1803.3" x2="763.1" y2="2026.1"/>
</g>
<text x="800.4" y="1817.1" font-size="13.5" text-anchor="middle" fill="#111" >p value</text>
<text x="682.8" y="1835.9" font-size="13.5" fill="#111" >CBX5 E1-I1</text>
<text x="800.4" y="1835.9" font-size="13.5" text-anchor="middle" fill="#111" >0.000076</text>
<text x="682.8" y="1854.4" font-size="13.5" fill="#111" >CBS</text>
<text x="800.4" y="1854.4" font-size="13.5" text-anchor="middle" fill="#111" >0.002110</text>
<text x="682.8" y="1873" font-size="13.5" fill="#111" >DACH1</text>
<text x="800.4" y="1873" font-size="13.5" text-anchor="middle" fill="#111" >0.000031</text>
<text x="682.8" y="1891.6" font-size="13.5" fill="#111" >SEPT11</text>
<text x="800.4" y="1891.6" font-size="13.5" text-anchor="middle" fill="#111" >0.000020</text>
<text x="682.8" y="1910.1" font-size="13.5" fill="#111" >UNG</text>
<text x="800.4" y="1910.1" font-size="13.5" text-anchor="middle" fill="#111" >0.000076</text>
<text x="682.8" y="1928.7" font-size="13.5" fill="#111" >XBP1</text>
<text x="800.4" y="1928.7" font-size="13.5" text-anchor="middle" fill="#111" >0.002397</text>
<text x="682.8" y="1947.3" font-size="13.5" fill="#111" >KLHL23</text>
<text x="800.4" y="1947.3" font-size="13.5" text-anchor="middle" fill="#111" >0.559560</text>
<text x="682.8" y="1965.9" font-size="13.5" fill="#111" >PABPC4</text>
<text x="800.4" y="1965.9" font-size="13.5" text-anchor="middle" fill="#111" >0.000060</text>
<text x="682.8" y="1984.4" font-size="13.5" fill="#111" >SLC38A1</text>
<text x="800.4" y="1984.4" font-size="13.5" text-anchor="middle" fill="#111" >0.000199</text>
<text x="682.8" y="2003" font-size="13.5" fill="#111" >UBE3C</text>
<text x="800.4" y="2003" font-size="13.5" text-anchor="middle" fill="#111" >0.000098</text>
<text x="682.8" y="2021.6" font-size="13.5" fill="#111" >ARPC3</text>
<text x="800.4" y="2021.6" font-size="13.5" text-anchor="middle" fill="#111" >0.000007</text>
<text x="921" y="1751" font-size="29" font-weight="bold" fill="#000" >j</text>
<text x="1137.3" y="1759" font-size="19.9" text-anchor="middle" fill="#111" >RBMX/L1_direct pathway signature</text>
<rect x="995.5" y="1778.4" width="300" height="285.9" fill="none" stroke="#555" stroke-width="1.1" />
<line x1="987.7" y1="2053.4" x2="995.5" y2="2053.4" stroke="#555" stroke-width="1.1" />
<text transform="translate(977.5 2053.4) rotate(-90)" font-size="13" text-anchor="middle" fill="#333">0.0</text>
<line x1="987.7" y1="2000.5" x2="995.5" y2="2000.5" stroke="#555" stroke-width="1.1" />
<text transform="translate(977.5 2000.5) rotate(-90)" font-size="13" text-anchor="middle" fill="#333">0.2</text>
<line x1="987.7" y1="1947.6" x2="995.5" y2="1947.6" stroke="#555" stroke-width="1.1" />
<text transform="translate(977.5 1947.6) rotate(-90)" font-size="13" text-anchor="middle" fill="#333">0.4</text>
<line x1="987.7" y1="1894.8" x2="995.5" y2="1894.8" stroke="#555" stroke-width="1.1" />
<text transform="translate(977.5 1894.8) rotate(-90)" font-size="13" text-anchor="middle" fill="#333">0.6</text>
<line x1="987.7" y1="1841.9" x2="995.5" y2="1841.9" stroke="#555" stroke-width="1.1" />
<text transform="translate(977.5 1841.9) rotate(-90)" font-size="13" text-anchor="middle" fill="#333">0.8</text>
<line x1="987.7" y1="1789" x2="995.5" y2="1789" stroke="#555" stroke-width="1.1" />
<text transform="translate(977.5 1789) rotate(-90)" font-size="13" text-anchor="middle" fill="#333">1.0</text>
<line x1="995.5" y1="2064.3" x2="1235.9" y2="2064.3" stroke="#555" stroke-width="1.1" />
<line x1="995.5" y1="2064.3" x2="995.5" y2="2071.5" stroke="#555" stroke-width="1.1" />
<text x="995.5" y="2092" font-size="13" text-anchor="middle" fill="#333" >0</text>
<line x1="1055.6" y1="2064.3" x2="1055.6" y2="2071.5" stroke="#555" stroke-width="1.1" />
<text x="1055.6" y="2092" font-size="13" text-anchor="middle" fill="#333" >20</text>
<line x1="1115.7" y1="2064.3" x2="1115.7" y2="2071.5" stroke="#555" stroke-width="1.1" />
<text x="1115.7" y="2092" font-size="13" text-anchor="middle" fill="#333" >40</text>
<line x1="1175.8" y1="2064.3" x2="1175.8" y2="2071.5" stroke="#555" stroke-width="1.1" />
<text x="1175.8" y="2092" font-size="13" text-anchor="middle" fill="#333" >60</text>
<line x1="1235.9" y1="2064.3" x2="1235.9" y2="2071.5" stroke="#555" stroke-width="1.1" />
<text x="1235.9" y="2092" font-size="13" text-anchor="middle" fill="#333" >80</text>
<text x="1144.9" y="2112.5" font-size="16.5" text-anchor="middle" fill="#111" >Months</text>
<text transform="translate(954.5 1921.8) rotate(-90)" font-size="16.5" text-anchor="middle" fill="#111">Percent survival</text>
<path d="M995.5 1789 H1000.9 V1808.6 H1016.1 V1828.4 H1019.2 V1848.2 H1022.2 V1857.5 H1058.3 V1869.1 H1208.9" fill="none" stroke="#1632c0" stroke-width="1.8"/>
<line x1="1025.2" y1="1853.5" x2="1025.2" y2="1861.5" stroke="#1632c0" stroke-width="0.9" />
<line x1="1046.3" y1="1853.5" x2="1046.3" y2="1861.5" stroke="#1632c0" stroke-width="0.9" />
<line x1="1061.6" y1="1865.1" x2="1061.6" y2="1873.1" stroke="#1632c0" stroke-width="0.9" />
<line x1="1064.3" y1="1865.1" x2="1064.3" y2="1873.1" stroke="#1632c0" stroke-width="0.9" />
<line x1="1067" y1="1865.1" x2="1067" y2="1873.1" stroke="#1632c0" stroke-width="0.9" />
<line x1="1070.3" y1="1865.1" x2="1070.3" y2="1873.1" stroke="#1632c0" stroke-width="0.9" />
<line x1="1100.4" y1="1865.1" x2="1100.4" y2="1873.1" stroke="#1632c0" stroke-width="0.9" />
<line x1="1109.7" y1="1865.1" x2="1109.7" y2="1873.1" stroke="#1632c0" stroke-width="0.9" />
<line x1="1112.7" y1="1865.1" x2="1112.7" y2="1873.1" stroke="#1632c0" stroke-width="0.9" />
<line x1="1115.1" y1="1865.1" x2="1115.1" y2="1873.1" stroke="#1632c0" stroke-width="0.9" />
<line x1="1117.8" y1="1865.1" x2="1117.8" y2="1873.1" stroke="#1632c0" stroke-width="0.9" />
<line x1="1139.7" y1="1865.1" x2="1139.7" y2="1873.1" stroke="#1632c0" stroke-width="0.9" />
<line x1="1154.2" y1="1865.1" x2="1154.2" y2="1873.1" stroke="#1632c0" stroke-width="0.9" />
<line x1="1163.5" y1="1865.1" x2="1163.5" y2="1873.1" stroke="#1632c0" stroke-width="0.9" />
<line x1="1169.5" y1="1865.1" x2="1169.5" y2="1873.1" stroke="#1632c0" stroke-width="0.9" />
<line x1="1184.8" y1="1865.1" x2="1184.8" y2="1873.1" stroke="#1632c0" stroke-width="0.9" />
<line x1="1208.9" y1="1865.1" x2="1208.9" y2="1873.1" stroke="#1632c0" stroke-width="0.9" />
<path d="M995.5 1789 H1000.9 V1808.6 H1003.9 V1814.1 H1006.9 V1819.4 H1009.9 V1825 H1012.6 V1830.5 H1015.3 V1836.1 H1018 V1841.6 H1020.7 V1847.2 H1023.4 V1852.7 H1026.5 V1855.6 H1029.8 V1858.3 H1033.7 V1866.2 H1035.2 V1877.3 H1039.7 V1882.1 H1045.7 V1896.1 H1049 V1900.6 H1055 V1910.6 H1057.7 V1913.8 H1061.6 V1916.4 H1064.3 V1919.1 H1069.4 V1924.4 H1072.7 V1930.5 H1076 V1935.7 H1078.7 V1948.2 H1082 V1952.4 H1088.1 V1958.2 H1136.4 V1964.8 H1138.8 V1972.8 H1160.8 V1983.1 H1287" fill="none" stroke="#e0312a" stroke-width="1.8"/>
<line x1="1025.5" y1="1851.6" x2="1025.5" y2="1859.6" stroke="#e0312a" stroke-width="0.9" />
<line x1="1090.2" y1="1954.2" x2="1090.2" y2="1962.2" stroke="#e0312a" stroke-width="0.9" />
<line x1="1118.4" y1="1954.2" x2="1118.4" y2="1962.2" stroke="#e0312a" stroke-width="0.9" />
<line x1="1124.4" y1="1954.2" x2="1124.4" y2="1962.2" stroke="#e0312a" stroke-width="0.9" />
<line x1="1144.8" y1="1968.8" x2="1144.8" y2="1976.8" stroke="#e0312a" stroke-width="0.9" />
<line x1="1151.8" y1="1968.8" x2="1151.8" y2="1976.8" stroke="#e0312a" stroke-width="0.9" />
<line x1="1155.1" y1="1968.8" x2="1155.1" y2="1976.8" stroke="#e0312a" stroke-width="0.9" />
<line x1="1158.7" y1="1968.8" x2="1158.7" y2="1976.8" stroke="#e0312a" stroke-width="0.9" />
<line x1="1175.8" y1="1979.1" x2="1175.8" y2="1987.1" stroke="#e0312a" stroke-width="0.9" />
<line x1="1178.2" y1="1979.1" x2="1178.2" y2="1987.1" stroke="#e0312a" stroke-width="0.9" />
<line x1="1184.5" y1="1979.1" x2="1184.5" y2="1987.1" stroke="#e0312a" stroke-width="0.9" />
<line x1="1221.5" y1="1979.1" x2="1221.5" y2="1987.1" stroke="#e0312a" stroke-width="0.9" />
<line x1="1226.3" y1="1979.1" x2="1226.3" y2="1987.1" stroke="#e0312a" stroke-width="0.9" />
<line x1="1247.9" y1="1979.1" x2="1247.9" y2="1987.1" stroke="#e0312a" stroke-width="0.9" />
<line x1="1284" y1="1979.1" x2="1284" y2="1987.1" stroke="#e0312a" stroke-width="0.9" />
<line x1="1123.5" y1="1791.8" x2="1146.3" y2="1791.8" stroke="#1632c0" stroke-width="2" />
<line x1="1123.5" y1="1804.3" x2="1146.3" y2="1804.3" stroke="#e0312a" stroke-width="2" />
<text x="1152.4" y="1797" font-size="12.5" fill="#111" >Low 8 Signatures Group</text>
<text x="1152.4" y="1809.5" font-size="12.5" fill="#111" >High 8 Signatures Group</text>
<text x="1287.7" y="1823.9" font-size="12.5" text-anchor="end" fill="#111" >Logrank p=0.023</text>
<text x="1287.7" y="1838.9" font-size="12.5" text-anchor="end" fill="#111" >HR(high)=2.3</text>
<text x="1287.7" y="1853.8" font-size="12.5" text-anchor="end" fill="#111" >p(HR)=0.028</text>
<text x="1287.7" y="1868.8" font-size="12.5" text-anchor="end" fill="#111" >n(high)=79</text>
<text x="1287.7" y="1883.7" font-size="12.5" text-anchor="end" fill="#111" >n(low)=27</text>
<text x="1139.4" y="2023" font-size="17.2" text-anchor="middle" fill="#111" >Cut-off 25% hi vs 25% low</text>
</svg>
</body></html>
